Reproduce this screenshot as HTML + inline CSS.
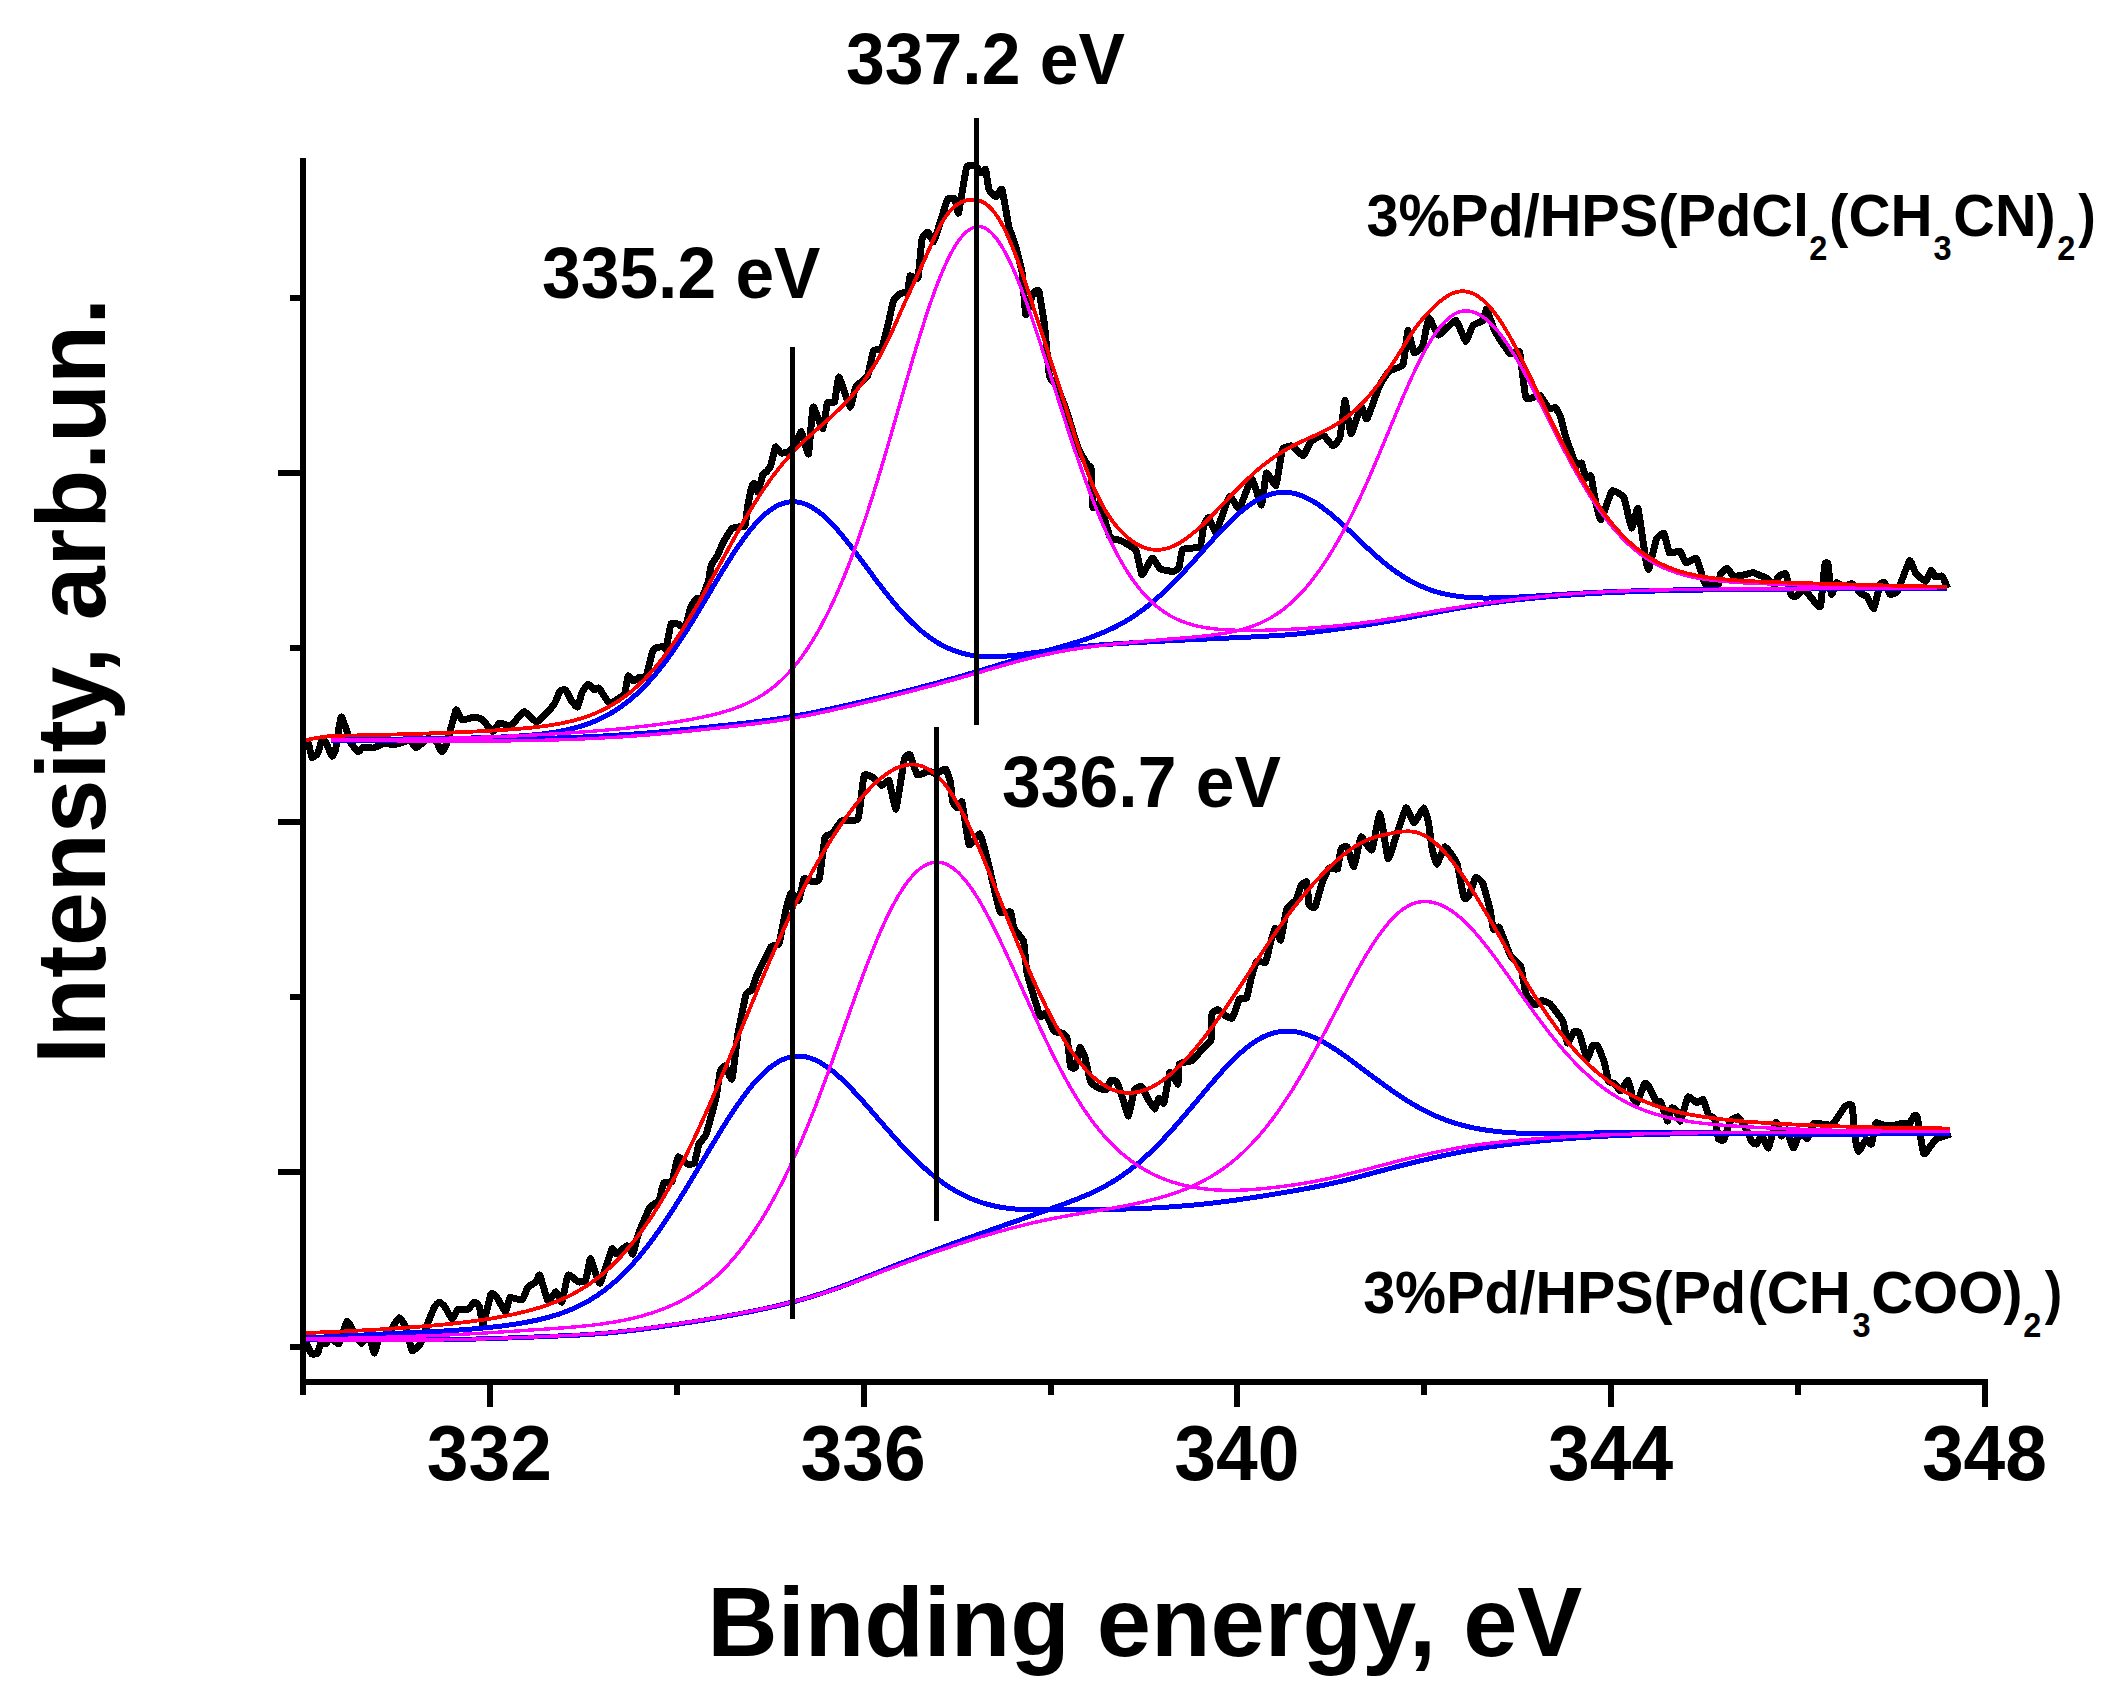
<!DOCTYPE html>
<html lang="en"><head><meta charset="utf-8"><title>XPS Pd 3d spectra</title>
<style>
html,body{margin:0;padding:0;background:#fff;}
body{width:2117px;height:1707px;overflow:hidden;}
svg{display:block;}
text{font-family:"Liberation Sans",sans-serif;font-weight:bold;fill:#000;}
.tl{font-size:78px;}
.at{font-size:99px;}
.pk{font-size:72px;}
.cl{font-size:60px;}
.sub{font-size:35px;}
path{fill:none;stroke-linejoin:round;stroke-linecap:butt;shape-rendering:crispEdges;}
rect{shape-rendering:crispEdges;}
.k{stroke:#000;stroke-width:7;}
.b{stroke:#0000ff;stroke-width:5;}
.m{stroke:#ff00ff;stroke-width:3.4;}
.r{stroke:#ff0000;stroke-width:3.8;}
.ax rect{fill:#000;}
</style></head><body>
<svg width="2117" height="1707" viewBox="0 0 2117 1707">
<rect width="2117" height="1707" fill="#fff"/>
<path d="M302.0,743.0C302.4,742.9 307.3,741.0 308.0,742.0C308.7,743.0 311.3,756.9 312.0,757.6C312.7,758.3 317.3,754.2 318.0,753.0C318.7,751.8 321.5,739.7 322.0,739.0C322.5,738.3 325.3,741.9 326.0,743.0C326.7,744.1 331.4,755.5 332.0,756.0C332.6,756.5 334.9,752.6 335.5,750.0C336.1,747.4 340.2,718.2 341.0,717.0C341.8,715.8 346.3,729.8 347.0,731.5C347.7,733.2 350.3,741.6 351.0,743.0C351.7,744.4 357.2,751.7 358.0,752.0C358.8,752.3 362.0,747.3 363.0,747.0C364.0,746.7 371.6,748.2 373.0,748.0C374.4,747.8 382.6,743.7 384.0,743.5C385.4,743.3 393.2,744.6 394.5,744.5C395.8,744.4 403.0,742.3 404.0,742.0C405.0,741.7 409.2,739.6 410.0,740.0C410.8,740.4 414.8,748.1 416.0,748.0C417.2,747.9 426.2,739.2 427.5,738.7C428.8,738.2 435.0,740.1 436.0,741.0C437.0,741.9 441.2,752.0 442.0,752.0C442.8,752.0 446.7,743.8 447.6,741.0C448.5,738.2 455.0,711.4 456.0,710.0C457.0,708.6 460.7,719.5 462.0,720.0C463.3,720.5 473.6,717.0 475.0,717.0C476.4,717.0 481.8,719.0 483.0,720.0C484.2,721.0 491.4,731.4 492.5,731.6C493.6,731.8 498.4,723.4 499.6,723.0C500.8,722.6 509.4,726.5 511.0,725.7C512.6,724.9 522.3,711.7 524.0,711.5C525.7,711.3 535.0,722.5 537.0,722.0C539.0,721.5 552.5,706.6 554.0,704.5C555.5,702.4 559.2,692.0 560.0,691.0C560.8,690.0 564.9,689.3 565.7,690.0C566.5,690.7 570.8,699.9 571.6,701.0C572.4,702.1 576.8,707.6 577.5,707.0C578.2,706.4 581.3,694.1 582.0,692.6C582.7,691.1 587.2,684.2 588.0,684.0C588.8,683.8 593.3,689.7 594.0,690.0C594.7,690.3 598.0,687.1 599.0,688.0C600.0,688.9 607.7,702.3 609.0,703.0C610.3,703.7 617.9,699.2 619.0,698.5C620.1,697.8 624.4,694.1 625.0,692.6C625.6,691.1 627.5,676.8 628.0,676.0C628.5,675.2 632.2,680.9 633.0,681.0C633.8,681.1 639.1,677.3 640.0,677.0C640.9,676.7 645.2,678.6 646.0,677.0C646.8,675.4 651.4,655.6 652.0,653.7C652.6,651.8 654.2,648.5 655.0,648.0C655.8,647.5 663.3,646.5 664.0,646.6C664.7,646.7 665.5,650.5 666.0,649.0C666.5,647.5 670.2,625.7 671.0,624.0C671.8,622.3 677.1,623.7 678.0,624.0C678.9,624.3 684.1,629.2 685.0,628.0C685.9,626.8 690.2,608.4 691.0,606.4C691.8,604.4 696.3,598.5 697.0,598.0C697.7,597.5 700.7,600.2 701.5,599.0C702.3,597.8 708.0,582.7 708.6,580.5C709.2,578.3 710.4,567.7 711.0,566.0C711.6,564.3 717.2,556.1 718.0,554.5C718.8,552.9 722.1,544.4 723.0,542.7C723.9,541.0 731.0,529.5 732.0,528.5C733.0,527.5 737.1,527.2 738.0,527.0C738.9,526.8 744.4,527.3 745.0,526.0C745.6,524.7 747.1,509.7 747.6,507.0C748.1,504.3 751.5,487.6 752.0,486.0C752.5,484.4 754.2,483.2 754.6,483.6C755.0,484.0 757.4,492.6 758.0,492.0C758.6,491.4 762.4,475.3 763.0,474.0C763.6,472.7 766.0,472.6 766.5,472.0C767.0,471.4 770.4,466.7 771.0,465.0C771.6,463.3 774.7,447.8 775.4,447.0C776.1,446.2 780.1,452.7 781.0,453.0C781.9,453.3 787.4,452.6 788.4,452.0C789.4,451.4 794.6,444.9 795.5,443.5C796.4,442.1 800.5,431.0 801.4,431.7C802.3,432.4 807.7,455.6 808.5,454.0C809.3,452.4 812.1,408.7 813.0,407.0C813.9,405.3 821.7,429.3 822.7,429.0C823.7,428.7 826.6,404.8 827.4,403.0C828.2,401.2 833.7,403.7 834.5,402.0C835.3,400.3 838.0,376.7 839.0,377.0C840.0,377.3 848.9,406.3 850.0,407.0C851.1,407.7 854.5,389.1 855.7,387.0C856.9,384.9 866.3,378.4 867.5,376.0C868.7,373.6 872.5,352.9 873.4,351.0C874.3,349.1 880.8,349.6 881.7,348.0C882.6,346.4 886.8,329.8 887.6,326.6C888.4,323.4 892.6,302.8 893.5,300.6C894.4,298.4 899.7,294.1 900.6,293.5C901.5,292.9 907.1,292.2 907.7,291.0C908.3,289.8 909.3,276.7 910.0,275.8C910.7,274.9 917.2,280.5 918.0,278.0C918.8,275.5 921.3,242.1 922.0,239.0C922.7,235.9 927.0,231.8 927.8,232.0C928.6,232.2 932.8,242.4 933.7,241.6C934.6,240.8 939.9,223.1 940.8,220.3C941.7,217.5 946.9,200.4 947.8,199.0C948.7,197.6 954.3,198.1 955.0,199.0C955.7,199.9 957.7,215.1 958.5,213.0C959.3,210.9 965.5,170.1 966.7,167.0C967.9,163.9 975.0,165.6 976.0,166.0C977.0,166.4 980.4,172.8 981.0,173.0C981.6,173.2 985.1,168.4 985.6,169.5C986.1,170.6 988.3,187.8 989.0,189.6C989.7,191.4 995.1,196.7 996.0,196.7C996.9,196.7 1001.1,187.6 1002.0,189.6C1002.9,191.6 1008.1,223.4 1009.0,227.0C1009.9,230.6 1014.1,241.0 1015.0,244.0C1015.9,247.0 1021.3,267.3 1022.0,272.0C1022.7,276.7 1025.1,313.4 1025.8,314.8C1026.5,316.2 1032.1,295.1 1033.0,293.5C1033.9,291.9 1038.0,288.8 1038.8,291.0C1039.6,293.2 1044.0,320.9 1044.7,326.6C1045.4,332.3 1048.6,372.1 1049.4,376.0C1050.2,379.9 1055.4,383.4 1056.5,385.6C1057.6,387.8 1064.6,404.9 1066.0,409.0C1067.4,413.1 1076.2,443.1 1077.7,447.0C1079.2,450.9 1088.1,465.5 1089.0,466.9C1089.9,468.3 1090.7,465.3 1091.0,468.0C1091.3,470.7 1092.4,505.1 1093.0,507.5C1093.6,509.9 1098.9,501.7 1100.0,503.7C1101.1,505.7 1108.6,534.5 1110.0,537.0C1111.4,539.5 1119.3,539.8 1121.0,540.7C1122.7,541.6 1134.6,548.2 1136.0,550.5C1137.4,552.8 1140.9,574.5 1142.0,575.0C1143.1,575.5 1150.8,558.4 1152.0,558.0C1153.2,557.6 1159.2,568.1 1160.6,569.0C1162.0,569.9 1171.8,571.5 1173.0,571.4C1174.2,571.3 1178.4,569.2 1179.0,567.7C1179.6,566.2 1181.3,550.7 1182.7,549.3C1184.1,547.9 1198.6,548.4 1200.0,546.8C1201.4,545.2 1203.0,528.0 1203.6,526.0C1204.2,524.0 1207.8,516.9 1208.6,517.3C1209.4,517.7 1214.6,533.4 1216.0,532.0C1217.4,530.6 1227.9,498.0 1229.5,496.4C1231.1,494.8 1237.8,509.9 1239.3,508.7C1240.8,507.5 1250.1,479.2 1251.6,479.0C1253.1,478.8 1260.5,505.4 1261.5,505.0C1262.5,504.6 1265.4,474.3 1266.4,473.0C1267.4,471.7 1274.9,486.9 1276.0,485.3C1277.1,483.7 1281.3,452.2 1282.4,449.6C1283.5,447.0 1290.6,445.6 1292.0,446.0C1293.4,446.4 1302.1,456.1 1303.3,455.8C1304.5,455.5 1309.4,443.4 1310.7,442.0C1312.0,440.6 1321.5,434.6 1323.0,434.9C1324.5,435.2 1331.7,445.8 1332.8,446.0C1333.9,446.2 1339.2,440.3 1340.0,437.3C1340.8,434.3 1344.3,400.6 1345.0,400.4C1345.7,400.2 1349.9,433.2 1351.0,433.6C1352.1,434.0 1359.9,407.6 1361.0,406.6C1362.1,405.6 1365.8,420.3 1367.0,418.9C1368.2,417.5 1378.1,388.8 1379.6,385.6C1381.1,382.4 1387.8,372.3 1389.4,370.9C1391.0,369.5 1401.8,367.4 1403.0,364.7C1404.2,362.0 1407.2,331.1 1407.9,330.3C1408.6,329.5 1413.0,351.3 1414.0,352.4C1415.0,353.5 1421.6,348.6 1422.6,346.3C1423.6,344.0 1427.7,318.7 1428.8,318.0C1429.9,317.3 1436.8,335.0 1438.6,335.2C1440.4,335.4 1454.0,320.0 1455.8,320.4C1457.6,320.8 1464.6,341.1 1465.7,341.4C1466.8,341.7 1471.8,326.8 1473.0,325.4C1474.2,324.0 1482.1,321.5 1483.0,320.4C1483.9,319.3 1485.8,308.7 1486.6,309.4C1487.4,310.1 1493.4,328.5 1495.0,331.5C1496.6,334.5 1508.4,352.3 1510.0,353.7C1511.6,355.1 1518.5,349.1 1519.6,352.0C1520.7,354.9 1524.6,394.9 1526.0,397.8C1527.4,400.7 1538.5,394.9 1540.0,395.6C1541.5,396.3 1547.9,407.9 1548.9,408.7C1549.9,409.5 1554.6,407.0 1555.4,407.6C1556.2,408.2 1560.2,415.5 1560.8,417.3C1561.4,419.1 1564.0,431.5 1565.0,434.7C1566.0,437.9 1574.9,463.1 1576.0,465.0C1577.1,466.9 1580.8,462.1 1581.5,463.0C1582.2,463.9 1585.2,477.1 1585.8,478.0C1586.4,478.9 1590.3,474.4 1591.0,476.0C1591.7,477.6 1594.9,499.1 1595.6,502.0C1596.3,504.9 1599.9,520.2 1601.0,519.5C1602.1,518.8 1610.5,492.5 1612.0,491.0C1613.5,489.5 1622.6,495.2 1623.9,497.7C1625.2,500.2 1630.6,527.3 1631.5,528.0C1632.4,528.7 1637.1,506.6 1638.0,508.6C1638.9,510.6 1644.9,554.5 1645.6,558.6C1646.3,562.7 1648.1,570.7 1648.8,569.4C1649.5,568.1 1655.5,541.4 1656.5,539.0C1657.5,536.6 1663.1,532.7 1664.0,533.6C1664.9,534.5 1668.4,551.8 1669.5,553.0C1670.6,554.2 1678.9,550.3 1680.0,551.0C1681.1,551.7 1684.7,562.5 1685.8,563.0C1686.9,563.5 1695.3,557.2 1696.6,558.6C1697.9,560.0 1703.5,581.9 1705.0,583.6C1706.5,585.3 1717.4,585.4 1718.4,584.7C1719.4,584.0 1719.9,574.9 1720.5,573.8C1721.1,572.7 1726.1,568.3 1727.0,568.4C1727.9,568.5 1732.4,575.6 1733.6,576.0C1734.8,576.4 1743.2,575.1 1744.5,574.9C1745.8,574.7 1751.6,572.5 1753.0,572.7C1754.4,572.9 1764.5,577.2 1766.0,578.0C1767.5,578.8 1774.1,584.8 1774.9,584.7C1775.7,584.6 1777.3,577.7 1778.0,577.0C1778.7,576.3 1784.8,572.6 1785.7,573.8C1786.6,575.0 1790.3,592.9 1791.0,594.4C1791.7,595.9 1794.6,597.0 1795.5,596.6C1796.4,596.2 1802.8,588.8 1804.0,589.0C1805.2,589.2 1811.9,598.7 1813.0,599.9C1814.1,601.1 1819.7,608.7 1820.5,606.4C1821.3,604.1 1824.3,567.8 1824.8,565.0C1825.3,562.2 1827.6,562.0 1828.0,564.0C1828.4,566.0 1830.8,593.2 1831.4,594.4C1832.0,595.6 1836.0,583.0 1836.8,582.5C1837.6,582.0 1842.0,586.7 1843.0,586.8C1844.0,586.9 1850.8,583.2 1852.0,583.6C1853.2,584.0 1859.7,592.5 1860.7,593.4C1861.7,594.3 1866.1,595.6 1867.0,596.6C1867.9,597.6 1872.9,609.4 1873.8,608.6C1874.7,607.8 1879.3,586.4 1880.0,584.7C1880.7,583.0 1883.9,581.9 1884.6,582.5C1885.3,583.1 1889.1,593.8 1890.0,594.4C1890.9,595.0 1896.3,593.2 1897.6,591.0C1898.9,588.8 1908.4,561.9 1909.6,560.8C1910.8,559.7 1914.9,572.4 1916.0,573.8C1917.1,575.2 1925.0,581.6 1926.0,581.4C1927.0,581.2 1930.4,570.8 1931.0,570.5C1931.6,570.2 1935.0,576.6 1935.7,577.0C1936.4,577.4 1941.2,575.3 1942.0,576.0C1942.8,576.7 1947.2,587.2 1947.6,588.0" class="k"/>
<path d="M303.0,1343.0C303.3,1343.1 306.4,1344.1 307.0,1344.8C307.6,1345.5 311.1,1353.5 311.8,1354.0C312.5,1354.5 317.1,1353.8 317.7,1353.0C318.3,1352.2 320.4,1343.1 321.0,1342.5C321.6,1341.9 325.4,1343.9 326.0,1343.6C326.6,1343.3 329.8,1337.7 330.7,1337.7C331.6,1337.7 337.9,1344.7 339.0,1343.6C340.1,1342.5 345.9,1321.5 347.0,1321.0C348.1,1320.5 354.5,1333.9 355.5,1335.4C356.5,1336.9 360.5,1343.6 361.4,1343.6C362.3,1343.6 367.6,1334.8 368.5,1335.4C369.4,1336.0 373.7,1352.8 374.4,1353.0C375.1,1353.2 378.0,1339.1 379.0,1337.7C380.0,1336.3 388.4,1333.1 389.7,1331.8C391.0,1330.5 397.9,1318.0 399.0,1317.7C400.1,1317.4 405.4,1325.8 406.3,1328.0C407.2,1330.2 411.1,1349.7 412.0,1350.7C412.9,1351.7 419.6,1344.9 420.5,1343.6C421.4,1342.3 424.1,1333.0 425.0,1330.6C425.9,1328.2 433.6,1308.9 434.6,1307.0C435.6,1305.1 438.6,1302.0 439.3,1302.0C440.0,1302.0 444.2,1305.9 445.0,1307.0C445.8,1308.1 451.1,1318.6 452.0,1318.8C452.9,1319.0 457.0,1310.0 458.0,1309.4C459.0,1308.8 466.6,1309.9 467.7,1309.4C468.8,1308.9 474.0,1302.2 474.8,1302.0C475.6,1301.8 479.0,1305.5 479.5,1307.0C480.0,1308.5 482.2,1325.6 483.0,1324.7C483.8,1323.8 490.1,1295.8 491.0,1294.0C491.9,1292.2 496.0,1296.4 497.0,1297.6C498.0,1298.8 504.6,1311.8 505.5,1311.8C506.4,1311.8 508.9,1298.4 510.0,1297.6C511.1,1296.8 520.8,1300.7 522.0,1300.0C523.2,1299.3 527.1,1288.2 528.0,1287.0C528.9,1285.8 535.2,1282.8 536.0,1282.0C536.8,1281.2 538.9,1273.7 539.7,1275.0C540.5,1276.3 546.9,1299.9 548.0,1301.0C549.1,1302.1 555.1,1291.6 556.0,1291.7C556.9,1291.8 561.2,1303.1 562.0,1302.0C562.8,1300.9 566.9,1276.3 568.0,1275.0C569.1,1273.7 577.5,1281.7 578.7,1282.0C579.9,1282.3 585.0,1281.5 585.8,1279.9C586.6,1278.3 589.6,1258.4 590.5,1258.6C591.4,1258.8 598.6,1284.0 600.0,1283.4C601.4,1282.8 610.7,1251.0 611.8,1249.0C612.9,1247.0 615.5,1254.2 616.5,1254.0C617.5,1253.8 625.9,1245.6 627.0,1245.6C628.1,1245.6 632.3,1254.6 633.0,1254.0C633.7,1253.4 636.6,1239.1 637.7,1236.0C638.8,1232.9 648.1,1210.2 649.5,1207.8C650.9,1205.4 658.1,1202.4 659.0,1200.7C659.9,1199.0 662.8,1184.3 663.7,1183.0C664.6,1181.7 671.0,1183.5 672.0,1181.8C673.0,1180.1 677.0,1158.2 678.0,1157.0C679.0,1155.8 686.2,1163.6 687.3,1164.0C688.4,1164.4 693.6,1164.3 694.4,1163.0C695.2,1161.7 698.2,1145.9 699.0,1144.0C699.8,1142.1 704.9,1137.6 706.0,1134.6C707.1,1131.6 714.7,1103.3 715.7,1099.0C716.7,1094.7 719.8,1073.0 720.4,1070.8C721.0,1068.6 724.2,1065.5 725.0,1066.0C725.8,1066.5 731.1,1081.1 732.0,1079.0C732.9,1076.9 736.9,1040.3 737.8,1034.7C738.7,1029.1 745.1,997.5 746.0,994.5C746.9,991.5 751.3,991.1 752.0,989.8C752.7,988.5 755.4,978.5 756.7,975.6C758.0,972.7 769.4,949.1 770.9,947.0C772.4,944.9 778.1,945.9 779.0,943.7C779.9,941.5 784.2,917.4 785.0,914.0C785.8,910.6 790.1,893.9 791.0,893.0C791.9,892.1 798.1,900.9 799.0,900.0C799.9,899.1 803.0,880.0 804.0,878.8C805.0,877.6 812.4,882.0 813.4,882.0C814.4,882.0 818.5,881.8 819.3,878.8C820.1,875.8 824.2,840.5 825.0,837.5C825.8,834.5 830.9,835.1 832.0,834.0C833.1,832.9 840.0,822.0 841.7,821.0C843.4,820.0 856.5,821.6 858.0,818.6C859.5,815.6 863.0,778.8 864.0,776.0C865.0,773.2 871.2,776.4 872.4,777.0C873.6,777.6 880.9,785.2 882.0,785.5C883.1,785.8 888.1,779.2 889.0,780.8C889.9,782.4 895.0,810.4 896.0,809.0C897.0,807.6 903.4,763.1 904.3,759.5C905.2,755.9 909.1,753.8 910.0,754.8C910.9,755.8 916.0,773.8 917.3,774.9C918.6,776.0 927.8,771.1 929.0,771.0C930.2,770.9 934.9,773.8 936.0,773.7C937.1,773.6 944.6,768.4 945.6,769.0C946.6,769.6 949.9,779.8 950.4,782.0C950.9,784.2 952.2,800.3 952.7,802.0C953.2,803.7 956.8,808.0 957.4,808.0C958.0,808.0 961.2,799.6 962.0,802.0C962.8,804.4 967.8,842.4 969.0,844.5C970.2,846.6 978.6,832.8 979.9,834.0C981.2,835.2 986.7,856.8 988.0,862.0C989.3,867.2 998.5,908.6 1000.0,911.9C1001.5,915.2 1009.7,910.8 1010.6,911.9C1011.5,913.0 1013.1,926.4 1014.0,928.4C1014.9,930.4 1022.7,938.4 1023.6,941.4C1024.5,944.4 1025.9,968.0 1027.0,973.0C1028.1,978.0 1038.7,1013.1 1040.0,1015.8C1041.3,1018.5 1045.1,1012.4 1046.0,1013.4C1046.9,1014.4 1052.9,1029.7 1054.0,1031.0C1055.1,1032.3 1061.1,1032.5 1062.0,1033.0C1062.9,1033.5 1066.4,1035.8 1067.0,1038.0C1067.6,1040.2 1070.0,1064.4 1070.6,1066.4C1071.2,1068.4 1074.8,1068.9 1075.4,1067.6C1076.0,1066.3 1079.4,1048.2 1080.0,1047.5C1080.6,1046.8 1084.1,1054.7 1084.8,1057.0C1085.5,1059.3 1089.8,1079.8 1090.7,1081.8C1091.6,1083.8 1096.8,1087.2 1097.8,1087.7C1098.8,1088.2 1105.1,1090.5 1106.0,1090.0C1106.9,1089.5 1110.1,1081.1 1110.8,1080.6C1111.5,1080.1 1115.9,1080.6 1116.7,1081.8C1117.5,1083.0 1121.8,1095.7 1122.6,1098.0C1123.4,1100.3 1127.7,1116.5 1128.5,1116.0C1129.3,1115.5 1133.5,1092.0 1134.4,1090.0C1135.3,1088.0 1140.6,1086.0 1141.5,1086.5C1142.4,1087.0 1146.5,1096.5 1147.4,1098.0C1148.3,1099.5 1153.7,1109.0 1154.5,1109.0C1155.3,1109.0 1158.4,1098.4 1159.0,1098.0C1159.6,1097.6 1163.3,1104.7 1164.0,1103.0C1164.7,1101.3 1168.9,1073.6 1169.8,1072.3C1170.7,1071.0 1177.4,1084.6 1178.0,1084.0C1178.6,1083.4 1178.4,1065.6 1179.3,1064.0C1180.2,1062.4 1190.5,1061.4 1192.0,1060.5C1193.5,1059.6 1200.4,1051.3 1201.7,1049.9C1203.0,1048.5 1210.3,1042.4 1211.0,1040.0C1211.7,1037.6 1211.5,1016.0 1212.0,1014.0C1212.5,1012.0 1217.1,1009.6 1218.0,1009.7C1218.9,1009.8 1224.3,1015.0 1225.3,1015.6C1226.3,1016.2 1231.5,1019.1 1232.4,1018.0C1233.3,1016.9 1238.6,1000.3 1239.5,999.0C1240.4,997.7 1245.8,999.4 1246.6,998.0C1247.4,996.6 1250.6,980.3 1251.3,977.8C1252.0,975.3 1256.1,962.0 1257.0,961.0C1257.9,960.0 1264.6,963.6 1265.5,962.5C1266.4,961.4 1269.4,947.1 1270.0,944.8C1270.6,942.5 1274.3,928.3 1275.0,928.0C1275.7,927.7 1280.0,941.3 1280.8,940.0C1281.6,938.7 1285.7,911.7 1286.7,909.0C1287.7,906.3 1295.1,901.5 1296.0,899.9C1296.9,898.3 1300.2,886.9 1300.9,885.7C1301.6,884.5 1306.3,880.7 1306.8,882.0C1307.3,883.3 1308.5,902.9 1309.0,904.6C1309.5,906.3 1314.1,908.4 1315.0,907.0C1315.9,905.6 1321.1,886.0 1322.0,883.4C1322.9,880.8 1328.0,869.0 1329.0,868.0C1330.0,867.0 1336.7,870.3 1337.5,869.0C1338.3,867.7 1340.4,850.5 1341.0,849.0C1341.6,847.5 1346.1,845.6 1347.0,846.8C1347.9,848.0 1353.1,867.5 1354.0,866.8C1354.9,866.1 1359.8,838.1 1361.0,837.0C1362.2,835.9 1370.5,851.6 1371.8,850.0C1373.1,848.4 1378.9,813.1 1380.0,813.7C1381.1,814.3 1387.0,856.9 1388.0,858.6C1389.0,860.3 1394.2,841.9 1395.4,838.5C1396.6,835.1 1404.8,808.8 1406.0,807.8C1407.2,806.8 1412.8,823.0 1414.0,823.0C1415.2,823.0 1422.7,807.9 1423.7,807.8C1424.7,807.7 1427.8,819.3 1428.4,822.0C1429.0,824.7 1431.4,845.2 1432.0,848.0C1432.6,850.8 1435.8,864.6 1436.7,864.5C1437.6,864.4 1443.7,846.9 1445.0,846.8C1446.3,846.7 1455.5,859.6 1456.8,863.0C1458.1,866.4 1463.1,895.3 1463.9,897.5C1464.7,899.7 1467.8,897.7 1468.6,896.4C1469.4,895.1 1474.8,878.4 1475.7,877.5C1476.6,876.6 1481.9,881.3 1482.8,883.4C1483.7,885.5 1489.2,905.9 1489.9,909.0C1490.6,912.1 1492.8,928.2 1493.4,929.4C1494.0,930.6 1498.1,925.9 1499.0,927.0C1499.9,928.1 1505.7,944.0 1506.5,946.0C1507.3,948.0 1510.1,955.3 1511.0,956.6C1511.9,957.9 1519.6,963.5 1520.6,966.0C1521.6,968.5 1525.1,991.4 1526.0,994.0C1526.9,996.6 1533.8,1004.6 1534.8,1005.0C1535.8,1005.4 1540.3,1000.7 1541.3,1000.6C1542.3,1000.5 1548.6,1002.5 1550.0,1003.9C1551.4,1005.3 1561.8,1018.7 1563.0,1021.3C1564.2,1023.9 1566.7,1042.3 1567.4,1043.0C1568.1,1043.7 1573.1,1032.7 1573.9,1032.0C1574.7,1031.3 1578.4,1031.2 1579.3,1033.0C1580.2,1034.8 1586.1,1058.1 1587.0,1059.0C1587.9,1059.9 1591.7,1046.9 1592.4,1046.0C1593.1,1045.1 1597.0,1044.9 1597.8,1046.0C1598.6,1047.1 1603.6,1060.2 1604.3,1062.5C1605.0,1064.8 1607.9,1079.6 1608.6,1081.0C1609.3,1082.4 1614.2,1083.3 1615.0,1084.0C1615.8,1084.7 1619.7,1091.1 1620.6,1090.8C1621.5,1090.5 1627.4,1079.6 1628.2,1080.0C1629.0,1080.4 1631.9,1095.5 1632.5,1097.0C1633.1,1098.5 1636.1,1103.6 1636.9,1102.7C1637.7,1101.8 1643.8,1085.2 1644.5,1084.0C1645.2,1082.8 1647.0,1083.8 1647.8,1085.0C1648.6,1086.2 1655.6,1100.6 1656.5,1101.7C1657.4,1102.8 1660.1,1100.4 1660.8,1101.7C1661.5,1103.0 1666.6,1120.6 1667.3,1121.0C1668.0,1121.4 1671.1,1108.7 1671.7,1108.0C1672.3,1107.3 1675.4,1109.1 1676.0,1110.0C1676.6,1110.9 1679.6,1121.9 1680.4,1121.0C1681.2,1120.1 1686.9,1098.2 1688.0,1097.0C1689.1,1095.8 1695.7,1102.5 1696.7,1102.7C1697.7,1102.9 1702.2,1098.7 1703.0,1099.5C1703.8,1100.3 1707.8,1113.4 1708.6,1114.7C1709.4,1116.0 1714.3,1117.4 1715.0,1119.0C1715.7,1120.6 1717.8,1137.2 1718.4,1138.6C1719.0,1140.0 1723.0,1140.9 1723.8,1139.7C1724.6,1138.5 1729.4,1122.5 1730.3,1121.0C1731.2,1119.5 1737.0,1116.5 1738.0,1116.9C1739.0,1117.3 1744.6,1126.0 1745.5,1127.7C1746.4,1129.4 1751.3,1140.8 1752.0,1141.9C1752.7,1143.0 1755.7,1144.4 1756.4,1144.0C1757.1,1143.6 1761.0,1135.7 1761.8,1136.0C1762.6,1136.3 1767.5,1148.9 1768.4,1148.0C1769.3,1147.1 1775.1,1123.1 1776.0,1122.3C1776.9,1121.5 1780.7,1135.5 1781.4,1136.0C1782.1,1136.5 1786.0,1129.2 1786.8,1130.0C1787.6,1130.8 1792.5,1147.8 1793.4,1148.0C1794.3,1148.2 1799.0,1133.6 1799.9,1133.0C1800.8,1132.4 1806.6,1139.3 1807.5,1138.6C1808.4,1137.9 1812.9,1123.9 1814.0,1123.0C1815.1,1122.1 1822.6,1124.4 1823.8,1124.5C1825.0,1124.6 1831.1,1125.7 1832.5,1124.5C1833.9,1123.3 1844.2,1107.2 1845.5,1106.0C1846.8,1104.8 1851.3,1103.8 1852.0,1106.0C1852.7,1108.2 1854.9,1135.6 1855.3,1138.6C1855.7,1141.6 1857.8,1151.5 1858.5,1151.6C1859.2,1151.7 1865.1,1140.2 1866.0,1139.7C1866.9,1139.2 1870.9,1145.1 1871.6,1144.0C1872.3,1142.9 1875.0,1124.2 1875.9,1123.0C1876.8,1121.8 1883.4,1125.4 1884.6,1125.6C1885.8,1125.8 1892.0,1125.8 1893.3,1125.6C1894.6,1125.4 1903.0,1123.0 1904.0,1123.0C1905.0,1123.0 1907.8,1126.1 1908.5,1125.6C1909.2,1125.1 1913.4,1116.4 1914.0,1115.8C1914.6,1115.2 1916.6,1114.4 1917.2,1116.9C1917.8,1119.4 1922.8,1151.9 1923.7,1153.8C1924.6,1155.7 1930.4,1146.0 1931.3,1145.0C1932.2,1144.0 1935.5,1139.3 1936.8,1138.6C1938.1,1137.9 1950.1,1134.3 1951.0,1134.0" class="k"/>
<path d="M331.0,739.6 L333.0,739.6 L335.0,739.6 L337.0,739.6 L339.0,739.5 L341.0,739.5 L343.0,739.5 L345.0,739.5 L347.0,739.5 L349.0,739.4 L351.0,739.4 L353.0,739.4 L355.0,739.4 L357.0,739.4 L359.0,739.3 L361.0,739.3 L363.0,739.3 L365.0,739.3 L367.0,739.3 L369.0,739.3 L371.0,739.2 L373.0,739.2 L375.0,739.2 L377.0,739.2 L379.0,739.2 L381.0,739.2 L383.0,739.1 L385.0,739.1 L387.0,739.1 L389.0,739.1 L391.0,739.1 L393.0,739.0 L395.0,739.0 L397.0,739.0 L399.0,739.0 L401.0,739.0 L403.0,739.0 L405.0,738.9 L407.0,738.9 L409.0,738.9 L411.0,738.9 L413.0,738.9 L415.0,738.8 L417.0,738.8 L419.0,738.8 L421.0,738.8 L423.0,738.8 L425.0,738.7 L427.0,738.7 L429.0,738.7 L431.0,738.7 L433.0,738.6 L435.0,738.6 L437.0,738.6 L439.0,738.5 L441.0,738.5 L443.0,738.5 L445.0,738.5 L447.0,738.4 L449.0,738.4 L451.0,738.4 L453.0,738.3 L455.0,738.3 L457.0,738.3 L459.0,738.2 L461.0,738.2 L463.0,738.1 L465.0,738.1 L467.0,738.1 L469.0,738.0 L471.0,738.0 L473.0,737.9 L475.0,737.9 L477.0,737.8 L479.0,737.8 L481.0,737.7 L483.0,737.6 L485.0,737.6 L487.0,737.5 L489.0,737.4 L491.0,737.4 L493.0,737.3 L495.0,737.2 L497.0,737.2 L499.0,737.1 L501.0,737.0 L503.0,736.9 L505.0,736.8 L507.0,736.7 L509.0,736.6 L511.0,736.5 L513.0,736.4 L515.0,736.3 L517.0,736.2 L519.0,736.0 L521.0,735.9 L523.0,735.7 L525.0,735.6 L527.0,735.4 L529.0,735.3 L531.0,735.1 L533.0,734.9 L535.0,734.7 L537.0,734.5 L539.0,734.3 L541.0,734.1 L543.0,733.9 L545.0,733.6 L547.0,733.3 L549.0,733.1 L551.0,732.8 L553.0,732.5 L555.0,732.2 L557.0,731.8 L559.0,731.5 L561.0,731.1 L563.0,730.7 L565.0,730.3 L567.0,729.8 L569.0,729.4 L571.0,728.9 L573.0,728.4 L575.0,727.9 L577.0,727.3 L579.0,726.8 L581.0,726.2 L583.0,725.5 L585.0,724.9 L587.0,724.2 L589.0,723.5 L591.0,722.7 L593.0,721.9 L595.0,721.1 L597.0,720.2 L599.0,719.3 L601.0,718.4 L603.0,717.4 L605.0,716.4 L607.0,715.3 L609.0,714.2 L611.0,713.1 L613.0,711.9 L615.0,710.7 L617.0,709.4 L619.0,708.0 L621.0,706.6 L623.0,705.2 L625.0,703.7 L627.0,702.2 L629.0,700.6 L631.0,698.9 L633.0,697.2 L635.0,695.5 L637.0,693.6 L639.0,691.8 L641.0,689.8 L643.0,687.8 L645.0,685.8 L647.0,683.7 L649.0,681.5 L651.0,679.3 L653.0,677.0 L655.0,674.7 L657.0,672.3 L659.0,669.8 L661.0,667.3 L663.0,664.7 L665.0,662.1 L667.0,659.4 L669.0,656.7 L671.0,653.9 L673.0,651.0 L675.0,648.1 L677.0,645.2 L679.0,642.2 L681.0,639.2 L683.0,636.1 L685.0,633.0 L687.0,629.9 L689.0,626.7 L691.0,623.5 L693.0,620.2 L695.0,616.9 L697.0,613.6 L699.0,610.3 L701.0,607.0 L703.0,603.6 L705.0,600.3 L707.0,596.9 L709.0,593.5 L711.0,590.2 L713.0,586.8 L715.0,583.4 L717.0,580.1 L719.0,576.8 L721.0,573.4 L723.0,570.2 L725.0,566.9 L727.0,563.7 L729.0,560.5 L731.0,557.3 L733.0,554.2 L735.0,551.2 L737.0,548.2 L739.0,545.2 L741.0,542.4 L743.0,539.6 L745.0,536.8 L747.0,534.2 L749.0,531.6 L751.0,529.1 L753.0,526.7 L755.0,524.4 L757.0,522.1 L759.0,520.0 L761.0,518.0 L763.0,516.1 L765.0,514.3 L767.0,512.6 L769.0,511.0 L771.0,509.6 L773.0,508.2 L775.0,507.0 L777.0,505.9 L779.0,505.0 L781.0,504.1 L783.0,503.4 L785.0,502.8 L787.0,502.4 L789.0,502.0 L791.0,501.8 L793.0,501.8 L795.0,501.8 L797.0,502.0 L799.0,502.3 L801.0,502.8 L803.0,503.3 L805.0,504.0 L807.0,504.8 L809.0,505.7 L811.0,506.8 L813.0,507.9 L815.0,509.2 L817.0,510.6 L819.0,512.0 L821.0,513.6 L823.0,515.3 L825.0,517.1 L827.0,518.9 L829.0,520.8 L831.0,522.9 L833.0,525.0 L835.0,527.1 L837.0,529.3 L839.0,531.6 L841.0,534.0 L843.0,536.4 L845.0,538.9 L847.0,541.4 L849.0,543.9 L851.0,546.5 L853.0,549.1 L855.0,551.7 L857.0,554.4 L859.0,557.1 L861.0,559.8 L863.0,562.5 L865.0,565.2 L867.0,567.9 L869.0,570.6 L871.0,573.3 L873.0,576.0 L875.0,578.7 L877.0,581.4 L879.0,584.0 L881.0,586.6 L883.0,589.2 L885.0,591.8 L887.0,594.3 L889.0,596.8 L891.0,599.3 L893.0,601.7 L895.0,604.1 L897.0,606.5 L899.0,608.8 L901.0,611.0 L903.0,613.2 L905.0,615.4 L907.0,617.5 L909.0,619.5 L911.0,621.5 L913.0,623.5 L915.0,625.4 L917.0,627.2 L919.0,629.0 L921.0,630.7 L923.0,632.3 L925.0,633.9 L927.0,635.5 L929.0,636.9 L931.0,638.4 L933.0,639.7 L935.0,641.0 L937.0,642.3 L939.0,643.5 L941.0,644.6 L943.0,645.7 L945.0,646.7 L947.0,647.6 L949.0,648.5 L951.0,649.4 L953.0,650.2 L955.0,650.9 L957.0,651.6 L959.0,652.3 L961.0,652.9 L963.0,653.4 L965.0,653.9 L967.0,654.4 L969.0,654.8 L971.0,655.2 L973.0,655.5 L975.0,655.8 L977.0,656.0 L979.0,656.2 L981.0,656.4 L983.0,656.6 L985.0,656.7 L987.0,656.7 L989.0,656.8 L991.0,656.8 L993.0,656.8 L995.0,656.7 L997.0,656.7 L999.0,656.6 L1001.0,656.5 L1003.0,656.3 L1005.0,656.2 L1007.0,656.0 L1009.0,655.8 L1011.0,655.6 L1013.0,655.4 L1015.0,655.2 L1017.0,655.0 L1019.0,654.7 L1021.0,654.5 L1023.0,654.2 L1025.0,653.9 L1027.0,653.7 L1029.0,653.4 L1031.0,653.1 L1033.0,652.8 L1035.0,652.5 L1037.0,652.2 L1039.0,652.0 L1041.0,651.7 L1043.0,651.4 L1045.0,651.1 L1047.0,650.8 L1049.0,650.5 L1051.0,650.3 L1053.0,650.0 L1055.0,649.7 L1057.0,649.5 L1059.0,649.2 L1061.0,648.9 L1063.0,648.7 L1065.0,648.4 L1067.0,648.2 L1069.0,648.0 L1071.0,647.7 L1073.0,647.5 L1075.0,647.3 L1077.0,647.1 L1079.0,646.8 L1081.0,646.6 L1083.0,646.4 L1085.0,646.3 L1087.0,646.1 L1089.0,645.9 L1091.0,645.7 L1093.0,645.5 L1095.0,645.4 L1097.0,645.2 L1099.0,645.0 L1101.0,644.9 L1103.0,644.7 L1105.0,644.6 L1107.0,644.4 L1109.0,644.3 L1111.0,644.1 L1113.0,644.0 L1115.0,643.9 L1117.0,643.7 L1119.0,643.6 L1121.0,643.5 L1123.0,643.4 L1125.0,643.2 L1127.0,643.1 L1129.0,643.0 L1131.0,642.9 L1133.0,642.8 L1135.0,642.6 L1137.0,642.5 L1139.0,642.4 L1141.0,642.3 L1143.0,642.2 L1145.0,642.1 L1147.0,642.0 L1149.0,641.9 L1151.0,641.8 L1153.0,641.6 L1155.0,641.5 L1157.0,641.4 L1159.0,641.3 L1161.0,641.2 L1163.0,641.1 L1165.0,641.0 L1167.0,640.9 L1169.0,640.8 L1171.0,640.7 L1173.0,640.6 L1175.0,640.5 L1177.0,640.4 L1179.0,640.3 L1181.0,640.2 L1183.0,640.1 L1185.0,640.0 L1187.0,639.9 L1189.0,639.8 L1191.0,639.7 L1193.0,639.7 L1195.0,639.6 L1197.0,639.5 L1199.0,639.4 L1201.0,639.3 L1203.0,639.2 L1205.0,639.1 L1207.0,639.0 L1209.0,638.9 L1211.0,638.8 L1213.0,638.7 L1215.0,638.6 L1217.0,638.5 L1219.0,638.4 L1221.0,638.4 L1223.0,638.3 L1225.0,638.2 L1227.0,638.1 L1229.0,638.0 L1231.0,637.9 L1233.0,637.8 L1235.0,637.7 L1237.0,637.6 L1239.0,637.5 L1241.0,637.4 L1243.0,637.4 L1245.0,637.3 L1247.0,637.2 L1249.0,637.1 L1251.0,637.0 L1253.0,636.9 L1255.0,636.8 L1257.0,636.7 L1259.0,636.6 L1261.0,636.5 L1263.0,636.4 L1265.0,636.3 L1267.0,636.2 L1269.0,636.0 L1271.0,635.9 L1273.0,635.8 L1275.0,635.7 L1277.0,635.5 L1279.0,635.4 L1281.0,635.3 L1283.0,635.1 L1285.0,635.0 L1287.0,634.8 L1289.0,634.7 L1291.0,634.5 L1293.0,634.3 L1295.0,634.1 L1297.0,634.0 L1299.0,633.8 L1301.0,633.6 L1303.0,633.4 L1305.0,633.2 L1307.0,632.9 L1309.0,632.7 L1311.0,632.5 L1313.0,632.3 L1315.0,632.0 L1317.0,631.8 L1319.0,631.5 L1321.0,631.3 L1323.0,631.0 L1325.0,630.8 L1327.0,630.5 L1329.0,630.2 L1331.0,630.0 L1333.0,629.7 L1335.0,629.4 L1337.0,629.1 L1339.0,628.9 L1341.0,628.6 L1343.0,628.3 L1345.0,628.0 L1347.0,627.7 L1349.0,627.5 L1351.0,627.2 L1353.0,626.9 L1355.0,626.6 L1357.0,626.3 L1359.0,626.0 L1361.0,625.7 L1363.0,625.4 L1365.0,625.1 L1367.0,624.8 L1369.0,624.5 L1371.0,624.2 L1373.0,623.8 L1375.0,623.5 L1377.0,623.2 L1379.0,622.9 L1381.0,622.5 L1383.0,622.2 L1385.0,621.9 L1387.0,621.5 L1389.0,621.2 L1391.0,620.8 L1393.0,620.5 L1395.0,620.1 L1397.0,619.7 L1399.0,619.4 L1401.0,619.0 L1403.0,618.6 L1405.0,618.3 L1407.0,617.9 L1409.0,617.5 L1411.0,617.1 L1413.0,616.7 L1415.0,616.3 L1417.0,616.0 L1419.0,615.6 L1421.0,615.2 L1423.0,614.8 L1425.0,614.4 L1427.0,614.0 L1429.0,613.7 L1431.0,613.3 L1433.0,612.9 L1435.0,612.5 L1437.0,612.1 L1439.0,611.8 L1441.0,611.4 L1443.0,611.0 L1445.0,610.6 L1447.0,610.3 L1449.0,609.9 L1451.0,609.6 L1453.0,609.2 L1455.0,608.8 L1457.0,608.5 L1459.0,608.1 L1461.0,607.8 L1463.0,607.4 L1465.0,607.1 L1467.0,606.8 L1469.0,606.4 L1471.0,606.1 L1473.0,605.8 L1475.0,605.5 L1477.0,605.1 L1479.0,604.8 L1481.0,604.5 L1483.0,604.2 L1485.0,603.9 L1487.0,603.6 L1489.0,603.3 L1491.0,603.0 L1493.0,602.8 L1495.0,602.5 L1497.0,602.2 L1499.0,602.0 L1501.0,601.7 L1503.0,601.4 L1505.0,601.2 L1507.0,600.9 L1509.0,600.7 L1511.0,600.5 L1513.0,600.2 L1515.0,600.0 L1517.0,599.8 L1519.0,599.6 L1521.0,599.4 L1523.0,599.2 L1525.0,599.0 L1527.0,598.8 L1529.0,598.6 L1531.0,598.4 L1533.0,598.2 L1535.0,598.0 L1537.0,597.8 L1539.0,597.6 L1541.0,597.4 L1543.0,597.3 L1545.0,597.1 L1547.0,596.9 L1549.0,596.7 L1551.0,596.6 L1553.0,596.4 L1555.0,596.2 L1557.0,596.1 L1559.0,595.9 L1561.0,595.7 L1563.0,595.6 L1565.0,595.4 L1567.0,595.3 L1569.0,595.1 L1571.0,595.0 L1573.0,594.8 L1575.0,594.7 L1577.0,594.5 L1579.0,594.4 L1581.0,594.3 L1583.0,594.1 L1585.0,594.0 L1587.0,593.9 L1589.0,593.7 L1591.0,593.6 L1593.0,593.5 L1595.0,593.4 L1597.0,593.3 L1599.0,593.2 L1601.0,593.1 L1603.0,592.9 L1605.0,592.8 L1607.0,592.7 L1609.0,592.7 L1611.0,592.6 L1613.0,592.5 L1615.0,592.4 L1617.0,592.3 L1619.0,592.2 L1621.0,592.1 L1623.0,592.0 L1625.0,592.0 L1627.0,591.9 L1629.0,591.8 L1631.0,591.7 L1633.0,591.7 L1635.0,591.6 L1637.0,591.5 L1639.0,591.5 L1641.0,591.4 L1643.0,591.3 L1645.0,591.3 L1647.0,591.2 L1649.0,591.2 L1651.0,591.1 L1653.0,591.0 L1655.0,591.0 L1657.0,590.9 L1659.0,590.9 L1661.0,590.8 L1663.0,590.8 L1665.0,590.7 L1667.0,590.7 L1669.0,590.6 L1671.0,590.6 L1673.0,590.5 L1675.0,590.5 L1677.0,590.5 L1679.0,590.4 L1681.0,590.4 L1683.0,590.3 L1685.0,590.3 L1687.0,590.3 L1689.0,590.2 L1691.0,590.2 L1693.0,590.1 L1695.0,590.1 L1697.0,590.1 L1699.0,590.0 L1701.0,590.0 L1703.0,590.0 L1705.0,589.9 L1707.0,589.9 L1709.0,589.9 L1711.0,589.8 L1713.0,589.8 L1715.0,589.8 L1717.0,589.8 L1719.0,589.7 L1721.0,589.7 L1723.0,589.7 L1725.0,589.7 L1727.0,589.6 L1729.0,589.6 L1731.0,589.6 L1733.0,589.5 L1735.0,589.5 L1737.0,589.5 L1739.0,589.5 L1741.0,589.5 L1743.0,589.4 L1745.0,589.4 L1747.0,589.4 L1749.0,589.4 L1751.0,589.3 L1753.0,589.3 L1755.0,589.3 L1757.0,589.3 L1759.0,589.3 L1761.0,589.2 L1763.0,589.2 L1765.0,589.2 L1767.0,589.2 L1769.0,589.2 L1771.0,589.1 L1773.0,589.1 L1775.0,589.1 L1777.0,589.1 L1779.0,589.1 L1781.0,589.1 L1783.0,589.0 L1785.0,589.0 L1787.0,589.0 L1789.0,589.0 L1791.0,589.0 L1793.0,588.9 L1795.0,588.9 L1797.0,588.9 L1799.0,588.9 L1801.0,588.9 L1803.0,588.9 L1805.0,588.8 L1807.0,588.8 L1809.0,588.8 L1811.0,588.8 L1813.0,588.8 L1815.0,588.8 L1817.0,588.7 L1819.0,588.7 L1821.0,588.7 L1823.0,588.7 L1825.0,588.7 L1827.0,588.7 L1829.0,588.6 L1831.0,588.6 L1833.0,588.6 L1835.0,588.6 L1837.0,588.6 L1839.0,588.6 L1841.0,588.5 L1843.0,588.5 L1845.0,588.5 L1847.0,588.5 L1849.0,588.5 L1851.0,588.5 L1853.0,588.4 L1855.0,588.4 L1857.0,588.4 L1859.0,588.4 L1861.0,588.4 L1863.0,588.4 L1865.0,588.3 L1867.0,588.3 L1869.0,588.3 L1871.0,588.3 L1873.0,588.3 L1875.0,588.3 L1877.0,588.2 L1879.0,588.2 L1881.0,588.2 L1883.0,588.2 L1885.0,588.2 L1887.0,588.2 L1889.0,588.2 L1891.0,588.1 L1893.0,588.1 L1895.0,588.1 L1897.0,588.1 L1899.0,588.1 L1901.0,588.1 L1903.0,588.0 L1905.0,588.0 L1907.0,588.0 L1909.0,588.0 L1911.0,588.0 L1913.0,588.0 L1915.0,588.0 L1917.0,587.9 L1919.0,587.9 L1921.0,587.9 L1923.0,587.9 L1925.0,587.9 L1927.0,587.9 L1929.0,587.9 L1931.0,587.8 L1933.0,587.8 L1935.0,587.8 L1937.0,587.8 L1939.0,587.8 L1941.0,587.8 L1943.0,587.8 L1945.0,587.7 L1947.0,587.7" class="b"/>
<path d="M331.0,740.3 L333.0,740.3 L335.0,740.3 L337.0,740.3 L339.0,740.3 L341.0,740.3 L343.0,740.3 L345.0,740.2 L347.0,740.2 L349.0,740.2 L351.0,740.2 L353.0,740.2 L355.0,740.2 L357.0,740.2 L359.0,740.2 L361.0,740.2 L363.0,740.2 L365.0,740.2 L367.0,740.2 L369.0,740.1 L371.0,740.1 L373.0,740.1 L375.0,740.1 L377.0,740.1 L379.0,740.1 L381.0,740.1 L383.0,740.1 L385.0,740.1 L387.0,740.1 L389.0,740.1 L391.0,740.1 L393.0,740.1 L395.0,740.1 L397.0,740.1 L399.0,740.0 L401.0,740.0 L403.0,740.0 L405.0,740.0 L407.0,740.0 L409.0,740.0 L411.0,740.0 L413.0,740.0 L415.0,740.0 L417.0,740.0 L419.0,740.0 L421.0,740.0 L423.0,740.0 L425.0,740.0 L427.0,739.9 L429.0,739.9 L431.0,739.9 L433.0,739.9 L435.0,739.9 L437.0,739.9 L439.0,739.9 L441.0,739.9 L443.0,739.9 L445.0,739.8 L447.0,739.8 L449.0,739.8 L451.0,739.8 L453.0,739.8 L455.0,739.8 L457.0,739.8 L459.0,739.7 L461.0,739.7 L463.0,739.7 L465.0,739.7 L467.0,739.7 L469.0,739.6 L471.0,739.6 L473.0,739.6 L475.0,739.6 L477.0,739.6 L479.0,739.5 L481.0,739.5 L483.0,739.5 L485.0,739.5 L487.0,739.4 L489.0,739.4 L491.0,739.4 L493.0,739.4 L495.0,739.3 L497.0,739.3 L499.0,739.3 L501.0,739.2 L503.0,739.2 L505.0,739.2 L507.0,739.1 L509.0,739.1 L511.0,739.1 L513.0,739.0 L515.0,739.0 L517.0,739.0 L519.0,738.9 L521.0,738.9 L523.0,738.9 L525.0,738.8 L527.0,738.8 L529.0,738.7 L531.0,738.7 L533.0,738.6 L535.0,738.6 L537.0,738.5 L539.0,738.5 L541.0,738.4 L543.0,738.4 L545.0,738.3 L547.0,738.3 L549.0,738.2 L551.0,738.2 L553.0,738.1 L555.0,738.0 L557.0,738.0 L559.0,737.9 L561.0,737.8 L563.0,737.8 L565.0,737.7 L567.0,737.6 L569.0,737.5 L571.0,737.5 L573.0,737.4 L575.0,737.3 L577.0,737.2 L579.0,737.1 L581.0,737.0 L583.0,737.0 L585.0,736.9 L587.0,736.8 L589.0,736.7 L591.0,736.6 L593.0,736.5 L595.0,736.4 L597.0,736.3 L599.0,736.2 L601.0,736.1 L603.0,736.0 L605.0,735.9 L607.0,735.7 L609.0,735.6 L611.0,735.5 L613.0,735.4 L615.0,735.3 L617.0,735.2 L619.0,735.0 L621.0,734.9 L623.0,734.8 L625.0,734.6 L627.0,734.5 L629.0,734.4 L631.0,734.2 L633.0,734.1 L635.0,733.9 L637.0,733.8 L639.0,733.6 L641.0,733.5 L643.0,733.3 L645.0,733.2 L647.0,733.0 L649.0,732.8 L651.0,732.7 L653.0,732.5 L655.0,732.3 L657.0,732.2 L659.0,732.0 L661.0,731.8 L663.0,731.6 L665.0,731.4 L667.0,731.3 L669.0,731.1 L671.0,730.9 L673.0,730.7 L675.0,730.5 L677.0,730.3 L679.0,730.1 L681.0,729.9 L683.0,729.7 L685.0,729.5 L687.0,729.3 L689.0,729.1 L691.0,728.9 L693.0,728.7 L695.0,728.5 L697.0,728.3 L699.0,728.0 L701.0,727.8 L703.0,727.6 L705.0,727.4 L707.0,727.2 L709.0,727.0 L711.0,726.8 L713.0,726.6 L715.0,726.4 L717.0,726.2 L719.0,725.9 L721.0,725.7 L723.0,725.5 L725.0,725.3 L727.0,725.1 L729.0,724.9 L731.0,724.6 L733.0,724.4 L735.0,724.2 L737.0,724.0 L739.0,723.8 L741.0,723.5 L743.0,723.3 L745.0,723.1 L747.0,722.9 L749.0,722.6 L751.0,722.4 L753.0,722.2 L755.0,721.9 L757.0,721.7 L759.0,721.4 L761.0,721.2 L763.0,720.9 L765.0,720.7 L767.0,720.4 L769.0,720.1 L771.0,719.9 L773.0,719.6 L775.0,719.3 L777.0,719.0 L779.0,718.7 L781.0,718.4 L783.0,718.1 L785.0,717.7 L787.0,717.4 L789.0,717.1 L791.0,716.7 L793.0,716.4 L795.0,716.0 L797.0,715.7 L799.0,715.3 L801.0,714.9 L803.0,714.6 L805.0,714.2 L807.0,713.8 L809.0,713.4 L811.0,713.0 L813.0,712.6 L815.0,712.2 L817.0,711.8 L819.0,711.4 L821.0,710.9 L823.0,710.5 L825.0,710.1 L827.0,709.7 L829.0,709.2 L831.0,708.8 L833.0,708.4 L835.0,707.9 L837.0,707.5 L839.0,707.0 L841.0,706.6 L843.0,706.1 L845.0,705.7 L847.0,705.2 L849.0,704.8 L851.0,704.3 L853.0,703.9 L855.0,703.4 L857.0,702.9 L859.0,702.5 L861.0,702.0 L863.0,701.6 L865.0,701.1 L867.0,700.6 L869.0,700.1 L871.0,699.7 L873.0,699.2 L875.0,698.7 L877.0,698.2 L879.0,697.8 L881.0,697.3 L883.0,696.8 L885.0,696.3 L887.0,695.8 L889.0,695.3 L891.0,694.8 L893.0,694.4 L895.0,693.9 L897.0,693.4 L899.0,692.9 L901.0,692.4 L903.0,691.9 L905.0,691.4 L907.0,690.8 L909.0,690.3 L911.0,689.8 L913.0,689.3 L915.0,688.8 L917.0,688.3 L919.0,687.8 L921.0,687.2 L923.0,686.7 L925.0,686.2 L927.0,685.7 L929.0,685.1 L931.0,684.6 L933.0,684.1 L935.0,683.5 L937.0,683.0 L939.0,682.4 L941.0,681.9 L943.0,681.3 L945.0,680.8 L947.0,680.2 L949.0,679.7 L951.0,679.1 L953.0,678.5 L955.0,678.0 L957.0,677.4 L959.0,676.8 L961.0,676.3 L963.0,675.7 L965.0,675.1 L967.0,674.5 L969.0,673.9 L971.0,673.3 L973.0,672.7 L975.0,672.1 L977.0,671.5 L979.0,670.9 L981.0,670.3 L983.0,669.7 L985.0,669.1 L987.0,668.5 L989.0,667.9 L991.0,667.3 L993.0,666.7 L995.0,666.0 L997.0,665.4 L999.0,664.8 L1001.0,664.2 L1003.0,663.6 L1005.0,663.0 L1007.0,662.4 L1009.0,661.8 L1011.0,661.2 L1013.0,660.6 L1015.0,660.0 L1017.0,659.4 L1019.0,658.8 L1021.0,658.2 L1023.0,657.6 L1025.0,657.0 L1027.0,656.4 L1029.0,655.8 L1031.0,655.3 L1033.0,654.7 L1035.0,654.1 L1037.0,653.5 L1039.0,653.0 L1041.0,652.4 L1043.0,651.8 L1045.0,651.3 L1047.0,650.7 L1049.0,650.1 L1051.0,649.6 L1053.0,649.0 L1055.0,648.4 L1057.0,647.9 L1059.0,647.3 L1061.0,646.7 L1063.0,646.2 L1065.0,645.6 L1067.0,645.0 L1069.0,644.4 L1071.0,643.8 L1073.0,643.2 L1075.0,642.6 L1077.0,642.0 L1079.0,641.3 L1081.0,640.7 L1083.0,640.0 L1085.0,639.4 L1087.0,638.7 L1089.0,638.0 L1091.0,637.3 L1093.0,636.6 L1095.0,635.8 L1097.0,635.0 L1099.0,634.2 L1101.0,633.4 L1103.0,632.6 L1105.0,631.7 L1107.0,630.8 L1109.0,629.9 L1111.0,629.0 L1113.0,628.0 L1115.0,627.0 L1117.0,626.0 L1119.0,624.9 L1121.0,623.9 L1123.0,622.7 L1125.0,621.6 L1127.0,620.4 L1129.0,619.2 L1131.0,617.9 L1133.0,616.6 L1135.0,615.3 L1137.0,613.9 L1139.0,612.5 L1141.0,611.1 L1143.0,609.6 L1145.0,608.1 L1147.0,606.5 L1149.0,605.0 L1151.0,603.3 L1153.0,601.7 L1155.0,600.0 L1157.0,598.2 L1159.0,596.5 L1161.0,594.7 L1163.0,592.8 L1165.0,590.9 L1167.0,589.0 L1169.0,587.1 L1171.0,585.1 L1173.0,583.1 L1175.0,581.1 L1177.0,579.0 L1179.0,577.0 L1181.0,574.8 L1183.0,572.7 L1185.0,570.6 L1187.0,568.4 L1189.0,566.2 L1191.0,564.0 L1193.0,561.8 L1195.0,559.6 L1197.0,557.3 L1199.0,555.1 L1201.0,552.9 L1203.0,550.6 L1205.0,548.4 L1207.0,546.1 L1209.0,543.9 L1211.0,541.7 L1213.0,539.5 L1215.0,537.3 L1217.0,535.1 L1219.0,533.0 L1221.0,530.9 L1223.0,528.8 L1225.0,526.7 L1227.0,524.7 L1229.0,522.7 L1231.0,520.7 L1233.0,518.8 L1235.0,516.9 L1237.0,515.1 L1239.0,513.3 L1241.0,511.6 L1243.0,510.0 L1245.0,508.4 L1247.0,506.9 L1249.0,505.4 L1251.0,504.0 L1253.0,502.7 L1255.0,501.4 L1257.0,500.2 L1259.0,499.1 L1261.0,498.1 L1263.0,497.2 L1265.0,496.3 L1267.0,495.5 L1269.0,494.8 L1271.0,494.2 L1273.0,493.7 L1275.0,493.2 L1277.0,492.9 L1279.0,492.6 L1281.0,492.4 L1283.0,492.3 L1285.0,492.3 L1287.0,492.4 L1289.0,492.6 L1291.0,492.9 L1293.0,493.2 L1295.0,493.7 L1297.0,494.2 L1299.0,494.8 L1301.0,495.5 L1303.0,496.3 L1305.0,497.1 L1307.0,498.1 L1309.0,499.1 L1311.0,500.2 L1313.0,501.3 L1315.0,502.5 L1317.0,503.8 L1319.0,505.1 L1321.0,506.5 L1323.0,508.0 L1325.0,509.5 L1327.0,511.0 L1329.0,512.6 L1331.0,514.3 L1333.0,516.0 L1335.0,517.7 L1337.0,519.4 L1339.0,521.2 L1341.0,523.0 L1343.0,524.9 L1345.0,526.7 L1347.0,528.6 L1349.0,530.5 L1351.0,532.4 L1353.0,534.3 L1355.0,536.2 L1357.0,538.1 L1359.0,540.0 L1361.0,541.9 L1363.0,543.8 L1365.0,545.7 L1367.0,547.6 L1369.0,549.4 L1371.0,551.3 L1373.0,553.1 L1375.0,554.9 L1377.0,556.6 L1379.0,558.4 L1381.0,560.1 L1383.0,561.8 L1385.0,563.4 L1387.0,565.0 L1389.0,566.6 L1391.0,568.1 L1393.0,569.6 L1395.0,571.1 L1397.0,572.5 L1399.0,573.8 L1401.0,575.2 L1403.0,576.5 L1405.0,577.7 L1407.0,578.9 L1409.0,580.1 L1411.0,581.2 L1413.0,582.3 L1415.0,583.3 L1417.0,584.3 L1419.0,585.2 L1421.0,586.1 L1423.0,587.0 L1425.0,587.8 L1427.0,588.6 L1429.0,589.4 L1431.0,590.1 L1433.0,590.7 L1435.0,591.4 L1437.0,592.0 L1439.0,592.5 L1441.0,593.1 L1443.0,593.6 L1445.0,594.0 L1447.0,594.5 L1449.0,594.9 L1451.0,595.2 L1453.0,595.6 L1455.0,595.9 L1457.0,596.2 L1459.0,596.5 L1461.0,596.7 L1463.0,596.9 L1465.0,597.1 L1467.0,597.3 L1469.0,597.4 L1471.0,597.5 L1473.0,597.7 L1475.0,597.7 L1477.0,597.8 L1479.0,597.9 L1481.0,597.9 L1483.0,598.0 L1485.0,598.0 L1487.0,598.0 L1489.0,598.0 L1491.0,597.9 L1493.0,597.9 L1495.0,597.9 L1497.0,597.8 L1499.0,597.8 L1501.0,597.7 L1503.0,597.7 L1505.0,597.6 L1507.0,597.5 L1509.0,597.4 L1511.0,597.3 L1513.0,597.2 L1515.0,597.2 L1517.0,597.1 L1519.0,597.0 L1521.0,596.9 L1523.0,596.7 L1525.0,596.6 L1527.0,596.5 L1529.0,596.4 L1531.0,596.3 L1533.0,596.2 L1535.0,596.1 L1537.0,595.9 L1539.0,595.8 L1541.0,595.7 L1543.0,595.6 L1545.0,595.5 L1547.0,595.3 L1549.0,595.2 L1551.0,595.1 L1553.0,594.9 L1555.0,594.8 L1557.0,594.7 L1559.0,594.5 L1561.0,594.4 L1563.0,594.3 L1565.0,594.2 L1567.0,594.0 L1569.0,593.9 L1571.0,593.8 L1573.0,593.6 L1575.0,593.5 L1577.0,593.4 L1579.0,593.3 L1581.0,593.2 L1583.0,593.0 L1585.0,592.9 L1587.0,592.8 L1589.0,592.7 L1591.0,592.6 L1593.0,592.5 L1595.0,592.4 L1597.0,592.3 L1599.0,592.2 L1601.0,592.1 L1603.0,592.0 L1605.0,591.9 L1607.0,591.8 L1609.0,591.8 L1611.0,591.7 L1613.0,591.6 L1615.0,591.5 L1617.0,591.4 L1619.0,591.4 L1621.0,591.3 L1623.0,591.2 L1625.0,591.2 L1627.0,591.1 L1629.0,591.0 L1631.0,591.0 L1633.0,590.9 L1635.0,590.8 L1637.0,590.8 L1639.0,590.7 L1641.0,590.7 L1643.0,590.6 L1645.0,590.6 L1647.0,590.5 L1649.0,590.5 L1651.0,590.4 L1653.0,590.4 L1655.0,590.3 L1657.0,590.3 L1659.0,590.2 L1661.0,590.2 L1663.0,590.1 L1665.0,590.1 L1667.0,590.1 L1669.0,590.0 L1671.0,590.0 L1673.0,590.0 L1675.0,589.9 L1677.0,589.9 L1679.0,589.9 L1681.0,589.8 L1683.0,589.8 L1685.0,589.8 L1687.0,589.7 L1689.0,589.7 L1691.0,589.7 L1693.0,589.6 L1695.0,589.6 L1697.0,589.6 L1699.0,589.6 L1701.0,589.5 L1703.0,589.5 L1705.0,589.5 L1707.0,589.5 L1709.0,589.5 L1711.0,589.4 L1713.0,589.4 L1715.0,589.4 L1717.0,589.4 L1719.0,589.4 L1721.0,589.3 L1723.0,589.3 L1725.0,589.3 L1727.0,589.3 L1729.0,589.3 L1731.0,589.3 L1733.0,589.2 L1735.0,589.2 L1737.0,589.2 L1739.0,589.2 L1741.0,589.2 L1743.0,589.2 L1745.0,589.2 L1747.0,589.1 L1749.0,589.1 L1751.0,589.1 L1753.0,589.1 L1755.0,589.1 L1757.0,589.1 L1759.0,589.1 L1761.0,589.1 L1763.0,589.1 L1765.0,589.0 L1767.0,589.0 L1769.0,589.0 L1771.0,589.0 L1773.0,589.0 L1775.0,589.0 L1777.0,589.0 L1779.0,589.0 L1781.0,589.0 L1783.0,589.0 L1785.0,589.0 L1787.0,588.9 L1789.0,588.9 L1791.0,588.9 L1793.0,588.9 L1795.0,588.9 L1797.0,588.9 L1799.0,588.9 L1801.0,588.9 L1803.0,588.9 L1805.0,588.9 L1807.0,588.9 L1809.0,588.9 L1811.0,588.9 L1813.0,588.9 L1815.0,588.9 L1817.0,588.8 L1819.0,588.8 L1821.0,588.8 L1823.0,588.8 L1825.0,588.8 L1827.0,588.8 L1829.0,588.8 L1831.0,588.8 L1833.0,588.8 L1835.0,588.8 L1837.0,588.8 L1839.0,588.8 L1841.0,588.8 L1843.0,588.8 L1845.0,588.8 L1847.0,588.8 L1849.0,588.8 L1851.0,588.7 L1853.0,588.7 L1855.0,588.7 L1857.0,588.7 L1859.0,588.7 L1861.0,588.7 L1863.0,588.7 L1865.0,588.7 L1867.0,588.7 L1869.0,588.7 L1871.0,588.7 L1873.0,588.7 L1875.0,588.7 L1877.0,588.7 L1879.0,588.7 L1881.0,588.7 L1883.0,588.7 L1885.0,588.7 L1887.0,588.7 L1889.0,588.7 L1891.0,588.7 L1893.0,588.7 L1895.0,588.7 L1897.0,588.7 L1899.0,588.7 L1901.0,588.7 L1903.0,588.7 L1905.0,588.7 L1907.0,588.6 L1909.0,588.6 L1911.0,588.6 L1913.0,588.6 L1915.0,588.6 L1917.0,588.6 L1919.0,588.6 L1921.0,588.6 L1923.0,588.6 L1925.0,588.6 L1927.0,588.6 L1929.0,588.6 L1931.0,588.6 L1933.0,588.6 L1935.0,588.6 L1937.0,588.6 L1939.0,588.6 L1941.0,588.6 L1943.0,588.6 L1945.0,588.6 L1947.0,588.6" class="b"/>
<path d="M331.0,739.9 L333.0,739.9 L335.0,739.9 L337.0,739.9 L339.0,739.8 L341.0,739.8 L343.0,739.8 L345.0,739.8 L347.0,739.8 L349.0,739.8 L351.0,739.8 L353.0,739.8 L355.0,739.7 L357.0,739.7 L359.0,739.7 L361.0,739.7 L363.0,739.7 L365.0,739.6 L367.0,739.6 L369.0,739.6 L371.0,739.6 L373.0,739.6 L375.0,739.5 L377.0,739.5 L379.0,739.5 L381.0,739.5 L383.0,739.5 L385.0,739.4 L387.0,739.4 L389.0,739.4 L391.0,739.3 L393.0,739.3 L395.0,739.3 L397.0,739.3 L399.0,739.2 L401.0,739.2 L403.0,739.2 L405.0,739.1 L407.0,739.1 L409.0,739.1 L411.0,739.0 L413.0,739.0 L415.0,739.0 L417.0,738.9 L419.0,738.9 L421.0,738.8 L423.0,738.8 L425.0,738.8 L427.0,738.7 L429.0,738.7 L431.0,738.6 L433.0,738.6 L435.0,738.5 L437.0,738.5 L439.0,738.5 L441.0,738.4 L443.0,738.4 L445.0,738.3 L447.0,738.3 L449.0,738.2 L451.0,738.1 L453.0,738.1 L455.0,738.0 L457.0,738.0 L459.0,737.9 L461.0,737.9 L463.0,737.8 L465.0,737.7 L467.0,737.7 L469.0,737.6 L471.0,737.6 L473.0,737.5 L475.0,737.4 L477.0,737.4 L479.0,737.3 L481.0,737.2 L483.0,737.1 L485.0,737.1 L487.0,737.0 L489.0,736.9 L491.0,736.9 L493.0,736.8 L495.0,736.7 L497.0,736.6 L499.0,736.6 L501.0,736.5 L503.0,736.4 L505.0,736.3 L507.0,736.2 L509.0,736.1 L511.0,736.1 L513.0,736.0 L515.0,735.9 L517.0,735.8 L519.0,735.7 L521.0,735.6 L523.0,735.5 L525.0,735.4 L527.0,735.3 L529.0,735.2 L531.0,735.1 L533.0,735.0 L535.0,734.9 L537.0,734.8 L539.0,734.7 L541.0,734.6 L543.0,734.5 L545.0,734.4 L547.0,734.3 L549.0,734.2 L551.0,734.1 L553.0,733.9 L555.0,733.8 L557.0,733.7 L559.0,733.6 L561.0,733.4 L563.0,733.3 L565.0,733.2 L567.0,733.1 L569.0,732.9 L571.0,732.8 L573.0,732.6 L575.0,732.5 L577.0,732.4 L579.0,732.2 L581.0,732.1 L583.0,731.9 L585.0,731.8 L587.0,731.6 L589.0,731.5 L591.0,731.3 L593.0,731.2 L595.0,731.0 L597.0,730.8 L599.0,730.7 L601.0,730.5 L603.0,730.3 L605.0,730.2 L607.0,730.0 L609.0,729.8 L611.0,729.6 L613.0,729.5 L615.0,729.3 L617.0,729.1 L619.0,728.9 L621.0,728.7 L623.0,728.5 L625.0,728.3 L627.0,728.1 L629.0,727.9 L631.0,727.7 L633.0,727.5 L635.0,727.3 L637.0,727.0 L639.0,726.8 L641.0,726.6 L643.0,726.4 L645.0,726.1 L647.0,725.9 L649.0,725.6 L651.0,725.4 L653.0,725.1 L655.0,724.9 L657.0,724.6 L659.0,724.4 L661.0,724.1 L663.0,723.8 L665.0,723.5 L667.0,723.3 L669.0,723.0 L671.0,722.7 L673.0,722.4 L675.0,722.1 L677.0,721.7 L679.0,721.4 L681.0,721.1 L683.0,720.8 L685.0,720.4 L687.0,720.1 L689.0,719.7 L691.0,719.4 L693.0,719.0 L695.0,718.6 L697.0,718.2 L699.0,717.8 L701.0,717.4 L703.0,717.0 L705.0,716.6 L707.0,716.1 L709.0,715.7 L711.0,715.2 L713.0,714.7 L715.0,714.2 L717.0,713.7 L719.0,713.2 L721.0,712.6 L723.0,712.0 L725.0,711.5 L727.0,710.8 L729.0,710.2 L731.0,709.6 L733.0,708.9 L735.0,708.2 L737.0,707.4 L739.0,706.7 L741.0,705.9 L743.0,705.0 L745.0,704.2 L747.0,703.3 L749.0,702.3 L751.0,701.4 L753.0,700.3 L755.0,699.3 L757.0,698.2 L759.0,697.0 L761.0,695.8 L763.0,694.6 L765.0,693.2 L767.0,691.9 L769.0,690.4 L771.0,688.9 L773.0,687.4 L775.0,685.8 L777.0,684.1 L779.0,682.3 L781.0,680.5 L783.0,678.6 L785.0,676.6 L787.0,674.6 L789.0,672.4 L791.0,670.2 L793.0,667.9 L795.0,665.5 L797.0,663.0 L799.0,660.5 L801.0,657.8 L803.0,655.0 L805.0,652.2 L807.0,649.3 L809.0,646.2 L811.0,643.1 L813.0,639.9 L815.0,636.5 L817.0,633.1 L819.0,629.6 L821.0,625.9 L823.0,622.2 L825.0,618.4 L827.0,614.4 L829.0,610.4 L831.0,606.3 L833.0,602.0 L835.0,597.7 L837.0,593.2 L839.0,588.7 L841.0,584.0 L843.0,579.2 L845.0,574.3 L847.0,569.3 L849.0,564.2 L851.0,559.0 L853.0,553.7 L855.0,548.2 L857.0,542.7 L859.0,537.1 L861.0,531.3 L863.0,525.5 L865.0,519.5 L867.0,513.5 L869.0,507.4 L871.0,501.1 L873.0,494.8 L875.0,488.4 L877.0,482.0 L879.0,475.4 L881.0,468.8 L883.0,462.1 L885.0,455.3 L887.0,448.5 L889.0,441.6 L891.0,434.7 L893.0,427.7 L895.0,420.8 L897.0,413.8 L899.0,406.8 L901.0,399.8 L903.0,392.8 L905.0,385.9 L907.0,379.0 L909.0,372.1 L911.0,365.2 L913.0,358.4 L915.0,351.7 L917.0,345.1 L919.0,338.5 L921.0,332.0 L923.0,325.7 L925.0,319.4 L927.0,313.3 L929.0,307.3 L931.0,301.5 L933.0,295.8 L935.0,290.3 L937.0,284.9 L939.0,279.8 L941.0,274.8 L943.0,270.1 L945.0,265.5 L947.0,261.2 L949.0,257.1 L951.0,253.2 L953.0,249.6 L955.0,246.2 L957.0,243.1 L959.0,240.2 L961.0,237.6 L963.0,235.3 L965.0,233.2 L967.0,231.4 L969.0,229.9 L971.0,228.7 L973.0,227.7 L975.0,227.0 L977.0,226.6 L979.0,226.5 L981.0,226.8 L983.0,227.3 L985.0,228.1 L987.0,229.3 L989.0,230.7 L991.0,232.4 L993.0,234.5 L995.0,236.8 L997.0,239.3 L999.0,242.2 L1001.0,245.3 L1003.0,248.6 L1005.0,252.2 L1007.0,256.0 L1009.0,260.0 L1011.0,264.2 L1013.0,268.6 L1015.0,273.2 L1017.0,278.0 L1019.0,283.0 L1021.0,288.1 L1023.0,293.3 L1025.0,298.7 L1027.0,304.2 L1029.0,309.9 L1031.0,315.6 L1033.0,321.5 L1035.0,327.4 L1037.0,333.4 L1039.0,339.4 L1041.0,345.6 L1043.0,351.7 L1045.0,357.9 L1047.0,364.2 L1049.0,370.4 L1051.0,376.7 L1053.0,383.0 L1055.0,389.3 L1057.0,395.6 L1059.0,401.8 L1061.0,408.1 L1063.0,414.3 L1065.0,420.5 L1067.0,426.6 L1069.0,432.7 L1071.0,438.7 L1073.0,444.7 L1075.0,450.6 L1077.0,456.5 L1079.0,462.3 L1081.0,468.0 L1083.0,473.6 L1085.0,479.2 L1087.0,484.6 L1089.0,490.0 L1091.0,495.3 L1093.0,500.4 L1095.0,505.5 L1097.0,510.5 L1099.0,515.3 L1101.0,520.1 L1103.0,524.7 L1105.0,529.2 L1107.0,533.6 L1109.0,537.9 L1111.0,542.1 L1113.0,546.2 L1115.0,550.1 L1117.0,553.9 L1119.0,557.6 L1121.0,561.2 L1123.0,564.6 L1125.0,568.0 L1127.0,571.2 L1129.0,574.3 L1131.0,577.3 L1133.0,580.2 L1135.0,583.0 L1137.0,585.6 L1139.0,588.2 L1141.0,590.6 L1143.0,592.9 L1145.0,595.2 L1147.0,597.3 L1149.0,599.4 L1151.0,601.3 L1153.0,603.2 L1155.0,604.9 L1157.0,606.6 L1159.0,608.2 L1161.0,609.7 L1163.0,611.2 L1165.0,612.5 L1167.0,613.8 L1169.0,615.0 L1171.0,616.2 L1173.0,617.2 L1175.0,618.3 L1177.0,619.2 L1179.0,620.1 L1181.0,621.0 L1183.0,621.7 L1185.0,622.5 L1187.0,623.2 L1189.0,623.8 L1191.0,624.4 L1193.0,625.0 L1195.0,625.5 L1197.0,626.0 L1199.0,626.4 L1201.0,626.8 L1203.0,627.2 L1205.0,627.5 L1207.0,627.9 L1209.0,628.1 L1211.0,628.4 L1213.0,628.7 L1215.0,628.9 L1217.0,629.1 L1219.0,629.3 L1221.0,629.4 L1223.0,629.6 L1225.0,629.7 L1227.0,629.8 L1229.0,629.9 L1231.0,630.0 L1233.0,630.1 L1235.0,630.2 L1237.0,630.2 L1239.0,630.3 L1241.0,630.3 L1243.0,630.3 L1245.0,630.3 L1247.0,630.4 L1249.0,630.4 L1251.0,630.4 L1253.0,630.3 L1255.0,630.3 L1257.0,630.3 L1259.0,630.3 L1261.0,630.2 L1263.0,630.2 L1265.0,630.2 L1267.0,630.1 L1269.0,630.1 L1271.0,630.0 L1273.0,629.9 L1275.0,629.9 L1277.0,629.8 L1279.0,629.7 L1281.0,629.7 L1283.0,629.6 L1285.0,629.5 L1287.0,629.4 L1289.0,629.3 L1291.0,629.2 L1293.0,629.1 L1295.0,629.0 L1297.0,628.9 L1299.0,628.8 L1301.0,628.6 L1303.0,628.5 L1305.0,628.4 L1307.0,628.3 L1309.0,628.1 L1311.0,628.0 L1313.0,627.8 L1315.0,627.7 L1317.0,627.5 L1319.0,627.4 L1321.0,627.2 L1323.0,627.1 L1325.0,626.9 L1327.0,626.7 L1329.0,626.5 L1331.0,626.4 L1333.0,626.2 L1335.0,626.0 L1337.0,625.8 L1339.0,625.6 L1341.0,625.4 L1343.0,625.2 L1345.0,624.9 L1347.0,624.7 L1349.0,624.5 L1351.0,624.3 L1353.0,624.0 L1355.0,623.8 L1357.0,623.6 L1359.0,623.3 L1361.0,623.1 L1363.0,622.8 L1365.0,622.5 L1367.0,622.3 L1369.0,622.0 L1371.0,621.7 L1373.0,621.4 L1375.0,621.2 L1377.0,620.9 L1379.0,620.6 L1381.0,620.3 L1383.0,620.0 L1385.0,619.7 L1387.0,619.3 L1389.0,619.0 L1391.0,618.7 L1393.0,618.4 L1395.0,618.0 L1397.0,617.7 L1399.0,617.4 L1401.0,617.0 L1403.0,616.7 L1405.0,616.4 L1407.0,616.0 L1409.0,615.7 L1411.0,615.3 L1413.0,615.0 L1415.0,614.6 L1417.0,614.3 L1419.0,613.9 L1421.0,613.6 L1423.0,613.2 L1425.0,612.9 L1427.0,612.5 L1429.0,612.2 L1431.0,611.8 L1433.0,611.5 L1435.0,611.1 L1437.0,610.8 L1439.0,610.4 L1441.0,610.1 L1443.0,609.8 L1445.0,609.4 L1447.0,609.1 L1449.0,608.8 L1451.0,608.4 L1453.0,608.1 L1455.0,607.8 L1457.0,607.5 L1459.0,607.2 L1461.0,606.8 L1463.0,606.5 L1465.0,606.2 L1467.0,605.9 L1469.0,605.6 L1471.0,605.3 L1473.0,605.0 L1475.0,604.7 L1477.0,604.4 L1479.0,604.1 L1481.0,603.8 L1483.0,603.6 L1485.0,603.3 L1487.0,603.0 L1489.0,602.7 L1491.0,602.5 L1493.0,602.2 L1495.0,601.9 L1497.0,601.7 L1499.0,601.4 L1501.0,601.2 L1503.0,600.9 L1505.0,600.6 L1507.0,600.4 L1509.0,600.2 L1511.0,599.9 L1513.0,599.7 L1515.0,599.4 L1517.0,599.2 L1519.0,599.0 L1521.0,598.7 L1523.0,598.5 L1525.0,598.3 L1527.0,598.1 L1529.0,597.8 L1531.0,597.6 L1533.0,597.4 L1535.0,597.2 L1537.0,597.0 L1539.0,596.8 L1541.0,596.6 L1543.0,596.4 L1545.0,596.2 L1547.0,596.0 L1549.0,595.8 L1551.0,595.6 L1553.0,595.4 L1555.0,595.2 L1557.0,595.0 L1559.0,594.9 L1561.0,594.7 L1563.0,594.5 L1565.0,594.3 L1567.0,594.2 L1569.0,594.0 L1571.0,593.9 L1573.0,593.7 L1575.0,593.6 L1577.0,593.4 L1579.0,593.3 L1581.0,593.1 L1583.0,593.0 L1585.0,592.9 L1587.0,592.7 L1589.0,592.6 L1591.0,592.5 L1593.0,592.4 L1595.0,592.3 L1597.0,592.2 L1599.0,592.1 L1601.0,591.9 L1603.0,591.8 L1605.0,591.8 L1607.0,591.7 L1609.0,591.6 L1611.0,591.5 L1613.0,591.4 L1615.0,591.3 L1617.0,591.2 L1619.0,591.1 L1621.0,591.1 L1623.0,591.0 L1625.0,590.9 L1627.0,590.8 L1629.0,590.8 L1631.0,590.7 L1633.0,590.6 L1635.0,590.6 L1637.0,590.5 L1639.0,590.5 L1641.0,590.4 L1643.0,590.4 L1645.0,590.3 L1647.0,590.2 L1649.0,590.2 L1651.0,590.1 L1653.0,590.1 L1655.0,590.1 L1657.0,590.0 L1659.0,590.0 L1661.0,589.9 L1663.0,589.9 L1665.0,589.8 L1667.0,589.8 L1669.0,589.8 L1671.0,589.7 L1673.0,589.7 L1675.0,589.7 L1677.0,589.6 L1679.0,589.6 L1681.0,589.6 L1683.0,589.5 L1685.0,589.5 L1687.0,589.5 L1689.0,589.5 L1691.0,589.4 L1693.0,589.4 L1695.0,589.4 L1697.0,589.4 L1699.0,589.3 L1701.0,589.3 L1703.0,589.3 L1705.0,589.3 L1707.0,589.3 L1709.0,589.2 L1711.0,589.2 L1713.0,589.2 L1715.0,589.2 L1717.0,589.2 L1719.0,589.2 L1721.0,589.1 L1723.0,589.1 L1725.0,589.1 L1727.0,589.1 L1729.0,589.1 L1731.0,589.1 L1733.0,589.1 L1735.0,589.1 L1737.0,589.0 L1739.0,589.0 L1741.0,589.0 L1743.0,589.0 L1745.0,589.0 L1747.0,589.0 L1749.0,589.0 L1751.0,589.0 L1753.0,589.0 L1755.0,589.0 L1757.0,589.0 L1759.0,588.9 L1761.0,588.9 L1763.0,588.9 L1765.0,588.9 L1767.0,588.9 L1769.0,588.9 L1771.0,588.9 L1773.0,588.9 L1775.0,588.9 L1777.0,588.9 L1779.0,588.9 L1781.0,588.9 L1783.0,588.9 L1785.0,588.9 L1787.0,588.8 L1789.0,588.8 L1791.0,588.8 L1793.0,588.8 L1795.0,588.8 L1797.0,588.8 L1799.0,588.8 L1801.0,588.8 L1803.0,588.8 L1805.0,588.8 L1807.0,588.8 L1809.0,588.8 L1811.0,588.8 L1813.0,588.7 L1815.0,588.7 L1817.0,588.7 L1819.0,588.7 L1821.0,588.7 L1823.0,588.7 L1825.0,588.7 L1827.0,588.7 L1829.0,588.7 L1831.0,588.7 L1833.0,588.7 L1835.0,588.6 L1837.0,588.6 L1839.0,588.6 L1841.0,588.6 L1843.0,588.6 L1845.0,588.6 L1847.0,588.6 L1849.0,588.6 L1851.0,588.6 L1853.0,588.5 L1855.0,588.5 L1857.0,588.5 L1859.0,588.5 L1861.0,588.5 L1863.0,588.5 L1865.0,588.5 L1867.0,588.5 L1869.0,588.4 L1871.0,588.4 L1873.0,588.4 L1875.0,588.4 L1877.0,588.4 L1879.0,588.4 L1881.0,588.3 L1883.0,588.3 L1885.0,588.3 L1887.0,588.3 L1889.0,588.3 L1891.0,588.3 L1893.0,588.2 L1895.0,588.2 L1897.0,588.2 L1899.0,588.2 L1901.0,588.2 L1903.0,588.2 L1905.0,588.1 L1907.0,588.1 L1909.0,588.1 L1911.0,588.1 L1913.0,588.1 L1915.0,588.0 L1917.0,588.0 L1919.0,588.0 L1921.0,588.0 L1923.0,587.9 L1925.0,587.9 L1927.0,587.9 L1929.0,587.9 L1931.0,587.8 L1933.0,587.8 L1935.0,587.8 L1937.0,587.8 L1939.0,587.7 L1941.0,587.7 L1943.0,587.7 L1945.0,587.7 L1947.0,587.6" class="m"/>
<path d="M331.0,740.0 L333.0,740.1 L335.0,740.1 L337.0,740.1 L339.0,740.1 L341.0,740.2 L343.0,740.2 L345.0,740.2 L347.0,740.2 L349.0,740.2 L351.0,740.3 L353.0,740.3 L355.0,740.3 L357.0,740.3 L359.0,740.4 L361.0,740.4 L363.0,740.4 L365.0,740.4 L367.0,740.4 L369.0,740.5 L371.0,740.5 L373.0,740.5 L375.0,740.5 L377.0,740.6 L379.0,740.6 L381.0,740.6 L383.0,740.6 L385.0,740.6 L387.0,740.7 L389.0,740.7 L391.0,740.7 L393.0,740.7 L395.0,740.7 L397.0,740.8 L399.0,740.8 L401.0,740.8 L403.0,740.8 L405.0,740.8 L407.0,740.8 L409.0,740.9 L411.0,740.9 L413.0,740.9 L415.0,740.9 L417.0,740.9 L419.0,740.9 L421.0,740.9 L423.0,741.0 L425.0,741.0 L427.0,741.0 L429.0,741.0 L431.0,741.0 L433.0,741.0 L435.0,741.0 L437.0,741.0 L439.0,741.0 L441.0,741.0 L443.0,741.0 L445.0,741.1 L447.0,741.1 L449.0,741.1 L451.0,741.1 L453.0,741.1 L455.0,741.1 L457.0,741.1 L459.0,741.1 L461.0,741.1 L463.0,741.1 L465.0,741.1 L467.0,741.1 L469.0,741.1 L471.0,741.1 L473.0,741.0 L475.0,741.0 L477.0,741.0 L479.0,741.0 L481.0,741.0 L483.0,741.0 L485.0,741.0 L487.0,741.0 L489.0,741.0 L491.0,741.0 L493.0,740.9 L495.0,740.9 L497.0,740.9 L499.0,740.9 L501.0,740.9 L503.0,740.9 L505.0,740.8 L507.0,740.8 L509.0,740.8 L511.0,740.8 L513.0,740.7 L515.0,740.7 L517.0,740.7 L519.0,740.7 L521.0,740.6 L523.0,740.6 L525.0,740.6 L527.0,740.5 L529.0,740.5 L531.0,740.5 L533.0,740.4 L535.0,740.4 L537.0,740.4 L539.0,740.3 L541.0,740.3 L543.0,740.2 L545.0,740.2 L547.0,740.1 L549.0,740.1 L551.0,740.0 L553.0,740.0 L555.0,739.9 L557.0,739.8 L559.0,739.8 L561.0,739.7 L563.0,739.7 L565.0,739.6 L567.0,739.5 L569.0,739.5 L571.0,739.4 L573.0,739.3 L575.0,739.2 L577.0,739.2 L579.0,739.1 L581.0,739.0 L583.0,738.9 L585.0,738.8 L587.0,738.7 L589.0,738.6 L591.0,738.5 L593.0,738.5 L595.0,738.4 L597.0,738.3 L599.0,738.2 L601.0,738.1 L603.0,738.0 L605.0,737.8 L607.0,737.7 L609.0,737.6 L611.0,737.5 L613.0,737.4 L615.0,737.3 L617.0,737.2 L619.0,737.0 L621.0,736.9 L623.0,736.8 L625.0,736.6 L627.0,736.5 L629.0,736.4 L631.0,736.2 L633.0,736.1 L635.0,735.9 L637.0,735.8 L639.0,735.6 L641.0,735.5 L643.0,735.3 L645.0,735.2 L647.0,735.0 L649.0,734.9 L651.0,734.7 L653.0,734.5 L655.0,734.3 L657.0,734.2 L659.0,734.0 L661.0,733.8 L663.0,733.6 L665.0,733.4 L667.0,733.3 L669.0,733.1 L671.0,732.9 L673.0,732.7 L675.0,732.5 L677.0,732.3 L679.0,732.1 L681.0,731.9 L683.0,731.7 L685.0,731.5 L687.0,731.3 L689.0,731.1 L691.0,730.9 L693.0,730.6 L695.0,730.4 L697.0,730.2 L699.0,730.0 L701.0,729.8 L703.0,729.6 L705.0,729.4 L707.0,729.2 L709.0,728.9 L711.0,728.7 L713.0,728.5 L715.0,728.3 L717.0,728.1 L719.0,727.9 L721.0,727.6 L723.0,727.4 L725.0,727.2 L727.0,727.0 L729.0,726.8 L731.0,726.5 L733.0,726.3 L735.0,726.1 L737.0,725.9 L739.0,725.7 L741.0,725.4 L743.0,725.2 L745.0,725.0 L747.0,724.7 L749.0,724.5 L751.0,724.3 L753.0,724.0 L755.0,723.8 L757.0,723.5 L759.0,723.3 L761.0,723.0 L763.0,722.7 L765.0,722.5 L767.0,722.2 L769.0,721.9 L771.0,721.6 L773.0,721.4 L775.0,721.1 L777.0,720.8 L779.0,720.5 L781.0,720.1 L783.0,719.8 L785.0,719.5 L787.0,719.2 L789.0,718.8 L791.0,718.5 L793.0,718.1 L795.0,717.8 L797.0,717.4 L799.0,717.0 L801.0,716.7 L803.0,716.3 L805.0,715.9 L807.0,715.5 L809.0,715.1 L811.0,714.7 L813.0,714.3 L815.0,713.9 L817.0,713.4 L819.0,713.0 L821.0,712.6 L823.0,712.2 L825.0,711.7 L827.0,711.3 L829.0,710.9 L831.0,710.4 L833.0,710.0 L835.0,709.5 L837.0,709.1 L839.0,708.6 L841.0,708.2 L843.0,707.7 L845.0,707.3 L847.0,706.8 L849.0,706.3 L851.0,705.9 L853.0,705.4 L855.0,705.0 L857.0,704.5 L859.0,704.0 L861.0,703.5 L863.0,703.1 L865.0,702.6 L867.0,702.1 L869.0,701.6 L871.0,701.2 L873.0,700.7 L875.0,700.2 L877.0,699.7 L879.0,699.2 L881.0,698.8 L883.0,698.3 L885.0,697.8 L887.0,697.3 L889.0,696.8 L891.0,696.3 L893.0,695.8 L895.0,695.3 L897.0,694.8 L899.0,694.3 L901.0,693.8 L903.0,693.3 L905.0,692.8 L907.0,692.2 L909.0,691.7 L911.0,691.2 L913.0,690.7 L915.0,690.2 L917.0,689.7 L919.0,689.1 L921.0,688.6 L923.0,688.1 L925.0,687.5 L927.0,687.0 L929.0,686.5 L931.0,685.9 L933.0,685.4 L935.0,684.9 L937.0,684.3 L939.0,683.8 L941.0,683.2 L943.0,682.7 L945.0,682.1 L947.0,681.6 L949.0,681.0 L951.0,680.4 L953.0,679.9 L955.0,679.3 L957.0,678.8 L959.0,678.2 L961.0,677.6 L963.0,677.1 L965.0,676.5 L967.0,675.9 L969.0,675.3 L971.0,674.8 L973.0,674.2 L975.0,673.6 L977.0,673.0 L979.0,672.4 L981.0,671.9 L983.0,671.3 L985.0,670.7 L987.0,670.1 L989.0,669.5 L991.0,668.9 L993.0,668.4 L995.0,667.8 L997.0,667.2 L999.0,666.6 L1001.0,666.1 L1003.0,665.5 L1005.0,664.9 L1007.0,664.4 L1009.0,663.8 L1011.0,663.2 L1013.0,662.7 L1015.0,662.1 L1017.0,661.6 L1019.0,661.1 L1021.0,660.5 L1023.0,660.0 L1025.0,659.5 L1027.0,659.0 L1029.0,658.5 L1031.0,658.0 L1033.0,657.5 L1035.0,657.0 L1037.0,656.5 L1039.0,656.1 L1041.0,655.6 L1043.0,655.2 L1045.0,654.7 L1047.0,654.3 L1049.0,653.9 L1051.0,653.4 L1053.0,653.0 L1055.0,652.6 L1057.0,652.2 L1059.0,651.8 L1061.0,651.5 L1063.0,651.1 L1065.0,650.7 L1067.0,650.4 L1069.0,650.0 L1071.0,649.7 L1073.0,649.4 L1075.0,649.1 L1077.0,648.7 L1079.0,648.4 L1081.0,648.1 L1083.0,647.8 L1085.0,647.6 L1087.0,647.3 L1089.0,647.0 L1091.0,646.8 L1093.0,646.5 L1095.0,646.2 L1097.0,646.0 L1099.0,645.8 L1101.0,645.5 L1103.0,645.3 L1105.0,645.1 L1107.0,644.8 L1109.0,644.6 L1111.0,644.4 L1113.0,644.2 L1115.0,644.0 L1117.0,643.8 L1119.0,643.6 L1121.0,643.4 L1123.0,643.2 L1125.0,643.0 L1127.0,642.8 L1129.0,642.6 L1131.0,642.4 L1133.0,642.2 L1135.0,642.0 L1137.0,641.9 L1139.0,641.7 L1141.0,641.5 L1143.0,641.3 L1145.0,641.1 L1147.0,641.0 L1149.0,640.8 L1151.0,640.6 L1153.0,640.4 L1155.0,640.3 L1157.0,640.1 L1159.0,639.9 L1161.0,639.7 L1163.0,639.6 L1165.0,639.4 L1167.0,639.2 L1169.0,639.1 L1171.0,638.9 L1173.0,638.8 L1175.0,638.6 L1177.0,638.4 L1179.0,638.3 L1181.0,638.1 L1183.0,637.9 L1185.0,637.8 L1187.0,637.6 L1189.0,637.4 L1191.0,637.3 L1193.0,637.1 L1195.0,636.9 L1197.0,636.7 L1199.0,636.5 L1201.0,636.3 L1203.0,636.1 L1205.0,635.9 L1207.0,635.7 L1209.0,635.5 L1211.0,635.2 L1213.0,635.0 L1215.0,634.7 L1217.0,634.4 L1219.0,634.1 L1221.0,633.8 L1223.0,633.5 L1225.0,633.2 L1227.0,632.8 L1229.0,632.4 L1231.0,632.1 L1233.0,631.6 L1235.0,631.2 L1237.0,630.7 L1239.0,630.2 L1241.0,629.7 L1243.0,629.2 L1245.0,628.6 L1247.0,628.0 L1249.0,627.4 L1251.0,626.7 L1253.0,626.0 L1255.0,625.2 L1257.0,624.4 L1259.0,623.6 L1261.0,622.7 L1263.0,621.8 L1265.0,620.8 L1267.0,619.8 L1269.0,618.8 L1271.0,617.6 L1273.0,616.4 L1275.0,615.2 L1277.0,613.9 L1279.0,612.5 L1281.0,611.1 L1283.0,609.6 L1285.0,608.1 L1287.0,606.4 L1289.0,604.7 L1291.0,603.0 L1293.0,601.1 L1295.0,599.2 L1297.0,597.3 L1299.0,595.2 L1301.0,593.1 L1303.0,590.9 L1305.0,588.7 L1307.0,586.4 L1309.0,584.0 L1311.0,581.5 L1313.0,578.9 L1315.0,576.3 L1317.0,573.6 L1319.0,570.8 L1321.0,568.0 L1323.0,565.1 L1325.0,562.1 L1327.0,559.0 L1329.0,555.9 L1331.0,552.7 L1333.0,549.4 L1335.0,546.0 L1337.0,542.6 L1339.0,539.1 L1341.0,535.5 L1343.0,531.8 L1345.0,528.1 L1347.0,524.3 L1349.0,520.4 L1351.0,516.4 L1353.0,512.4 L1355.0,508.3 L1357.0,504.2 L1359.0,499.9 L1361.0,495.6 L1363.0,491.3 L1365.0,486.8 L1367.0,482.4 L1369.0,477.8 L1371.0,473.3 L1373.0,468.6 L1375.0,463.9 L1377.0,459.2 L1379.0,454.5 L1381.0,449.7 L1383.0,444.9 L1385.0,440.1 L1387.0,435.3 L1389.0,430.4 L1391.0,425.6 L1393.0,420.8 L1395.0,416.0 L1397.0,411.2 L1399.0,406.4 L1401.0,401.7 L1403.0,397.0 L1405.0,392.4 L1407.0,387.8 L1409.0,383.3 L1411.0,378.9 L1413.0,374.5 L1415.0,370.2 L1417.0,366.1 L1419.0,362.0 L1421.0,358.1 L1423.0,354.2 L1425.0,350.5 L1427.0,346.9 L1429.0,343.5 L1431.0,340.2 L1433.0,337.0 L1435.0,334.1 L1437.0,331.2 L1439.0,328.6 L1441.0,326.1 L1443.0,323.8 L1445.0,321.6 L1447.0,319.7 L1449.0,317.9 L1451.0,316.4 L1453.0,315.0 L1455.0,313.8 L1457.0,312.8 L1459.0,312.1 L1461.0,311.5 L1463.0,311.1 L1465.0,310.9 L1467.0,310.9 L1469.0,311.1 L1471.0,311.4 L1473.0,311.9 L1475.0,312.6 L1477.0,313.4 L1479.0,314.4 L1481.0,315.6 L1483.0,316.9 L1485.0,318.3 L1487.0,319.9 L1489.0,321.7 L1491.0,323.6 L1493.0,325.7 L1495.0,327.9 L1497.0,330.2 L1499.0,332.6 L1501.0,335.2 L1503.0,337.9 L1505.0,340.7 L1507.0,343.6 L1509.0,346.6 L1511.0,349.8 L1513.0,353.0 L1515.0,356.3 L1517.0,359.6 L1519.0,363.1 L1521.0,366.6 L1523.0,370.2 L1525.0,373.9 L1527.0,377.6 L1529.0,381.3 L1531.0,385.1 L1533.0,389.0 L1535.0,392.8 L1537.0,396.7 L1539.0,400.7 L1541.0,404.6 L1543.0,408.6 L1545.0,412.5 L1547.0,416.5 L1549.0,420.5 L1551.0,424.5 L1553.0,428.4 L1555.0,432.4 L1557.0,436.3 L1559.0,440.2 L1561.0,444.1 L1563.0,447.9 L1565.0,451.7 L1567.0,455.5 L1569.0,459.3 L1571.0,463.0 L1573.0,466.7 L1575.0,470.3 L1577.0,473.8 L1579.0,477.4 L1581.0,480.8 L1583.0,484.2 L1585.0,487.6 L1587.0,490.9 L1589.0,494.1 L1591.0,497.3 L1593.0,500.4 L1595.0,503.4 L1597.0,506.4 L1599.0,509.3 L1601.0,512.1 L1603.0,514.9 L1605.0,517.6 L1607.0,520.2 L1609.0,522.8 L1611.0,525.3 L1613.0,527.7 L1615.0,530.0 L1617.0,532.3 L1619.0,534.5 L1621.0,536.7 L1623.0,538.7 L1625.0,540.7 L1627.0,542.7 L1629.0,544.6 L1631.0,546.4 L1633.0,548.1 L1635.0,549.8 L1637.0,551.4 L1639.0,553.0 L1641.0,554.5 L1643.0,555.9 L1645.0,557.3 L1647.0,558.7 L1649.0,559.9 L1651.0,561.2 L1653.0,562.3 L1655.0,563.4 L1657.0,564.5 L1659.0,565.5 L1661.0,566.5 L1663.0,567.5 L1665.0,568.4 L1667.0,569.2 L1669.0,570.0 L1671.0,570.8 L1673.0,571.5 L1675.0,572.2 L1677.0,572.9 L1679.0,573.5 L1681.0,574.1 L1683.0,574.7 L1685.0,575.2 L1687.0,575.7 L1689.0,576.2 L1691.0,576.7 L1693.0,577.1 L1695.0,577.5 L1697.0,577.9 L1699.0,578.2 L1701.0,578.6 L1703.0,578.9 L1705.0,579.2 L1707.0,579.5 L1709.0,579.8 L1711.0,580.0 L1713.0,580.3 L1715.0,580.5 L1717.0,580.7 L1719.0,581.0 L1721.0,581.1 L1723.0,581.3 L1725.0,581.5 L1727.0,581.7 L1729.0,581.8 L1731.0,582.0 L1733.0,582.1 L1735.0,582.3 L1737.0,582.4 L1739.0,582.5 L1741.0,582.6 L1743.0,582.8 L1745.0,582.9 L1747.0,583.0 L1749.0,583.1 L1751.0,583.2 L1753.0,583.2 L1755.0,583.3 L1757.0,583.4 L1759.0,583.5 L1761.0,583.6 L1763.0,583.7 L1765.0,583.7 L1767.0,583.8 L1769.0,583.9 L1771.0,584.0 L1773.0,584.0 L1775.0,584.1 L1777.0,584.2 L1779.0,584.2 L1781.0,584.3 L1783.0,584.3 L1785.0,584.4 L1787.0,584.5 L1789.0,584.5 L1791.0,584.6 L1793.0,584.7 L1795.0,584.7 L1797.0,584.8 L1799.0,584.8 L1801.0,584.9 L1803.0,584.9 L1805.0,585.0 L1807.0,585.1 L1809.0,585.1 L1811.0,585.2 L1813.0,585.2 L1815.0,585.3 L1817.0,585.3 L1819.0,585.4 L1821.0,585.4 L1823.0,585.5 L1825.0,585.5 L1827.0,585.6 L1829.0,585.6 L1831.0,585.7 L1833.0,585.7 L1835.0,585.8 L1837.0,585.8 L1839.0,585.9 L1841.0,585.9 L1843.0,586.0 L1845.0,586.0 L1847.0,586.1 L1849.0,586.1 L1851.0,586.2 L1853.0,586.2 L1855.0,586.3 L1857.0,586.3 L1859.0,586.3 L1861.0,586.4 L1863.0,586.4 L1865.0,586.5 L1867.0,586.5 L1869.0,586.5 L1871.0,586.6 L1873.0,586.6 L1875.0,586.6 L1877.0,586.7 L1879.0,586.7 L1881.0,586.7 L1883.0,586.8 L1885.0,586.8 L1887.0,586.8 L1889.0,586.8 L1891.0,586.9 L1893.0,586.9 L1895.0,586.9 L1897.0,586.9 L1899.0,586.9 L1901.0,587.0 L1903.0,587.0 L1905.0,587.0 L1907.0,587.0 L1909.0,587.0 L1911.0,587.0 L1913.0,587.0 L1915.0,587.0 L1917.0,587.0 L1919.0,587.0 L1921.0,587.0 L1923.0,587.0 L1925.0,587.0 L1927.0,587.0 L1929.0,587.0 L1931.0,587.0 L1933.0,587.0 L1935.0,586.9 L1937.0,586.9 L1939.0,586.9 L1941.0,586.9 L1943.0,586.8 L1945.0,586.8 L1947.0,586.8" class="m"/>
<path d="M302.0,1338.1 L304.0,1338.0 L306.0,1337.9 L308.0,1337.8 L310.0,1337.7 L312.0,1337.6 L314.0,1337.5 L316.0,1337.4 L318.0,1337.3 L320.0,1337.2 L322.0,1337.1 L324.0,1337.0 L326.0,1336.9 L328.0,1336.8 L330.0,1336.7 L332.0,1336.6 L334.0,1336.5 L336.0,1336.4 L338.0,1336.3 L340.0,1336.2 L342.0,1336.1 L344.0,1336.0 L346.0,1335.9 L348.0,1335.8 L350.0,1335.7 L352.0,1335.6 L354.0,1335.5 L356.0,1335.4 L358.0,1335.3 L360.0,1335.2 L362.0,1335.1 L364.0,1335.0 L366.0,1334.9 L368.0,1334.8 L370.0,1334.7 L372.0,1334.6 L374.0,1334.5 L376.0,1334.4 L378.0,1334.3 L380.0,1334.2 L382.0,1334.1 L384.0,1334.0 L386.0,1333.9 L388.0,1333.8 L390.0,1333.7 L392.0,1333.6 L394.0,1333.5 L396.0,1333.4 L398.0,1333.3 L400.0,1333.2 L402.0,1333.1 L404.0,1333.0 L406.0,1332.9 L408.0,1332.8 L410.0,1332.7 L412.0,1332.6 L414.0,1332.5 L416.0,1332.4 L418.0,1332.3 L420.0,1332.2 L422.0,1332.1 L424.0,1332.0 L426.0,1331.9 L428.0,1331.8 L430.0,1331.7 L432.0,1331.6 L434.0,1331.5 L436.0,1331.4 L438.0,1331.3 L440.0,1331.2 L442.0,1331.1 L444.0,1331.0 L446.0,1330.8 L448.0,1330.7 L450.0,1330.6 L452.0,1330.5 L454.0,1330.3 L456.0,1330.2 L458.0,1330.1 L460.0,1329.9 L462.0,1329.8 L464.0,1329.6 L466.0,1329.5 L468.0,1329.3 L470.0,1329.2 L472.0,1329.0 L474.0,1328.8 L476.0,1328.7 L478.0,1328.5 L480.0,1328.3 L482.0,1328.1 L484.0,1327.9 L486.0,1327.7 L488.0,1327.5 L490.0,1327.3 L492.0,1327.1 L494.0,1326.9 L496.0,1326.7 L498.0,1326.4 L500.0,1326.2 L502.0,1326.0 L504.0,1325.7 L506.0,1325.4 L508.0,1325.2 L510.0,1324.9 L512.0,1324.6 L514.0,1324.3 L516.0,1324.0 L518.0,1323.7 L520.0,1323.4 L522.0,1323.0 L524.0,1322.7 L526.0,1322.3 L528.0,1321.9 L530.0,1321.5 L532.0,1321.1 L534.0,1320.7 L536.0,1320.3 L538.0,1319.9 L540.0,1319.4 L542.0,1318.9 L544.0,1318.4 L546.0,1317.9 L548.0,1317.4 L550.0,1316.8 L552.0,1316.2 L554.0,1315.6 L556.0,1315.0 L558.0,1314.4 L560.0,1313.7 L562.0,1313.0 L564.0,1312.3 L566.0,1311.5 L568.0,1310.8 L570.0,1310.0 L572.0,1309.1 L574.0,1308.3 L576.0,1307.3 L578.0,1306.4 L580.0,1305.4 L582.0,1304.4 L584.0,1303.4 L586.0,1302.3 L588.0,1301.2 L590.0,1300.0 L592.0,1298.8 L594.0,1297.5 L596.0,1296.2 L598.0,1294.9 L600.0,1293.5 L602.0,1292.1 L604.0,1290.6 L606.0,1289.1 L608.0,1287.5 L610.0,1285.9 L612.0,1284.2 L614.0,1282.5 L616.0,1280.8 L618.0,1278.9 L620.0,1277.1 L622.0,1275.1 L624.0,1273.2 L626.0,1271.1 L628.0,1269.1 L630.0,1266.9 L632.0,1264.7 L634.0,1262.5 L636.0,1260.2 L638.0,1257.9 L640.0,1255.5 L642.0,1253.1 L644.0,1250.6 L646.0,1248.0 L648.0,1245.5 L650.0,1242.8 L652.0,1240.1 L654.0,1237.4 L656.0,1234.7 L658.0,1231.9 L660.0,1229.0 L662.0,1226.1 L664.0,1223.2 L666.0,1220.2 L668.0,1217.2 L670.0,1214.2 L672.0,1211.1 L674.0,1208.0 L676.0,1204.8 L678.0,1201.6 L680.0,1198.4 L682.0,1195.2 L684.0,1192.0 L686.0,1188.7 L688.0,1185.4 L690.0,1182.1 L692.0,1178.8 L694.0,1175.4 L696.0,1172.1 L698.0,1168.7 L700.0,1165.4 L702.0,1162.0 L704.0,1158.6 L706.0,1155.3 L708.0,1151.9 L710.0,1148.5 L712.0,1145.2 L714.0,1141.9 L716.0,1138.6 L718.0,1135.3 L720.0,1132.0 L722.0,1128.7 L724.0,1125.5 L726.0,1122.4 L728.0,1119.2 L730.0,1116.1 L732.0,1113.1 L734.0,1110.0 L736.0,1107.1 L738.0,1104.2 L740.0,1101.3 L742.0,1098.5 L744.0,1095.8 L746.0,1093.1 L748.0,1090.5 L750.0,1088.0 L752.0,1085.6 L754.0,1083.2 L756.0,1080.9 L758.0,1078.7 L760.0,1076.6 L762.0,1074.6 L764.0,1072.7 L766.0,1070.9 L768.0,1069.1 L770.0,1067.5 L772.0,1066.0 L774.0,1064.6 L776.0,1063.3 L778.0,1062.0 L780.0,1060.9 L782.0,1060.0 L784.0,1059.1 L786.0,1058.3 L788.0,1057.7 L790.0,1057.1 L792.0,1056.7 L794.0,1056.4 L796.0,1056.2 L798.0,1056.1 L800.0,1056.1 L802.0,1056.3 L804.0,1056.6 L806.0,1056.9 L808.0,1057.4 L810.0,1058.0 L812.0,1058.7 L814.0,1059.5 L816.0,1060.4 L818.0,1061.4 L820.0,1062.4 L822.0,1063.6 L824.0,1064.9 L826.0,1066.2 L828.0,1067.6 L830.0,1069.1 L832.0,1070.6 L834.0,1072.3 L836.0,1073.9 L838.0,1075.7 L840.0,1077.5 L842.0,1079.4 L844.0,1081.3 L846.0,1083.2 L848.0,1085.2 L850.0,1087.3 L852.0,1089.4 L854.0,1091.5 L856.0,1093.6 L858.0,1095.8 L860.0,1098.0 L862.0,1100.2 L864.0,1102.5 L866.0,1104.8 L868.0,1107.0 L870.0,1109.3 L872.0,1111.6 L874.0,1114.0 L876.0,1116.3 L878.0,1118.6 L880.0,1120.9 L882.0,1123.2 L884.0,1125.5 L886.0,1127.9 L888.0,1130.1 L890.0,1132.4 L892.0,1134.7 L894.0,1136.9 L896.0,1139.2 L898.0,1141.4 L900.0,1143.6 L902.0,1145.8 L904.0,1147.9 L906.0,1150.0 L908.0,1152.1 L910.0,1154.2 L912.0,1156.2 L914.0,1158.2 L916.0,1160.1 L918.0,1162.1 L920.0,1164.0 L922.0,1165.8 L924.0,1167.6 L926.0,1169.4 L928.0,1171.2 L930.0,1172.9 L932.0,1174.5 L934.0,1176.1 L936.0,1177.7 L938.0,1179.2 L940.0,1180.7 L942.0,1182.2 L944.0,1183.6 L946.0,1185.0 L948.0,1186.3 L950.0,1187.6 L952.0,1188.8 L954.0,1190.0 L956.0,1191.2 L958.0,1192.3 L960.0,1193.4 L962.0,1194.4 L964.0,1195.4 L966.0,1196.4 L968.0,1197.3 L970.0,1198.2 L972.0,1199.0 L974.0,1199.8 L976.0,1200.6 L978.0,1201.3 L980.0,1202.0 L982.0,1202.7 L984.0,1203.3 L986.0,1203.9 L988.0,1204.4 L990.0,1204.9 L992.0,1205.4 L994.0,1205.9 L996.0,1206.3 L998.0,1206.7 L1000.0,1207.1 L1002.0,1207.4 L1004.0,1207.7 L1006.0,1208.0 L1008.0,1208.3 L1010.0,1208.5 L1012.0,1208.7 L1014.0,1208.9 L1016.0,1209.1 L1018.0,1209.2 L1020.0,1209.4 L1022.0,1209.5 L1024.0,1209.6 L1026.0,1209.6 L1028.0,1209.7 L1030.0,1209.7 L1032.0,1209.8 L1034.0,1209.8 L1036.0,1209.8 L1038.0,1209.8 L1040.0,1209.8 L1042.0,1209.8 L1044.0,1209.8 L1046.0,1209.7 L1048.0,1209.7 L1050.0,1209.7 L1052.0,1209.7 L1054.0,1209.6 L1056.0,1209.6 L1058.0,1209.6 L1060.0,1209.5 L1062.0,1209.5 L1064.0,1209.5 L1066.0,1209.4 L1068.0,1209.4 L1070.0,1209.4 L1072.0,1209.4 L1074.0,1209.4 L1076.0,1209.3 L1078.0,1209.3 L1080.0,1209.3 L1082.0,1209.3 L1084.0,1209.3 L1086.0,1209.3 L1088.0,1209.3 L1090.0,1209.3 L1092.0,1209.3 L1094.0,1209.3 L1096.0,1209.3 L1098.0,1209.3 L1100.0,1209.3 L1102.0,1209.3 L1104.0,1209.2 L1106.0,1209.2 L1108.0,1209.2 L1110.0,1209.2 L1112.0,1209.2 L1114.0,1209.2 L1116.0,1209.1 L1118.0,1209.1 L1120.0,1209.1 L1122.0,1209.0 L1124.0,1209.0 L1126.0,1209.0 L1128.0,1208.9 L1130.0,1208.9 L1132.0,1208.8 L1134.0,1208.7 L1136.0,1208.7 L1138.0,1208.6 L1140.0,1208.5 L1142.0,1208.5 L1144.0,1208.4 L1146.0,1208.3 L1148.0,1208.2 L1150.0,1208.1 L1152.0,1208.0 L1154.0,1207.9 L1156.0,1207.8 L1158.0,1207.7 L1160.0,1207.6 L1162.0,1207.5 L1164.0,1207.3 L1166.0,1207.2 L1168.0,1207.1 L1170.0,1206.9 L1172.0,1206.8 L1174.0,1206.7 L1176.0,1206.5 L1178.0,1206.4 L1180.0,1206.2 L1182.0,1206.0 L1184.0,1205.9 L1186.0,1205.7 L1188.0,1205.5 L1190.0,1205.4 L1192.0,1205.2 L1194.0,1205.0 L1196.0,1204.8 L1198.0,1204.6 L1200.0,1204.4 L1202.0,1204.2 L1204.0,1204.0 L1206.0,1203.8 L1208.0,1203.6 L1210.0,1203.3 L1212.0,1203.1 L1214.0,1202.9 L1216.0,1202.7 L1218.0,1202.4 L1220.0,1202.2 L1222.0,1201.9 L1224.0,1201.7 L1226.0,1201.4 L1228.0,1201.2 L1230.0,1200.9 L1232.0,1200.6 L1234.0,1200.4 L1236.0,1200.1 L1238.0,1199.8 L1240.0,1199.5 L1242.0,1199.2 L1244.0,1198.9 L1246.0,1198.6 L1248.0,1198.3 L1250.0,1198.0 L1252.0,1197.7 L1254.0,1197.4 L1256.0,1197.1 L1258.0,1196.8 L1260.0,1196.5 L1262.0,1196.2 L1264.0,1195.9 L1266.0,1195.5 L1268.0,1195.2 L1270.0,1194.9 L1272.0,1194.6 L1274.0,1194.2 L1276.0,1193.9 L1278.0,1193.6 L1280.0,1193.2 L1282.0,1192.9 L1284.0,1192.6 L1286.0,1192.2 L1288.0,1191.9 L1290.0,1191.5 L1292.0,1191.2 L1294.0,1190.8 L1296.0,1190.5 L1298.0,1190.1 L1300.0,1189.8 L1302.0,1189.4 L1304.0,1189.0 L1306.0,1188.7 L1308.0,1188.3 L1310.0,1187.9 L1312.0,1187.5 L1314.0,1187.1 L1316.0,1186.7 L1318.0,1186.3 L1320.0,1185.9 L1322.0,1185.5 L1324.0,1185.1 L1326.0,1184.7 L1328.0,1184.3 L1330.0,1183.8 L1332.0,1183.4 L1334.0,1182.9 L1336.0,1182.5 L1338.0,1182.0 L1340.0,1181.5 L1342.0,1181.1 L1344.0,1180.6 L1346.0,1180.1 L1348.0,1179.6 L1350.0,1179.1 L1352.0,1178.6 L1354.0,1178.1 L1356.0,1177.6 L1358.0,1177.0 L1360.0,1176.5 L1362.0,1176.0 L1364.0,1175.4 L1366.0,1174.9 L1368.0,1174.4 L1370.0,1173.8 L1372.0,1173.3 L1374.0,1172.8 L1376.0,1172.2 L1378.0,1171.7 L1380.0,1171.2 L1382.0,1170.6 L1384.0,1170.1 L1386.0,1169.6 L1388.0,1169.0 L1390.0,1168.5 L1392.0,1168.0 L1394.0,1167.4 L1396.0,1166.9 L1398.0,1166.4 L1400.0,1165.9 L1402.0,1165.4 L1404.0,1164.9 L1406.0,1164.4 L1408.0,1163.9 L1410.0,1163.4 L1412.0,1162.9 L1414.0,1162.4 L1416.0,1161.9 L1418.0,1161.4 L1420.0,1160.9 L1422.0,1160.5 L1424.0,1160.0 L1426.0,1159.5 L1428.0,1159.1 L1430.0,1158.6 L1432.0,1158.1 L1434.0,1157.7 L1436.0,1157.2 L1438.0,1156.8 L1440.0,1156.3 L1442.0,1155.9 L1444.0,1155.5 L1446.0,1155.0 L1448.0,1154.6 L1450.0,1154.2 L1452.0,1153.8 L1454.0,1153.4 L1456.0,1153.0 L1458.0,1152.6 L1460.0,1152.2 L1462.0,1151.8 L1464.0,1151.4 L1466.0,1151.0 L1468.0,1150.6 L1470.0,1150.3 L1472.0,1149.9 L1474.0,1149.6 L1476.0,1149.2 L1478.0,1148.9 L1480.0,1148.5 L1482.0,1148.2 L1484.0,1147.9 L1486.0,1147.6 L1488.0,1147.2 L1490.0,1146.9 L1492.0,1146.6 L1494.0,1146.3 L1496.0,1146.1 L1498.0,1145.8 L1500.0,1145.5 L1502.0,1145.2 L1504.0,1145.0 L1506.0,1144.7 L1508.0,1144.5 L1510.0,1144.2 L1512.0,1144.0 L1514.0,1143.7 L1516.0,1143.5 L1518.0,1143.3 L1520.0,1143.0 L1522.0,1142.8 L1524.0,1142.6 L1526.0,1142.4 L1528.0,1142.2 L1530.0,1142.0 L1532.0,1141.7 L1534.0,1141.5 L1536.0,1141.4 L1538.0,1141.2 L1540.0,1141.0 L1542.0,1140.8 L1544.0,1140.6 L1546.0,1140.4 L1548.0,1140.2 L1550.0,1140.1 L1552.0,1139.9 L1554.0,1139.7 L1556.0,1139.5 L1558.0,1139.4 L1560.0,1139.2 L1562.0,1139.1 L1564.0,1138.9 L1566.0,1138.7 L1568.0,1138.6 L1570.0,1138.4 L1572.0,1138.3 L1574.0,1138.1 L1576.0,1138.0 L1578.0,1137.9 L1580.0,1137.7 L1582.0,1137.6 L1584.0,1137.4 L1586.0,1137.3 L1588.0,1137.2 L1590.0,1137.1 L1592.0,1136.9 L1594.0,1136.8 L1596.0,1136.7 L1598.0,1136.6 L1600.0,1136.5 L1602.0,1136.3 L1604.0,1136.2 L1606.0,1136.1 L1608.0,1136.0 L1610.0,1135.9 L1612.0,1135.8 L1614.0,1135.7 L1616.0,1135.6 L1618.0,1135.5 L1620.0,1135.5 L1622.0,1135.4 L1624.0,1135.3 L1626.0,1135.2 L1628.0,1135.1 L1630.0,1135.0 L1632.0,1135.0 L1634.0,1134.9 L1636.0,1134.8 L1638.0,1134.8 L1640.0,1134.7 L1642.0,1134.6 L1644.0,1134.6 L1646.0,1134.5 L1648.0,1134.5 L1650.0,1134.4 L1652.0,1134.4 L1654.0,1134.3 L1656.0,1134.3 L1658.0,1134.2 L1660.0,1134.2 L1662.0,1134.1 L1664.0,1134.1 L1666.0,1134.0 L1668.0,1134.0 L1670.0,1134.0 L1672.0,1133.9 L1674.0,1133.9 L1676.0,1133.9 L1678.0,1133.8 L1680.0,1133.8 L1682.0,1133.8 L1684.0,1133.8 L1686.0,1133.7 L1688.0,1133.7 L1690.0,1133.7 L1692.0,1133.7 L1694.0,1133.7 L1696.0,1133.7 L1698.0,1133.6 L1700.0,1133.6 L1702.0,1133.6 L1704.0,1133.6 L1706.0,1133.6 L1708.0,1133.6 L1710.0,1133.6 L1712.0,1133.6 L1714.0,1133.6 L1716.0,1133.6 L1718.0,1133.6 L1720.0,1133.6 L1722.0,1133.5 L1724.0,1133.5 L1726.0,1133.5 L1728.0,1133.5 L1730.0,1133.5 L1732.0,1133.5 L1734.0,1133.5 L1736.0,1133.5 L1738.0,1133.5 L1740.0,1133.5 L1742.0,1133.5 L1744.0,1133.5 L1746.0,1133.5 L1748.0,1133.5 L1750.0,1133.5 L1752.0,1133.5 L1754.0,1133.5 L1756.0,1133.5 L1758.0,1133.5 L1760.0,1133.5 L1762.0,1133.5 L1764.0,1133.5 L1766.0,1133.5 L1768.0,1133.5 L1770.0,1133.5 L1772.0,1133.5 L1774.0,1133.5 L1776.0,1133.5 L1778.0,1133.5 L1780.0,1133.5 L1782.0,1133.5 L1784.0,1133.5 L1786.0,1133.5 L1788.0,1133.5 L1790.0,1133.5 L1792.0,1133.5 L1794.0,1133.5 L1796.0,1133.5 L1798.0,1133.5 L1800.0,1133.5 L1802.0,1133.5 L1804.0,1133.5 L1806.0,1133.5 L1808.0,1133.5 L1810.0,1133.5 L1812.0,1133.5 L1814.0,1133.5 L1816.0,1133.5 L1818.0,1133.5 L1820.0,1133.5 L1822.0,1133.5 L1824.0,1133.5 L1826.0,1133.5 L1828.0,1133.5 L1830.0,1133.5 L1832.0,1133.5 L1834.0,1133.6 L1836.0,1133.6 L1838.0,1133.6 L1840.0,1133.6 L1842.0,1133.6 L1844.0,1133.6 L1846.0,1133.6 L1848.0,1133.6 L1850.0,1133.6 L1852.0,1133.6 L1854.0,1133.6 L1856.0,1133.6 L1858.0,1133.6 L1860.0,1133.6 L1862.0,1133.6 L1864.0,1133.6 L1866.0,1133.6 L1868.0,1133.6 L1870.0,1133.6 L1872.0,1133.6 L1874.0,1133.6 L1876.0,1133.6 L1878.0,1133.6 L1880.0,1133.6 L1882.0,1133.6 L1884.0,1133.6 L1886.0,1133.6 L1888.0,1133.6 L1890.0,1133.6 L1892.0,1133.6 L1894.0,1133.6 L1896.0,1133.6 L1898.0,1133.6 L1900.0,1133.7 L1902.0,1133.7 L1904.0,1133.7 L1906.0,1133.7 L1908.0,1133.7 L1910.0,1133.7 L1912.0,1133.7 L1914.0,1133.7 L1916.0,1133.7 L1918.0,1133.7 L1920.0,1133.7 L1922.0,1133.7 L1924.0,1133.7 L1926.0,1133.7 L1928.0,1133.7 L1930.0,1133.7 L1932.0,1133.7 L1934.0,1133.7 L1936.0,1133.7 L1938.0,1133.7 L1940.0,1133.7 L1942.0,1133.7 L1944.0,1133.8 L1946.0,1133.8 L1948.0,1133.8 L1950.0,1133.8" class="b"/>
<path d="M302.0,1339.8 L304.0,1339.8 L306.0,1339.8 L308.0,1339.8 L310.0,1339.8 L312.0,1339.8 L314.0,1339.8 L316.0,1339.8 L318.0,1339.8 L320.0,1339.8 L322.0,1339.9 L324.0,1339.9 L326.0,1339.9 L328.0,1339.9 L330.0,1339.9 L332.0,1339.9 L334.0,1339.9 L336.0,1339.9 L338.0,1339.9 L340.0,1339.9 L342.0,1339.9 L344.0,1339.9 L346.0,1339.9 L348.0,1339.9 L350.0,1339.9 L352.0,1339.9 L354.0,1339.9 L356.0,1339.9 L358.0,1339.9 L360.0,1339.9 L362.0,1339.9 L364.0,1339.9 L366.0,1339.9 L368.0,1339.9 L370.0,1339.9 L372.0,1339.9 L374.0,1339.9 L376.0,1339.8 L378.0,1339.8 L380.0,1339.8 L382.0,1339.8 L384.0,1339.8 L386.0,1339.8 L388.0,1339.8 L390.0,1339.8 L392.0,1339.8 L394.0,1339.8 L396.0,1339.8 L398.0,1339.8 L400.0,1339.8 L402.0,1339.8 L404.0,1339.8 L406.0,1339.8 L408.0,1339.8 L410.0,1339.8 L412.0,1339.8 L414.0,1339.8 L416.0,1339.8 L418.0,1339.7 L420.0,1339.7 L422.0,1339.7 L424.0,1339.7 L426.0,1339.7 L428.0,1339.7 L430.0,1339.7 L432.0,1339.7 L434.0,1339.6 L436.0,1339.6 L438.0,1339.6 L440.0,1339.6 L442.0,1339.6 L444.0,1339.5 L446.0,1339.5 L448.0,1339.5 L450.0,1339.5 L452.0,1339.4 L454.0,1339.4 L456.0,1339.4 L458.0,1339.3 L460.0,1339.3 L462.0,1339.3 L464.0,1339.2 L466.0,1339.2 L468.0,1339.1 L470.0,1339.1 L472.0,1339.1 L474.0,1339.0 L476.0,1339.0 L478.0,1338.9 L480.0,1338.8 L482.0,1338.8 L484.0,1338.7 L486.0,1338.7 L488.0,1338.6 L490.0,1338.6 L492.0,1338.5 L494.0,1338.4 L496.0,1338.4 L498.0,1338.3 L500.0,1338.2 L502.0,1338.2 L504.0,1338.1 L506.0,1338.0 L508.0,1338.0 L510.0,1337.9 L512.0,1337.8 L514.0,1337.7 L516.0,1337.7 L518.0,1337.6 L520.0,1337.5 L522.0,1337.5 L524.0,1337.4 L526.0,1337.3 L528.0,1337.2 L530.0,1337.2 L532.0,1337.1 L534.0,1337.0 L536.0,1336.9 L538.0,1336.8 L540.0,1336.8 L542.0,1336.7 L544.0,1336.6 L546.0,1336.5 L548.0,1336.5 L550.0,1336.4 L552.0,1336.3 L554.0,1336.2 L556.0,1336.1 L558.0,1336.0 L560.0,1335.9 L562.0,1335.9 L564.0,1335.8 L566.0,1335.7 L568.0,1335.6 L570.0,1335.5 L572.0,1335.4 L574.0,1335.3 L576.0,1335.2 L578.0,1335.1 L580.0,1335.0 L582.0,1334.8 L584.0,1334.7 L586.0,1334.6 L588.0,1334.5 L590.0,1334.4 L592.0,1334.2 L594.0,1334.1 L596.0,1333.9 L598.0,1333.8 L600.0,1333.6 L602.0,1333.5 L604.0,1333.3 L606.0,1333.2 L608.0,1333.0 L610.0,1332.8 L612.0,1332.6 L614.0,1332.4 L616.0,1332.2 L618.0,1332.0 L620.0,1331.8 L622.0,1331.6 L624.0,1331.4 L626.0,1331.2 L628.0,1330.9 L630.0,1330.7 L632.0,1330.5 L634.0,1330.2 L636.0,1330.0 L638.0,1329.7 L640.0,1329.5 L642.0,1329.2 L644.0,1329.0 L646.0,1328.7 L648.0,1328.4 L650.0,1328.2 L652.0,1327.9 L654.0,1327.6 L656.0,1327.3 L658.0,1327.1 L660.0,1326.8 L662.0,1326.5 L664.0,1326.2 L666.0,1325.9 L668.0,1325.6 L670.0,1325.3 L672.0,1325.0 L674.0,1324.8 L676.0,1324.5 L678.0,1324.2 L680.0,1323.9 L682.0,1323.5 L684.0,1323.2 L686.0,1322.9 L688.0,1322.6 L690.0,1322.3 L692.0,1322.0 L694.0,1321.7 L696.0,1321.4 L698.0,1321.0 L700.0,1320.7 L702.0,1320.4 L704.0,1320.1 L706.0,1319.7 L708.0,1319.4 L710.0,1319.0 L712.0,1318.7 L714.0,1318.4 L716.0,1318.0 L718.0,1317.7 L720.0,1317.3 L722.0,1317.0 L724.0,1316.6 L726.0,1316.2 L728.0,1315.9 L730.0,1315.5 L732.0,1315.1 L734.0,1314.8 L736.0,1314.4 L738.0,1314.0 L740.0,1313.6 L742.0,1313.2 L744.0,1312.9 L746.0,1312.5 L748.0,1312.1 L750.0,1311.7 L752.0,1311.3 L754.0,1310.9 L756.0,1310.4 L758.0,1310.0 L760.0,1309.6 L762.0,1309.2 L764.0,1308.8 L766.0,1308.3 L768.0,1307.9 L770.0,1307.4 L772.0,1307.0 L774.0,1306.5 L776.0,1306.1 L778.0,1305.6 L780.0,1305.1 L782.0,1304.6 L784.0,1304.1 L786.0,1303.6 L788.0,1303.1 L790.0,1302.6 L792.0,1302.1 L794.0,1301.6 L796.0,1301.1 L798.0,1300.5 L800.0,1300.0 L802.0,1299.4 L804.0,1298.8 L806.0,1298.3 L808.0,1297.7 L810.0,1297.1 L812.0,1296.5 L814.0,1295.9 L816.0,1295.3 L818.0,1294.6 L820.0,1294.0 L822.0,1293.3 L824.0,1292.7 L826.0,1292.0 L828.0,1291.3 L830.0,1290.6 L832.0,1289.9 L834.0,1289.2 L836.0,1288.5 L838.0,1287.8 L840.0,1287.1 L842.0,1286.3 L844.0,1285.6 L846.0,1284.8 L848.0,1284.1 L850.0,1283.3 L852.0,1282.5 L854.0,1281.8 L856.0,1281.0 L858.0,1280.2 L860.0,1279.4 L862.0,1278.6 L864.0,1277.8 L866.0,1277.0 L868.0,1276.2 L870.0,1275.5 L872.0,1274.7 L874.0,1273.9 L876.0,1273.1 L878.0,1272.3 L880.0,1271.5 L882.0,1270.7 L884.0,1269.9 L886.0,1269.1 L888.0,1268.3 L890.0,1267.5 L892.0,1266.7 L894.0,1266.0 L896.0,1265.2 L898.0,1264.4 L900.0,1263.6 L902.0,1262.9 L904.0,1262.1 L906.0,1261.3 L908.0,1260.5 L910.0,1259.8 L912.0,1259.0 L914.0,1258.3 L916.0,1257.5 L918.0,1256.7 L920.0,1256.0 L922.0,1255.2 L924.0,1254.5 L926.0,1253.7 L928.0,1252.9 L930.0,1252.2 L932.0,1251.4 L934.0,1250.7 L936.0,1249.9 L938.0,1249.2 L940.0,1248.4 L942.0,1247.7 L944.0,1246.9 L946.0,1246.2 L948.0,1245.5 L950.0,1244.7 L952.0,1244.0 L954.0,1243.2 L956.0,1242.5 L958.0,1241.8 L960.0,1241.0 L962.0,1240.3 L964.0,1239.6 L966.0,1238.9 L968.0,1238.1 L970.0,1237.4 L972.0,1236.7 L974.0,1236.0 L976.0,1235.3 L978.0,1234.6 L980.0,1233.8 L982.0,1233.1 L984.0,1232.4 L986.0,1231.7 L988.0,1231.0 L990.0,1230.3 L992.0,1229.6 L994.0,1228.9 L996.0,1228.2 L998.0,1227.5 L1000.0,1226.8 L1002.0,1226.0 L1004.0,1225.3 L1006.0,1224.6 L1008.0,1223.9 L1010.0,1223.2 L1012.0,1222.5 L1014.0,1221.8 L1016.0,1221.1 L1018.0,1220.4 L1020.0,1219.7 L1022.0,1219.0 L1024.0,1218.3 L1026.0,1217.5 L1028.0,1216.8 L1030.0,1216.1 L1032.0,1215.4 L1034.0,1214.7 L1036.0,1214.0 L1038.0,1213.3 L1040.0,1212.6 L1042.0,1211.9 L1044.0,1211.2 L1046.0,1210.4 L1048.0,1209.7 L1050.0,1209.0 L1052.0,1208.3 L1054.0,1207.6 L1056.0,1206.9 L1058.0,1206.2 L1060.0,1205.4 L1062.0,1204.7 L1064.0,1204.0 L1066.0,1203.3 L1068.0,1202.5 L1070.0,1201.8 L1072.0,1201.0 L1074.0,1200.2 L1076.0,1199.5 L1078.0,1198.7 L1080.0,1197.9 L1082.0,1197.0 L1084.0,1196.2 L1086.0,1195.3 L1088.0,1194.5 L1090.0,1193.6 L1092.0,1192.7 L1094.0,1191.7 L1096.0,1190.8 L1098.0,1189.8 L1100.0,1188.8 L1102.0,1187.7 L1104.0,1186.7 L1106.0,1185.6 L1108.0,1184.4 L1110.0,1183.3 L1112.0,1182.1 L1114.0,1180.9 L1116.0,1179.6 L1118.0,1178.3 L1120.0,1177.0 L1122.0,1175.6 L1124.0,1174.2 L1126.0,1172.8 L1128.0,1171.3 L1130.0,1169.8 L1132.0,1168.3 L1134.0,1166.7 L1136.0,1165.1 L1138.0,1163.4 L1140.0,1161.7 L1142.0,1160.0 L1144.0,1158.2 L1146.0,1156.4 L1148.0,1154.5 L1150.0,1152.7 L1152.0,1150.7 L1154.0,1148.8 L1156.0,1146.8 L1158.0,1144.8 L1160.0,1142.7 L1162.0,1140.7 L1164.0,1138.6 L1166.0,1136.4 L1168.0,1134.3 L1170.0,1132.1 L1172.0,1129.9 L1174.0,1127.6 L1176.0,1125.3 L1178.0,1123.1 L1180.0,1120.8 L1182.0,1118.4 L1184.0,1116.1 L1186.0,1113.8 L1188.0,1111.4 L1190.0,1109.0 L1192.0,1106.6 L1194.0,1104.3 L1196.0,1101.9 L1198.0,1099.5 L1200.0,1097.1 L1202.0,1094.7 L1204.0,1092.3 L1206.0,1089.9 L1208.0,1087.6 L1210.0,1085.2 L1212.0,1082.9 L1214.0,1080.6 L1216.0,1078.3 L1218.0,1076.0 L1220.0,1073.8 L1222.0,1071.5 L1224.0,1069.4 L1226.0,1067.2 L1228.0,1065.1 L1230.0,1063.0 L1232.0,1061.0 L1234.0,1059.0 L1236.0,1057.1 L1238.0,1055.2 L1240.0,1053.4 L1242.0,1051.6 L1244.0,1049.9 L1246.0,1048.2 L1248.0,1046.6 L1250.0,1045.1 L1252.0,1043.7 L1254.0,1042.3 L1256.0,1041.0 L1258.0,1039.8 L1260.0,1038.6 L1262.0,1037.5 L1264.0,1036.5 L1266.0,1035.6 L1268.0,1034.8 L1270.0,1034.1 L1272.0,1033.4 L1274.0,1032.8 L1276.0,1032.4 L1278.0,1032.0 L1280.0,1031.7 L1282.0,1031.4 L1284.0,1031.3 L1286.0,1031.2 L1288.0,1031.2 L1290.0,1031.3 L1292.0,1031.4 L1294.0,1031.6 L1296.0,1031.9 L1298.0,1032.2 L1300.0,1032.7 L1302.0,1033.2 L1304.0,1033.7 L1306.0,1034.3 L1308.0,1035.0 L1310.0,1035.8 L1312.0,1036.6 L1314.0,1037.4 L1316.0,1038.3 L1318.0,1039.3 L1320.0,1040.3 L1322.0,1041.3 L1324.0,1042.4 L1326.0,1043.6 L1328.0,1044.8 L1330.0,1046.0 L1332.0,1047.2 L1334.0,1048.5 L1336.0,1049.8 L1338.0,1051.1 L1340.0,1052.5 L1342.0,1053.9 L1344.0,1055.3 L1346.0,1056.7 L1348.0,1058.1 L1350.0,1059.6 L1352.0,1061.0 L1354.0,1062.5 L1356.0,1064.0 L1358.0,1065.5 L1360.0,1067.0 L1362.0,1068.5 L1364.0,1070.0 L1366.0,1071.5 L1368.0,1073.0 L1370.0,1074.5 L1372.0,1076.0 L1374.0,1077.5 L1376.0,1079.0 L1378.0,1080.5 L1380.0,1081.9 L1382.0,1083.4 L1384.0,1084.9 L1386.0,1086.3 L1388.0,1087.7 L1390.0,1089.2 L1392.0,1090.6 L1394.0,1092.0 L1396.0,1093.3 L1398.0,1094.7 L1400.0,1096.0 L1402.0,1097.3 L1404.0,1098.6 L1406.0,1099.9 L1408.0,1101.2 L1410.0,1102.4 L1412.0,1103.6 L1414.0,1104.8 L1416.0,1105.9 L1418.0,1107.1 L1420.0,1108.2 L1422.0,1109.3 L1424.0,1110.3 L1426.0,1111.3 L1428.0,1112.3 L1430.0,1113.3 L1432.0,1114.2 L1434.0,1115.2 L1436.0,1116.0 L1438.0,1116.9 L1440.0,1117.7 L1442.0,1118.5 L1444.0,1119.3 L1446.0,1120.1 L1448.0,1120.8 L1450.0,1121.5 L1452.0,1122.2 L1454.0,1122.8 L1456.0,1123.4 L1458.0,1124.0 L1460.0,1124.6 L1462.0,1125.1 L1464.0,1125.7 L1466.0,1126.2 L1468.0,1126.6 L1470.0,1127.1 L1472.0,1127.5 L1474.0,1128.0 L1476.0,1128.4 L1478.0,1128.7 L1480.0,1129.1 L1482.0,1129.4 L1484.0,1129.8 L1486.0,1130.1 L1488.0,1130.4 L1490.0,1130.6 L1492.0,1130.9 L1494.0,1131.1 L1496.0,1131.4 L1498.0,1131.6 L1500.0,1131.8 L1502.0,1132.0 L1504.0,1132.2 L1506.0,1132.3 L1508.0,1132.5 L1510.0,1132.6 L1512.0,1132.8 L1514.0,1132.9 L1516.0,1133.0 L1518.0,1133.1 L1520.0,1133.2 L1522.0,1133.3 L1524.0,1133.3 L1526.0,1133.4 L1528.0,1133.5 L1530.0,1133.5 L1532.0,1133.6 L1534.0,1133.6 L1536.0,1133.6 L1538.0,1133.7 L1540.0,1133.7 L1542.0,1133.7 L1544.0,1133.7 L1546.0,1133.7 L1548.0,1133.7 L1550.0,1133.7 L1552.0,1133.7 L1554.0,1133.7 L1556.0,1133.7 L1558.0,1133.6 L1560.0,1133.6 L1562.0,1133.6 L1564.0,1133.6 L1566.0,1133.5 L1568.0,1133.5 L1570.0,1133.5 L1572.0,1133.4 L1574.0,1133.4 L1576.0,1133.3 L1578.0,1133.3 L1580.0,1133.3 L1582.0,1133.2 L1584.0,1133.2 L1586.0,1133.1 L1588.0,1133.1 L1590.0,1133.1 L1592.0,1133.0 L1594.0,1133.0 L1596.0,1132.9 L1598.0,1132.9 L1600.0,1132.8 L1602.0,1132.8 L1604.0,1132.8 L1606.0,1132.7 L1608.0,1132.7 L1610.0,1132.7 L1612.0,1132.6 L1614.0,1132.6 L1616.0,1132.6 L1618.0,1132.5 L1620.0,1132.5 L1622.0,1132.5 L1624.0,1132.4 L1626.0,1132.4 L1628.0,1132.4 L1630.0,1132.4 L1632.0,1132.4 L1634.0,1132.3 L1636.0,1132.3 L1638.0,1132.3 L1640.0,1132.3 L1642.0,1132.3 L1644.0,1132.3 L1646.0,1132.3 L1648.0,1132.3 L1650.0,1132.3 L1652.0,1132.3 L1654.0,1132.3 L1656.0,1132.3 L1658.0,1132.3 L1660.0,1132.3 L1662.0,1132.3 L1664.0,1132.3 L1666.0,1132.3 L1668.0,1132.3 L1670.0,1132.3 L1672.0,1132.3 L1674.0,1132.4 L1676.0,1132.4 L1678.0,1132.4 L1680.0,1132.4 L1682.0,1132.4 L1684.0,1132.5 L1686.0,1132.5 L1688.0,1132.5 L1690.0,1132.5 L1692.0,1132.6 L1694.0,1132.6 L1696.0,1132.6 L1698.0,1132.6 L1700.0,1132.7 L1702.0,1132.7 L1704.0,1132.7 L1706.0,1132.8 L1708.0,1132.8 L1710.0,1132.8 L1712.0,1132.9 L1714.0,1132.9 L1716.0,1132.9 L1718.0,1133.0 L1720.0,1133.0 L1722.0,1133.0 L1724.0,1133.1 L1726.0,1133.1 L1728.0,1133.1 L1730.0,1133.2 L1732.0,1133.2 L1734.0,1133.2 L1736.0,1133.3 L1738.0,1133.3 L1740.0,1133.3 L1742.0,1133.4 L1744.0,1133.4 L1746.0,1133.4 L1748.0,1133.5 L1750.0,1133.5 L1752.0,1133.5 L1754.0,1133.6 L1756.0,1133.6 L1758.0,1133.6 L1760.0,1133.7 L1762.0,1133.7 L1764.0,1133.7 L1766.0,1133.7 L1768.0,1133.8 L1770.0,1133.8 L1772.0,1133.8 L1774.0,1133.8 L1776.0,1133.9 L1778.0,1133.9 L1780.0,1133.9 L1782.0,1133.9 L1784.0,1133.9 L1786.0,1134.0 L1788.0,1134.0 L1790.0,1134.0 L1792.0,1134.0 L1794.0,1134.0 L1796.0,1134.0 L1798.0,1134.1 L1800.0,1134.1 L1802.0,1134.1 L1804.0,1134.1 L1806.0,1134.1 L1808.0,1134.1 L1810.0,1134.1 L1812.0,1134.1 L1814.0,1134.2 L1816.0,1134.2 L1818.0,1134.2 L1820.0,1134.2 L1822.0,1134.2 L1824.0,1134.2 L1826.0,1134.2 L1828.0,1134.2 L1830.0,1134.2 L1832.0,1134.2 L1834.0,1134.2 L1836.0,1134.2 L1838.0,1134.2 L1840.0,1134.2 L1842.0,1134.2 L1844.0,1134.2 L1846.0,1134.1 L1848.0,1134.1 L1850.0,1134.1 L1852.0,1134.1 L1854.0,1134.1 L1856.0,1134.1 L1858.0,1134.1 L1860.0,1134.1 L1862.0,1134.0 L1864.0,1134.0 L1866.0,1134.0 L1868.0,1134.0 L1870.0,1133.9 L1872.0,1133.9 L1874.0,1133.9 L1876.0,1133.9 L1878.0,1133.8 L1880.0,1133.8 L1882.0,1133.8 L1884.0,1133.7 L1886.0,1133.7 L1888.0,1133.7 L1890.0,1133.6 L1892.0,1133.6 L1894.0,1133.6 L1896.0,1133.5 L1898.0,1133.5 L1900.0,1133.4 L1902.0,1133.4 L1904.0,1133.3 L1906.0,1133.3 L1908.0,1133.2 L1910.0,1133.2 L1912.0,1133.1 L1914.0,1133.1 L1916.0,1133.0 L1918.0,1133.0 L1920.0,1132.9 L1922.0,1132.9 L1924.0,1132.8 L1926.0,1132.7 L1928.0,1132.7 L1930.0,1132.6 L1932.0,1132.5 L1934.0,1132.4 L1936.0,1132.4 L1938.0,1132.3 L1940.0,1132.2 L1942.0,1132.1 L1944.0,1132.1 L1946.0,1132.0 L1948.0,1131.9 L1950.0,1131.8" class="b"/>
<path d="M302.0,1338.9 L304.0,1338.9 L306.0,1338.8 L308.0,1338.8 L310.0,1338.8 L312.0,1338.8 L314.0,1338.7 L316.0,1338.7 L318.0,1338.7 L320.0,1338.7 L322.0,1338.6 L324.0,1338.6 L326.0,1338.6 L328.0,1338.5 L330.0,1338.5 L332.0,1338.5 L334.0,1338.4 L336.0,1338.4 L338.0,1338.4 L340.0,1338.3 L342.0,1338.3 L344.0,1338.2 L346.0,1338.2 L348.0,1338.2 L350.0,1338.1 L352.0,1338.1 L354.0,1338.0 L356.0,1338.0 L358.0,1337.9 L360.0,1337.9 L362.0,1337.8 L364.0,1337.8 L366.0,1337.7 L368.0,1337.7 L370.0,1337.6 L372.0,1337.6 L374.0,1337.5 L376.0,1337.4 L378.0,1337.4 L380.0,1337.3 L382.0,1337.3 L384.0,1337.2 L386.0,1337.2 L388.0,1337.1 L390.0,1337.0 L392.0,1337.0 L394.0,1336.9 L396.0,1336.8 L398.0,1336.8 L400.0,1336.7 L402.0,1336.7 L404.0,1336.6 L406.0,1336.5 L408.0,1336.5 L410.0,1336.4 L412.0,1336.3 L414.0,1336.3 L416.0,1336.2 L418.0,1336.1 L420.0,1336.0 L422.0,1336.0 L424.0,1335.9 L426.0,1335.8 L428.0,1335.7 L430.0,1335.7 L432.0,1335.6 L434.0,1335.5 L436.0,1335.4 L438.0,1335.4 L440.0,1335.3 L442.0,1335.2 L444.0,1335.1 L446.0,1335.0 L448.0,1334.9 L450.0,1334.8 L452.0,1334.7 L454.0,1334.6 L456.0,1334.5 L458.0,1334.5 L460.0,1334.4 L462.0,1334.3 L464.0,1334.1 L466.0,1334.0 L468.0,1333.9 L470.0,1333.8 L472.0,1333.7 L474.0,1333.6 L476.0,1333.5 L478.0,1333.4 L480.0,1333.3 L482.0,1333.2 L484.0,1333.0 L486.0,1332.9 L488.0,1332.8 L490.0,1332.7 L492.0,1332.6 L494.0,1332.4 L496.0,1332.3 L498.0,1332.2 L500.0,1332.1 L502.0,1331.9 L504.0,1331.8 L506.0,1331.7 L508.0,1331.5 L510.0,1331.4 L512.0,1331.3 L514.0,1331.2 L516.0,1331.0 L518.0,1330.9 L520.0,1330.8 L522.0,1330.6 L524.0,1330.5 L526.0,1330.4 L528.0,1330.2 L530.0,1330.1 L532.0,1330.0 L534.0,1329.8 L536.0,1329.7 L538.0,1329.6 L540.0,1329.4 L542.0,1329.3 L544.0,1329.2 L546.0,1329.0 L548.0,1328.9 L550.0,1328.8 L552.0,1328.6 L554.0,1328.5 L556.0,1328.3 L558.0,1328.2 L560.0,1328.1 L562.0,1327.9 L564.0,1327.8 L566.0,1327.6 L568.0,1327.4 L570.0,1327.3 L572.0,1327.1 L574.0,1326.9 L576.0,1326.8 L578.0,1326.6 L580.0,1326.4 L582.0,1326.2 L584.0,1326.0 L586.0,1325.8 L588.0,1325.6 L590.0,1325.4 L592.0,1325.2 L594.0,1324.9 L596.0,1324.7 L598.0,1324.4 L600.0,1324.2 L602.0,1323.9 L604.0,1323.6 L606.0,1323.3 L608.0,1323.0 L610.0,1322.7 L612.0,1322.4 L614.0,1322.1 L616.0,1321.7 L618.0,1321.3 L620.0,1321.0 L622.0,1320.6 L624.0,1320.2 L626.0,1319.8 L628.0,1319.3 L630.0,1318.9 L632.0,1318.4 L634.0,1317.9 L636.0,1317.5 L638.0,1316.9 L640.0,1316.4 L642.0,1315.9 L644.0,1315.3 L646.0,1314.7 L648.0,1314.1 L650.0,1313.5 L652.0,1312.9 L654.0,1312.2 L656.0,1311.5 L658.0,1310.8 L660.0,1310.1 L662.0,1309.4 L664.0,1308.6 L666.0,1307.8 L668.0,1307.0 L670.0,1306.1 L672.0,1305.2 L674.0,1304.3 L676.0,1303.4 L678.0,1302.4 L680.0,1301.4 L682.0,1300.4 L684.0,1299.3 L686.0,1298.2 L688.0,1297.1 L690.0,1295.9 L692.0,1294.7 L694.0,1293.4 L696.0,1292.2 L698.0,1290.8 L700.0,1289.4 L702.0,1288.0 L704.0,1286.5 L706.0,1285.0 L708.0,1283.4 L710.0,1281.8 L712.0,1280.1 L714.0,1278.4 L716.0,1276.6 L718.0,1274.8 L720.0,1272.9 L722.0,1270.9 L724.0,1268.9 L726.0,1266.8 L728.0,1264.7 L730.0,1262.5 L732.0,1260.2 L734.0,1257.9 L736.0,1255.5 L738.0,1253.1 L740.0,1250.6 L742.0,1248.0 L744.0,1245.4 L746.0,1242.7 L748.0,1239.9 L750.0,1237.1 L752.0,1234.2 L754.0,1231.3 L756.0,1228.2 L758.0,1225.2 L760.0,1222.0 L762.0,1218.8 L764.0,1215.5 L766.0,1212.2 L768.0,1208.8 L770.0,1205.3 L772.0,1201.7 L774.0,1198.1 L776.0,1194.4 L778.0,1190.6 L780.0,1186.7 L782.0,1182.8 L784.0,1178.8 L786.0,1174.7 L788.0,1170.6 L790.0,1166.4 L792.0,1162.1 L794.0,1157.7 L796.0,1153.3 L798.0,1148.7 L800.0,1144.1 L802.0,1139.5 L804.0,1134.7 L806.0,1129.9 L808.0,1125.0 L810.0,1120.1 L812.0,1115.1 L814.0,1110.0 L816.0,1104.8 L818.0,1099.6 L820.0,1094.3 L822.0,1089.0 L824.0,1083.6 L826.0,1078.2 L828.0,1072.8 L830.0,1067.2 L832.0,1061.7 L834.0,1056.1 L836.0,1050.5 L838.0,1044.9 L840.0,1039.3 L842.0,1033.6 L844.0,1028.0 L846.0,1022.3 L848.0,1016.7 L850.0,1011.1 L852.0,1005.5 L854.0,999.9 L856.0,994.3 L858.0,988.8 L860.0,983.4 L862.0,978.0 L864.0,972.6 L866.0,967.3 L868.0,962.1 L870.0,957.0 L872.0,951.9 L874.0,946.9 L876.0,942.1 L878.0,937.3 L880.0,932.6 L882.0,928.1 L884.0,923.6 L886.0,919.3 L888.0,915.1 L890.0,911.1 L892.0,907.2 L894.0,903.4 L896.0,899.8 L898.0,896.3 L900.0,893.0 L902.0,889.8 L904.0,886.8 L906.0,883.9 L908.0,881.2 L910.0,878.7 L912.0,876.4 L914.0,874.2 L916.0,872.2 L918.0,870.4 L920.0,868.7 L922.0,867.3 L924.0,866.0 L926.0,864.9 L928.0,863.9 L930.0,863.2 L932.0,862.7 L934.0,862.3 L936.0,862.1 L938.0,862.1 L940.0,862.4 L942.0,862.8 L944.0,863.3 L946.0,864.1 L948.0,865.1 L950.0,866.2 L952.0,867.5 L954.0,869.0 L956.0,870.6 L958.0,872.4 L960.0,874.4 L962.0,876.5 L964.0,878.8 L966.0,881.2 L968.0,883.8 L970.0,886.5 L972.0,889.3 L974.0,892.3 L976.0,895.4 L978.0,898.6 L980.0,901.9 L982.0,905.4 L984.0,908.9 L986.0,912.5 L988.0,916.3 L990.0,920.1 L992.0,924.0 L994.0,927.9 L996.0,931.9 L998.0,936.0 L1000.0,940.2 L1002.0,944.4 L1004.0,948.6 L1006.0,952.9 L1008.0,957.3 L1010.0,961.6 L1012.0,966.0 L1014.0,970.4 L1016.0,974.9 L1018.0,979.3 L1020.0,983.8 L1022.0,988.2 L1024.0,992.7 L1026.0,997.1 L1028.0,1001.5 L1030.0,1006.0 L1032.0,1010.4 L1034.0,1014.7 L1036.0,1019.1 L1038.0,1023.4 L1040.0,1027.7 L1042.0,1032.0 L1044.0,1036.2 L1046.0,1040.4 L1048.0,1044.6 L1050.0,1048.7 L1052.0,1052.7 L1054.0,1056.7 L1056.0,1060.7 L1058.0,1064.6 L1060.0,1068.4 L1062.0,1072.2 L1064.0,1075.9 L1066.0,1079.6 L1068.0,1083.1 L1070.0,1086.7 L1072.0,1090.1 L1074.0,1093.5 L1076.0,1096.8 L1078.0,1100.1 L1080.0,1103.2 L1082.0,1106.4 L1084.0,1109.4 L1086.0,1112.3 L1088.0,1115.2 L1090.0,1118.0 L1092.0,1120.8 L1094.0,1123.4 L1096.0,1126.0 L1098.0,1128.6 L1100.0,1131.0 L1102.0,1133.4 L1104.0,1135.7 L1106.0,1138.0 L1108.0,1140.1 L1110.0,1142.2 L1112.0,1144.3 L1114.0,1146.3 L1116.0,1148.2 L1118.0,1150.1 L1120.0,1151.9 L1122.0,1153.6 L1124.0,1155.3 L1126.0,1156.9 L1128.0,1158.5 L1130.0,1160.0 L1132.0,1161.5 L1134.0,1162.9 L1136.0,1164.3 L1138.0,1165.6 L1140.0,1166.9 L1142.0,1168.1 L1144.0,1169.3 L1146.0,1170.5 L1148.0,1171.6 L1150.0,1172.7 L1152.0,1173.7 L1154.0,1174.7 L1156.0,1175.6 L1158.0,1176.5 L1160.0,1177.4 L1162.0,1178.2 L1164.0,1179.0 L1166.0,1179.8 L1168.0,1180.5 L1170.0,1181.2 L1172.0,1181.9 L1174.0,1182.5 L1176.0,1183.1 L1178.0,1183.7 L1180.0,1184.2 L1182.0,1184.7 L1184.0,1185.2 L1186.0,1185.7 L1188.0,1186.1 L1190.0,1186.6 L1192.0,1186.9 L1194.0,1187.3 L1196.0,1187.7 L1198.0,1188.0 L1200.0,1188.3 L1202.0,1188.5 L1204.0,1188.8 L1206.0,1189.0 L1208.0,1189.3 L1210.0,1189.4 L1212.0,1189.6 L1214.0,1189.8 L1216.0,1189.9 L1218.0,1190.0 L1220.0,1190.1 L1222.0,1190.2 L1224.0,1190.3 L1226.0,1190.3 L1228.0,1190.3 L1230.0,1190.4 L1232.0,1190.3 L1234.0,1190.3 L1236.0,1190.3 L1238.0,1190.2 L1240.0,1190.2 L1242.0,1190.1 L1244.0,1190.0 L1246.0,1189.9 L1248.0,1189.8 L1250.0,1189.7 L1252.0,1189.5 L1254.0,1189.4 L1256.0,1189.2 L1258.0,1189.1 L1260.0,1188.9 L1262.0,1188.7 L1264.0,1188.5 L1266.0,1188.3 L1268.0,1188.1 L1270.0,1187.9 L1272.0,1187.7 L1274.0,1187.5 L1276.0,1187.2 L1278.0,1187.0 L1280.0,1186.8 L1282.0,1186.5 L1284.0,1186.2 L1286.0,1186.0 L1288.0,1185.7 L1290.0,1185.4 L1292.0,1185.1 L1294.0,1184.9 L1296.0,1184.6 L1298.0,1184.2 L1300.0,1183.9 L1302.0,1183.6 L1304.0,1183.3 L1306.0,1182.9 L1308.0,1182.6 L1310.0,1182.2 L1312.0,1181.9 L1314.0,1181.5 L1316.0,1181.1 L1318.0,1180.7 L1320.0,1180.3 L1322.0,1179.9 L1324.0,1179.5 L1326.0,1179.1 L1328.0,1178.7 L1330.0,1178.2 L1332.0,1177.8 L1334.0,1177.3 L1336.0,1176.9 L1338.0,1176.4 L1340.0,1176.0 L1342.0,1175.5 L1344.0,1175.0 L1346.0,1174.5 L1348.0,1174.0 L1350.0,1173.5 L1352.0,1173.0 L1354.0,1172.5 L1356.0,1172.0 L1358.0,1171.5 L1360.0,1171.0 L1362.0,1170.5 L1364.0,1170.0 L1366.0,1169.4 L1368.0,1168.9 L1370.0,1168.4 L1372.0,1167.9 L1374.0,1167.3 L1376.0,1166.8 L1378.0,1166.3 L1380.0,1165.8 L1382.0,1165.2 L1384.0,1164.7 L1386.0,1164.2 L1388.0,1163.7 L1390.0,1163.2 L1392.0,1162.6 L1394.0,1162.1 L1396.0,1161.6 L1398.0,1161.1 L1400.0,1160.6 L1402.0,1160.1 L1404.0,1159.6 L1406.0,1159.1 L1408.0,1158.6 L1410.0,1158.1 L1412.0,1157.6 L1414.0,1157.2 L1416.0,1156.7 L1418.0,1156.2 L1420.0,1155.7 L1422.0,1155.3 L1424.0,1154.8 L1426.0,1154.4 L1428.0,1153.9 L1430.0,1153.5 L1432.0,1153.1 L1434.0,1152.6 L1436.0,1152.2 L1438.0,1151.8 L1440.0,1151.4 L1442.0,1151.0 L1444.0,1150.6 L1446.0,1150.2 L1448.0,1149.8 L1450.0,1149.4 L1452.0,1149.1 L1454.0,1148.7 L1456.0,1148.3 L1458.0,1148.0 L1460.0,1147.7 L1462.0,1147.3 L1464.0,1147.0 L1466.0,1146.7 L1468.0,1146.3 L1470.0,1146.0 L1472.0,1145.7 L1474.0,1145.4 L1476.0,1145.1 L1478.0,1144.8 L1480.0,1144.6 L1482.0,1144.3 L1484.0,1144.0 L1486.0,1143.8 L1488.0,1143.5 L1490.0,1143.3 L1492.0,1143.0 L1494.0,1142.8 L1496.0,1142.5 L1498.0,1142.3 L1500.0,1142.1 L1502.0,1141.9 L1504.0,1141.7 L1506.0,1141.4 L1508.0,1141.2 L1510.0,1141.0 L1512.0,1140.8 L1514.0,1140.7 L1516.0,1140.5 L1518.0,1140.3 L1520.0,1140.1 L1522.0,1139.9 L1524.0,1139.8 L1526.0,1139.6 L1528.0,1139.4 L1530.0,1139.3 L1532.0,1139.1 L1534.0,1138.9 L1536.0,1138.8 L1538.0,1138.6 L1540.0,1138.5 L1542.0,1138.4 L1544.0,1138.2 L1546.0,1138.1 L1548.0,1137.9 L1550.0,1137.8 L1552.0,1137.7 L1554.0,1137.5 L1556.0,1137.4 L1558.0,1137.3 L1560.0,1137.2 L1562.0,1137.0 L1564.0,1136.9 L1566.0,1136.8 L1568.0,1136.7 L1570.0,1136.6 L1572.0,1136.5 L1574.0,1136.4 L1576.0,1136.3 L1578.0,1136.2 L1580.0,1136.1 L1582.0,1136.0 L1584.0,1135.9 L1586.0,1135.8 L1588.0,1135.7 L1590.0,1135.6 L1592.0,1135.5 L1594.0,1135.4 L1596.0,1135.3 L1598.0,1135.3 L1600.0,1135.2 L1602.0,1135.1 L1604.0,1135.0 L1606.0,1134.9 L1608.0,1134.9 L1610.0,1134.8 L1612.0,1134.7 L1614.0,1134.7 L1616.0,1134.6 L1618.0,1134.5 L1620.0,1134.5 L1622.0,1134.4 L1624.0,1134.3 L1626.0,1134.3 L1628.0,1134.2 L1630.0,1134.2 L1632.0,1134.1 L1634.0,1134.0 L1636.0,1134.0 L1638.0,1133.9 L1640.0,1133.9 L1642.0,1133.8 L1644.0,1133.8 L1646.0,1133.7 L1648.0,1133.7 L1650.0,1133.6 L1652.0,1133.6 L1654.0,1133.5 L1656.0,1133.5 L1658.0,1133.4 L1660.0,1133.4 L1662.0,1133.4 L1664.0,1133.3 L1666.0,1133.3 L1668.0,1133.2 L1670.0,1133.2 L1672.0,1133.2 L1674.0,1133.1 L1676.0,1133.1 L1678.0,1133.0 L1680.0,1133.0 L1682.0,1133.0 L1684.0,1133.0 L1686.0,1132.9 L1688.0,1132.9 L1690.0,1132.9 L1692.0,1132.8 L1694.0,1132.8 L1696.0,1132.8 L1698.0,1132.8 L1700.0,1132.7 L1702.0,1132.7 L1704.0,1132.7 L1706.0,1132.7 L1708.0,1132.7 L1710.0,1132.6 L1712.0,1132.6 L1714.0,1132.6 L1716.0,1132.6 L1718.0,1132.6 L1720.0,1132.6 L1722.0,1132.5 L1724.0,1132.5 L1726.0,1132.5 L1728.0,1132.5 L1730.0,1132.5 L1732.0,1132.5 L1734.0,1132.5 L1736.0,1132.4 L1738.0,1132.4 L1740.0,1132.4 L1742.0,1132.4 L1744.0,1132.4 L1746.0,1132.4 L1748.0,1132.4 L1750.0,1132.4 L1752.0,1132.3 L1754.0,1132.3 L1756.0,1132.3 L1758.0,1132.3 L1760.0,1132.3 L1762.0,1132.3 L1764.0,1132.3 L1766.0,1132.3 L1768.0,1132.2 L1770.0,1132.2 L1772.0,1132.2 L1774.0,1132.2 L1776.0,1132.2 L1778.0,1132.2 L1780.0,1132.2 L1782.0,1132.2 L1784.0,1132.2 L1786.0,1132.2 L1788.0,1132.1 L1790.0,1132.1 L1792.0,1132.1 L1794.0,1132.1 L1796.0,1132.1 L1798.0,1132.1 L1800.0,1132.1 L1802.0,1132.1 L1804.0,1132.1 L1806.0,1132.1 L1808.0,1132.0 L1810.0,1132.0 L1812.0,1132.0 L1814.0,1132.0 L1816.0,1132.0 L1818.0,1132.0 L1820.0,1132.0 L1822.0,1132.0 L1824.0,1132.0 L1826.0,1132.0 L1828.0,1132.0 L1830.0,1131.9 L1832.0,1131.9 L1834.0,1131.9 L1836.0,1131.9 L1838.0,1131.9 L1840.0,1131.9 L1842.0,1131.9 L1844.0,1131.9 L1846.0,1131.9 L1848.0,1131.9 L1850.0,1131.9 L1852.0,1131.9 L1854.0,1131.8 L1856.0,1131.8 L1858.0,1131.8 L1860.0,1131.8 L1862.0,1131.8 L1864.0,1131.8 L1866.0,1131.8 L1868.0,1131.8 L1870.0,1131.8 L1872.0,1131.8 L1874.0,1131.8 L1876.0,1131.8 L1878.0,1131.8 L1880.0,1131.8 L1882.0,1131.7 L1884.0,1131.7 L1886.0,1131.7 L1888.0,1131.7 L1890.0,1131.7 L1892.0,1131.7 L1894.0,1131.7 L1896.0,1131.7 L1898.0,1131.7 L1900.0,1131.7 L1902.0,1131.7 L1904.0,1131.7 L1906.0,1131.7 L1908.0,1131.7 L1910.0,1131.7 L1912.0,1131.7 L1914.0,1131.7 L1916.0,1131.6 L1918.0,1131.6 L1920.0,1131.6 L1922.0,1131.6 L1924.0,1131.6 L1926.0,1131.6 L1928.0,1131.6 L1930.0,1131.6 L1932.0,1131.6 L1934.0,1131.6 L1936.0,1131.6 L1938.0,1131.6 L1940.0,1131.6 L1942.0,1131.6 L1944.0,1131.6 L1946.0,1131.6 L1948.0,1131.6 L1950.0,1131.6" class="m"/>
<path d="M302.0,1339.6 L304.0,1339.6 L306.0,1339.7 L308.0,1339.7 L310.0,1339.7 L312.0,1339.7 L314.0,1339.7 L316.0,1339.7 L318.0,1339.8 L320.0,1339.8 L322.0,1339.8 L324.0,1339.8 L326.0,1339.8 L328.0,1339.8 L330.0,1339.9 L332.0,1339.9 L334.0,1339.9 L336.0,1339.9 L338.0,1339.9 L340.0,1339.9 L342.0,1339.9 L344.0,1339.9 L346.0,1340.0 L348.0,1340.0 L350.0,1340.0 L352.0,1340.0 L354.0,1340.0 L356.0,1340.0 L358.0,1340.0 L360.0,1340.0 L362.0,1340.0 L364.0,1340.0 L366.0,1340.0 L368.0,1340.0 L370.0,1340.0 L372.0,1340.0 L374.0,1340.0 L376.0,1340.1 L378.0,1340.1 L380.0,1340.1 L382.0,1340.1 L384.0,1340.1 L386.0,1340.1 L388.0,1340.1 L390.0,1340.1 L392.0,1340.1 L394.0,1340.1 L396.0,1340.0 L398.0,1340.0 L400.0,1340.0 L402.0,1340.0 L404.0,1340.0 L406.0,1340.0 L408.0,1340.0 L410.0,1340.0 L412.0,1340.0 L414.0,1340.0 L416.0,1340.0 L418.0,1340.0 L420.0,1340.0 L422.0,1340.0 L424.0,1339.9 L426.0,1339.9 L428.0,1339.9 L430.0,1339.9 L432.0,1339.9 L434.0,1339.9 L436.0,1339.8 L438.0,1339.8 L440.0,1339.8 L442.0,1339.8 L444.0,1339.8 L446.0,1339.7 L448.0,1339.7 L450.0,1339.7 L452.0,1339.6 L454.0,1339.6 L456.0,1339.6 L458.0,1339.5 L460.0,1339.5 L462.0,1339.4 L464.0,1339.4 L466.0,1339.3 L468.0,1339.3 L470.0,1339.2 L472.0,1339.2 L474.0,1339.1 L476.0,1339.1 L478.0,1339.0 L480.0,1339.0 L482.0,1338.9 L484.0,1338.8 L486.0,1338.8 L488.0,1338.7 L490.0,1338.6 L492.0,1338.6 L494.0,1338.5 L496.0,1338.4 L498.0,1338.4 L500.0,1338.3 L502.0,1338.2 L504.0,1338.1 L506.0,1338.1 L508.0,1338.0 L510.0,1337.9 L512.0,1337.8 L514.0,1337.7 L516.0,1337.7 L518.0,1337.6 L520.0,1337.5 L522.0,1337.4 L524.0,1337.3 L526.0,1337.3 L528.0,1337.2 L530.0,1337.1 L532.0,1337.0 L534.0,1336.9 L536.0,1336.8 L538.0,1336.8 L540.0,1336.7 L542.0,1336.6 L544.0,1336.5 L546.0,1336.4 L548.0,1336.3 L550.0,1336.2 L552.0,1336.1 L554.0,1336.0 L556.0,1336.0 L558.0,1335.9 L560.0,1335.8 L562.0,1335.7 L564.0,1335.6 L566.0,1335.5 L568.0,1335.4 L570.0,1335.3 L572.0,1335.2 L574.0,1335.0 L576.0,1334.9 L578.0,1334.8 L580.0,1334.7 L582.0,1334.6 L584.0,1334.5 L586.0,1334.3 L588.0,1334.2 L590.0,1334.1 L592.0,1333.9 L594.0,1333.8 L596.0,1333.6 L598.0,1333.5 L600.0,1333.3 L602.0,1333.1 L604.0,1333.0 L606.0,1332.8 L608.0,1332.6 L610.0,1332.4 L612.0,1332.2 L614.0,1332.0 L616.0,1331.8 L618.0,1331.6 L620.0,1331.4 L622.0,1331.2 L624.0,1331.0 L626.0,1330.7 L628.0,1330.5 L630.0,1330.3 L632.0,1330.0 L634.0,1329.8 L636.0,1329.5 L638.0,1329.3 L640.0,1329.0 L642.0,1328.8 L644.0,1328.5 L646.0,1328.2 L648.0,1328.0 L650.0,1327.7 L652.0,1327.4 L654.0,1327.1 L656.0,1326.9 L658.0,1326.6 L660.0,1326.3 L662.0,1326.0 L664.0,1325.7 L666.0,1325.4 L668.0,1325.1 L670.0,1324.8 L672.0,1324.6 L674.0,1324.3 L676.0,1324.0 L678.0,1323.7 L680.0,1323.4 L682.0,1323.1 L684.0,1322.7 L686.0,1322.4 L688.0,1322.1 L690.0,1321.8 L692.0,1321.5 L694.0,1321.2 L696.0,1320.9 L698.0,1320.5 L700.0,1320.2 L702.0,1319.9 L704.0,1319.6 L706.0,1319.2 L708.0,1318.9 L710.0,1318.6 L712.0,1318.2 L714.0,1317.9 L716.0,1317.6 L718.0,1317.2 L720.0,1316.9 L722.0,1316.5 L724.0,1316.2 L726.0,1315.8 L728.0,1315.5 L730.0,1315.1 L732.0,1314.7 L734.0,1314.4 L736.0,1314.0 L738.0,1313.6 L740.0,1313.3 L742.0,1312.9 L744.0,1312.5 L746.0,1312.1 L748.0,1311.7 L750.0,1311.4 L752.0,1311.0 L754.0,1310.6 L756.0,1310.2 L758.0,1309.8 L760.0,1309.3 L762.0,1308.9 L764.0,1308.5 L766.0,1308.1 L768.0,1307.7 L770.0,1307.2 L772.0,1306.8 L774.0,1306.4 L776.0,1305.9 L778.0,1305.4 L780.0,1305.0 L782.0,1304.5 L784.0,1304.0 L786.0,1303.6 L788.0,1303.1 L790.0,1302.6 L792.0,1302.1 L794.0,1301.6 L796.0,1301.1 L798.0,1300.5 L800.0,1300.0 L802.0,1299.5 L804.0,1298.9 L806.0,1298.4 L808.0,1297.8 L810.0,1297.2 L812.0,1296.6 L814.0,1296.0 L816.0,1295.4 L818.0,1294.8 L820.0,1294.2 L822.0,1293.6 L824.0,1292.9 L826.0,1292.3 L828.0,1291.6 L830.0,1291.0 L832.0,1290.3 L834.0,1289.6 L836.0,1288.9 L838.0,1288.2 L840.0,1287.5 L842.0,1286.8 L844.0,1286.0 L846.0,1285.3 L848.0,1284.6 L850.0,1283.8 L852.0,1283.1 L854.0,1282.3 L856.0,1281.6 L858.0,1280.8 L860.0,1280.1 L862.0,1279.3 L864.0,1278.5 L866.0,1277.7 L868.0,1277.0 L870.0,1276.2 L872.0,1275.4 L874.0,1274.7 L876.0,1273.9 L878.0,1273.1 L880.0,1272.3 L882.0,1271.6 L884.0,1270.8 L886.0,1270.1 L888.0,1269.3 L890.0,1268.5 L892.0,1267.8 L894.0,1267.0 L896.0,1266.3 L898.0,1265.5 L900.0,1264.8 L902.0,1264.0 L904.0,1263.3 L906.0,1262.5 L908.0,1261.8 L910.0,1261.1 L912.0,1260.3 L914.0,1259.6 L916.0,1258.9 L918.0,1258.1 L920.0,1257.4 L922.0,1256.7 L924.0,1256.0 L926.0,1255.3 L928.0,1254.6 L930.0,1253.8 L932.0,1253.1 L934.0,1252.4 L936.0,1251.7 L938.0,1251.0 L940.0,1250.3 L942.0,1249.6 L944.0,1248.9 L946.0,1248.3 L948.0,1247.6 L950.0,1246.9 L952.0,1246.2 L954.0,1245.5 L956.0,1244.9 L958.0,1244.2 L960.0,1243.5 L962.0,1242.9 L964.0,1242.2 L966.0,1241.6 L968.0,1240.9 L970.0,1240.3 L972.0,1239.7 L974.0,1239.0 L976.0,1238.4 L978.0,1237.8 L980.0,1237.2 L982.0,1236.5 L984.0,1235.9 L986.0,1235.3 L988.0,1234.7 L990.0,1234.2 L992.0,1233.6 L994.0,1233.0 L996.0,1232.4 L998.0,1231.8 L1000.0,1231.3 L1002.0,1230.7 L1004.0,1230.2 L1006.0,1229.6 L1008.0,1229.1 L1010.0,1228.5 L1012.0,1228.0 L1014.0,1227.5 L1016.0,1227.0 L1018.0,1226.4 L1020.0,1225.9 L1022.0,1225.4 L1024.0,1224.9 L1026.0,1224.5 L1028.0,1224.0 L1030.0,1223.5 L1032.0,1223.0 L1034.0,1222.6 L1036.0,1222.1 L1038.0,1221.7 L1040.0,1221.2 L1042.0,1220.8 L1044.0,1220.3 L1046.0,1219.9 L1048.0,1219.5 L1050.0,1219.1 L1052.0,1218.7 L1054.0,1218.3 L1056.0,1217.9 L1058.0,1217.5 L1060.0,1217.2 L1062.0,1216.8 L1064.0,1216.4 L1066.0,1216.1 L1068.0,1215.7 L1070.0,1215.3 L1072.0,1215.0 L1074.0,1214.6 L1076.0,1214.3 L1078.0,1214.0 L1080.0,1213.6 L1082.0,1213.3 L1084.0,1213.0 L1086.0,1212.6 L1088.0,1212.3 L1090.0,1212.0 L1092.0,1211.6 L1094.0,1211.3 L1096.0,1211.0 L1098.0,1210.6 L1100.0,1210.3 L1102.0,1210.0 L1104.0,1209.6 L1106.0,1209.3 L1108.0,1208.9 L1110.0,1208.6 L1112.0,1208.2 L1114.0,1207.9 L1116.0,1207.5 L1118.0,1207.1 L1120.0,1206.8 L1122.0,1206.4 L1124.0,1206.0 L1126.0,1205.6 L1128.0,1205.2 L1130.0,1204.8 L1132.0,1204.4 L1134.0,1204.0 L1136.0,1203.6 L1138.0,1203.1 L1140.0,1202.7 L1142.0,1202.2 L1144.0,1201.8 L1146.0,1201.3 L1148.0,1200.8 L1150.0,1200.3 L1152.0,1199.8 L1154.0,1199.3 L1156.0,1198.8 L1158.0,1198.2 L1160.0,1197.7 L1162.0,1197.1 L1164.0,1196.5 L1166.0,1195.9 L1168.0,1195.3 L1170.0,1194.7 L1172.0,1194.0 L1174.0,1193.3 L1176.0,1192.7 L1178.0,1191.9 L1180.0,1191.2 L1182.0,1190.5 L1184.0,1189.7 L1186.0,1188.9 L1188.0,1188.1 L1190.0,1187.2 L1192.0,1186.3 L1194.0,1185.4 L1196.0,1184.5 L1198.0,1183.6 L1200.0,1182.6 L1202.0,1181.6 L1204.0,1180.5 L1206.0,1179.4 L1208.0,1178.3 L1210.0,1177.2 L1212.0,1176.0 L1214.0,1174.8 L1216.0,1173.5 L1218.0,1172.2 L1220.0,1170.9 L1222.0,1169.5 L1224.0,1168.1 L1226.0,1166.7 L1228.0,1165.2 L1230.0,1163.6 L1232.0,1162.0 L1234.0,1160.4 L1236.0,1158.7 L1238.0,1157.0 L1240.0,1155.2 L1242.0,1153.4 L1244.0,1151.5 L1246.0,1149.6 L1248.0,1147.6 L1250.0,1145.5 L1252.0,1143.5 L1254.0,1141.3 L1256.0,1139.1 L1258.0,1136.9 L1260.0,1134.6 L1262.0,1132.2 L1264.0,1129.8 L1266.0,1127.4 L1268.0,1124.9 L1270.0,1122.3 L1272.0,1119.7 L1274.0,1117.0 L1276.0,1114.2 L1278.0,1111.4 L1280.0,1108.6 L1282.0,1105.7 L1284.0,1102.7 L1286.0,1099.7 L1288.0,1096.7 L1290.0,1093.5 L1292.0,1090.4 L1294.0,1087.2 L1296.0,1083.9 L1298.0,1080.6 L1300.0,1077.2 L1302.0,1073.8 L1304.0,1070.3 L1306.0,1066.8 L1308.0,1063.3 L1310.0,1059.7 L1312.0,1056.1 L1314.0,1052.4 L1316.0,1048.7 L1318.0,1045.0 L1320.0,1041.3 L1322.0,1037.5 L1324.0,1033.7 L1326.0,1029.9 L1328.0,1026.1 L1330.0,1022.2 L1332.0,1018.4 L1334.0,1014.5 L1336.0,1010.7 L1338.0,1006.8 L1340.0,1002.9 L1342.0,999.1 L1344.0,995.3 L1346.0,991.5 L1348.0,987.7 L1350.0,983.9 L1352.0,980.2 L1354.0,976.5 L1356.0,972.8 L1358.0,969.2 L1360.0,965.7 L1362.0,962.2 L1364.0,958.7 L1366.0,955.3 L1368.0,952.0 L1370.0,948.8 L1372.0,945.6 L1374.0,942.5 L1376.0,939.5 L1378.0,936.6 L1380.0,933.8 L1382.0,931.0 L1384.0,928.4 L1386.0,925.9 L1388.0,923.5 L1390.0,921.2 L1392.0,919.0 L1394.0,916.9 L1396.0,915.0 L1398.0,913.2 L1400.0,911.5 L1402.0,909.9 L1404.0,908.5 L1406.0,907.2 L1408.0,906.0 L1410.0,905.0 L1412.0,904.1 L1414.0,903.4 L1416.0,902.8 L1418.0,902.3 L1420.0,902.0 L1422.0,901.7 L1424.0,901.6 L1426.0,901.6 L1428.0,901.7 L1430.0,901.9 L1432.0,902.2 L1434.0,902.6 L1436.0,903.2 L1438.0,903.8 L1440.0,904.6 L1442.0,905.4 L1444.0,906.4 L1446.0,907.4 L1448.0,908.6 L1450.0,909.8 L1452.0,911.2 L1454.0,912.6 L1456.0,914.1 L1458.0,915.7 L1460.0,917.4 L1462.0,919.2 L1464.0,921.0 L1466.0,922.9 L1468.0,924.9 L1470.0,927.0 L1472.0,929.1 L1474.0,931.3 L1476.0,933.6 L1478.0,935.9 L1480.0,938.3 L1482.0,940.7 L1484.0,943.2 L1486.0,945.7 L1488.0,948.3 L1490.0,950.9 L1492.0,953.5 L1494.0,956.2 L1496.0,958.9 L1498.0,961.6 L1500.0,964.4 L1502.0,967.2 L1504.0,970.0 L1506.0,972.8 L1508.0,975.6 L1510.0,978.4 L1512.0,981.3 L1514.0,984.1 L1516.0,987.0 L1518.0,989.8 L1520.0,992.7 L1522.0,995.5 L1524.0,998.4 L1526.0,1001.2 L1528.0,1004.0 L1530.0,1006.8 L1532.0,1009.6 L1534.0,1012.4 L1536.0,1015.1 L1538.0,1017.9 L1540.0,1020.6 L1542.0,1023.2 L1544.0,1025.9 L1546.0,1028.5 L1548.0,1031.1 L1550.0,1033.7 L1552.0,1036.2 L1554.0,1038.7 L1556.0,1041.2 L1558.0,1043.6 L1560.0,1046.0 L1562.0,1048.3 L1564.0,1050.7 L1566.0,1052.9 L1568.0,1055.2 L1570.0,1057.4 L1572.0,1059.5 L1574.0,1061.6 L1576.0,1063.7 L1578.0,1065.8 L1580.0,1067.8 L1582.0,1069.7 L1584.0,1071.6 L1586.0,1073.5 L1588.0,1075.3 L1590.0,1077.1 L1592.0,1078.8 L1594.0,1080.5 L1596.0,1082.2 L1598.0,1083.8 L1600.0,1085.3 L1602.0,1086.9 L1604.0,1088.4 L1606.0,1089.8 L1608.0,1091.2 L1610.0,1092.6 L1612.0,1093.9 L1614.0,1095.2 L1616.0,1096.4 L1618.0,1097.7 L1620.0,1098.8 L1622.0,1100.0 L1624.0,1101.1 L1626.0,1102.1 L1628.0,1103.2 L1630.0,1104.1 L1632.0,1105.1 L1634.0,1106.0 L1636.0,1106.9 L1638.0,1107.8 L1640.0,1108.6 L1642.0,1109.4 L1644.0,1110.2 L1646.0,1110.9 L1648.0,1111.7 L1650.0,1112.3 L1652.0,1113.0 L1654.0,1113.6 L1656.0,1114.3 L1658.0,1114.8 L1660.0,1115.4 L1662.0,1115.9 L1664.0,1116.5 L1666.0,1117.0 L1668.0,1117.4 L1670.0,1117.9 L1672.0,1118.3 L1674.0,1118.8 L1676.0,1119.2 L1678.0,1119.6 L1680.0,1119.9 L1682.0,1120.3 L1684.0,1120.6 L1686.0,1121.0 L1688.0,1121.3 L1690.0,1121.6 L1692.0,1121.9 L1694.0,1122.2 L1696.0,1122.4 L1698.0,1122.7 L1700.0,1122.9 L1702.0,1123.2 L1704.0,1123.4 L1706.0,1123.6 L1708.0,1123.8 L1710.0,1124.0 L1712.0,1124.2 L1714.0,1124.4 L1716.0,1124.6 L1718.0,1124.8 L1720.0,1124.9 L1722.0,1125.1 L1724.0,1125.3 L1726.0,1125.4 L1728.0,1125.6 L1730.0,1125.7 L1732.0,1125.9 L1734.0,1126.0 L1736.0,1126.1 L1738.0,1126.3 L1740.0,1126.4 L1742.0,1126.5 L1744.0,1126.6 L1746.0,1126.8 L1748.0,1126.9 L1750.0,1127.0 L1752.0,1127.1 L1754.0,1127.2 L1756.0,1127.3 L1758.0,1127.4 L1760.0,1127.5 L1762.0,1127.6 L1764.0,1127.7 L1766.0,1127.8 L1768.0,1127.9 L1770.0,1128.0 L1772.0,1128.1 L1774.0,1128.1 L1776.0,1128.2 L1778.0,1128.3 L1780.0,1128.4 L1782.0,1128.5 L1784.0,1128.6 L1786.0,1128.6 L1788.0,1128.7 L1790.0,1128.8 L1792.0,1128.9 L1794.0,1129.0 L1796.0,1129.0 L1798.0,1129.1 L1800.0,1129.2 L1802.0,1129.2 L1804.0,1129.3 L1806.0,1129.4 L1808.0,1129.4 L1810.0,1129.5 L1812.0,1129.6 L1814.0,1129.6 L1816.0,1129.7 L1818.0,1129.8 L1820.0,1129.8 L1822.0,1129.9 L1824.0,1129.9 L1826.0,1130.0 L1828.0,1130.1 L1830.0,1130.1 L1832.0,1130.2 L1834.0,1130.2 L1836.0,1130.3 L1838.0,1130.3 L1840.0,1130.4 L1842.0,1130.4 L1844.0,1130.5 L1846.0,1130.5 L1848.0,1130.5 L1850.0,1130.6 L1852.0,1130.6 L1854.0,1130.7 L1856.0,1130.7 L1858.0,1130.7 L1860.0,1130.8 L1862.0,1130.8 L1864.0,1130.8 L1866.0,1130.8 L1868.0,1130.9 L1870.0,1130.9 L1872.0,1130.9 L1874.0,1130.9 L1876.0,1130.9 L1878.0,1131.0 L1880.0,1131.0 L1882.0,1131.0 L1884.0,1131.0 L1886.0,1131.0 L1888.0,1131.0 L1890.0,1131.0 L1892.0,1131.0 L1894.0,1131.0 L1896.0,1131.0 L1898.0,1131.0 L1900.0,1130.9 L1902.0,1130.9 L1904.0,1130.9 L1906.0,1130.9 L1908.0,1130.9 L1910.0,1130.8 L1912.0,1130.8 L1914.0,1130.8 L1916.0,1130.7 L1918.0,1130.7 L1920.0,1130.6 L1922.0,1130.6 L1924.0,1130.5 L1926.0,1130.5 L1928.0,1130.4 L1930.0,1130.4 L1932.0,1130.3 L1934.0,1130.2 L1936.0,1130.1 L1938.0,1130.1 L1940.0,1130.0 L1942.0,1129.9 L1944.0,1129.8 L1946.0,1129.7 L1948.0,1129.6 L1950.0,1129.5" class="m"/>
<path d="M302,741 L316,738 L331,735.8 L331.0,735.8 L333.0,735.8 L335.0,735.7 L337.0,735.7 L339.0,735.7 L341.0,735.6 L343.0,735.6 L345.0,735.6 L347.0,735.5 L349.0,735.5 L351.0,735.5 L353.0,735.4 L355.0,735.4 L357.0,735.4 L359.0,735.3 L361.0,735.3 L363.0,735.2 L365.0,735.2 L367.0,735.2 L369.0,735.1 L371.0,735.1 L373.0,735.0 L375.0,735.0 L377.0,734.9 L379.0,734.9 L381.0,734.8 L383.0,734.8 L385.0,734.7 L387.0,734.7 L389.0,734.6 L391.0,734.6 L393.0,734.5 L395.0,734.5 L397.0,734.4 L399.0,734.3 L401.0,734.3 L403.0,734.2 L405.0,734.2 L407.0,734.1 L409.0,734.0 L411.0,734.0 L413.0,733.9 L415.0,733.9 L417.0,733.8 L419.0,733.7 L421.0,733.7 L423.0,733.6 L425.0,733.5 L427.0,733.5 L429.0,733.4 L431.0,733.3 L433.0,733.2 L435.0,733.2 L437.0,733.1 L439.0,733.0 L441.0,732.9 L443.0,732.9 L445.0,732.8 L447.0,732.7 L449.0,732.6 L451.0,732.6 L453.0,732.5 L455.0,732.4 L457.0,732.3 L459.0,732.2 L461.0,732.1 L463.0,732.0 L465.0,732.0 L467.0,731.9 L469.0,731.8 L471.0,731.7 L473.0,731.6 L475.0,731.5 L477.0,731.4 L479.0,731.3 L481.0,731.2 L483.0,731.1 L485.0,731.0 L487.0,730.9 L489.0,730.8 L491.0,730.7 L493.0,730.5 L495.0,730.4 L497.0,730.3 L499.0,730.2 L501.0,730.1 L503.0,729.9 L505.0,729.8 L507.0,729.7 L509.0,729.5 L511.0,729.4 L513.0,729.2 L515.0,729.1 L517.0,728.9 L519.0,728.8 L521.0,728.6 L523.0,728.4 L525.0,728.3 L527.0,728.1 L529.0,727.9 L531.0,727.7 L533.0,727.5 L535.0,727.2 L537.0,727.0 L539.0,726.8 L541.0,726.5 L543.0,726.3 L545.0,726.0 L547.0,725.7 L549.0,725.4 L551.0,725.1 L553.0,724.8 L555.0,724.5 L557.0,724.1 L559.0,723.7 L561.0,723.4 L563.0,723.0 L565.0,722.5 L567.0,722.1 L569.0,721.6 L571.0,721.2 L573.0,720.7 L575.0,720.1 L577.0,719.6 L579.0,719.0 L581.0,718.4 L583.0,717.8 L585.0,717.1 L587.0,716.4 L589.0,715.7 L591.0,715.0 L593.0,714.2 L595.0,713.4 L597.0,712.5 L599.0,711.6 L601.0,710.7 L603.0,709.8 L605.0,708.8 L607.0,707.7 L609.0,706.7 L611.0,705.5 L613.0,704.4 L615.0,703.1 L617.0,701.9 L619.0,700.6 L621.0,699.2 L623.0,697.8 L625.0,696.4 L627.0,694.8 L629.0,693.3 L631.0,691.7 L633.0,690.0 L635.0,688.3 L637.0,686.5 L639.0,684.6 L641.0,682.7 L643.0,680.7 L645.0,678.7 L647.0,676.6 L649.0,674.5 L651.0,672.3 L653.0,670.0 L655.0,667.7 L657.0,665.3 L659.0,662.8 L661.0,660.3 L663.0,657.7 L665.0,655.1 L667.0,652.4 L669.0,649.6 L671.0,646.8 L673.0,643.9 L675.0,641.0 L677.0,638.0 L679.0,635.0 L681.0,631.9 L683.0,628.8 L685.0,625.6 L687.0,622.3 L689.0,619.1 L691.0,615.7 L693.0,612.4 L695.0,609.0 L697.0,605.5 L699.0,602.1 L701.0,598.6 L703.0,595.0 L705.0,591.5 L707.0,587.9 L709.0,584.3 L711.0,580.6 L713.0,577.0 L715.0,573.4 L717.0,569.7 L719.0,566.0 L721.0,562.4 L723.0,558.7 L725.0,555.0 L727.0,551.4 L729.0,547.7 L731.0,544.1 L733.0,540.5 L735.0,536.9 L737.0,533.3 L739.0,529.7 L741.0,526.2 L743.0,522.7 L745.0,519.3 L747.0,515.9 L749.0,512.5 L751.0,509.2 L753.0,505.9 L755.0,502.6 L757.0,499.5 L759.0,496.3 L761.0,493.3 L763.0,490.2 L765.0,487.3 L767.0,484.4 L769.0,481.5 L771.0,478.7 L773.0,476.0 L775.0,473.4 L777.0,470.8 L779.0,468.2 L781.0,465.7 L783.0,463.3 L785.0,461.0 L787.0,458.7 L789.0,456.4 L791.0,454.2 L793.0,452.1 L795.0,450.0 L797.0,447.9 L799.0,445.9 L801.0,444.0 L803.0,442.1 L805.0,440.2 L807.0,438.3 L809.0,436.5 L811.0,434.7 L813.0,432.9 L815.0,431.1 L817.0,429.4 L819.0,427.6 L821.0,425.8 L823.0,424.1 L825.0,422.3 L827.0,420.5 L829.0,418.7 L831.0,416.9 L833.0,415.1 L835.0,413.2 L837.0,411.3 L839.0,409.4 L841.0,407.4 L843.0,405.4 L845.0,403.3 L847.0,401.2 L849.0,399.0 L851.0,396.8 L853.0,394.5 L855.0,392.1 L857.0,389.7 L859.0,387.3 L861.0,384.7 L863.0,382.1 L865.0,379.4 L867.0,376.6 L869.0,373.7 L871.0,370.7 L873.0,367.6 L875.0,364.3 L877.0,361.0 L879.0,357.5 L881.0,353.8 L883.0,350.1 L885.0,346.2 L887.0,342.1 L889.0,338.0 L891.0,333.7 L893.0,329.3 L895.0,324.8 L897.0,320.3 L899.0,315.7 L901.0,311.2 L903.0,306.7 L905.0,302.2 L907.0,297.8 L909.0,293.5 L911.0,289.2 L913.0,284.9 L915.0,280.6 L917.0,276.3 L919.0,272.0 L921.0,267.7 L923.0,263.2 L925.0,258.7 L927.0,254.1 L929.0,249.6 L931.0,245.0 L933.0,240.5 L935.0,236.2 L937.0,232.0 L939.0,228.0 L941.0,224.3 L943.0,220.9 L945.0,217.7 L947.0,214.9 L949.0,212.3 L951.0,210.0 L953.0,208.0 L955.0,206.2 L957.0,204.7 L959.0,203.4 L961.0,202.3 L963.0,201.4 L965.0,200.7 L967.0,200.2 L969.0,199.9 L971.0,199.7 L973.0,199.6 L975.0,199.8 L977.0,200.0 L979.0,200.5 L981.0,201.3 L983.0,202.2 L985.0,203.4 L987.0,204.8 L989.0,206.5 L991.0,208.5 L993.0,210.7 L995.0,213.3 L997.0,216.1 L999.0,219.1 L1001.0,222.5 L1003.0,226.2 L1005.0,230.1 L1007.0,234.3 L1009.0,238.8 L1011.0,243.5 L1013.0,248.4 L1015.0,253.5 L1017.0,258.8 L1019.0,264.3 L1021.0,269.9 L1023.0,275.7 L1025.0,281.5 L1027.0,287.5 L1029.0,293.6 L1031.0,299.7 L1033.0,305.9 L1035.0,312.1 L1037.0,318.3 L1039.0,324.5 L1041.0,330.6 L1043.0,336.8 L1045.0,342.8 L1047.0,348.9 L1049.0,355.0 L1051.0,361.0 L1053.0,367.1 L1055.0,373.2 L1057.0,379.4 L1059.0,385.6 L1061.0,391.9 L1063.0,398.2 L1065.0,404.6 L1067.0,411.0 L1069.0,417.3 L1071.0,423.7 L1073.0,429.9 L1075.0,436.2 L1077.0,442.3 L1079.0,448.3 L1081.0,454.2 L1083.0,459.9 L1085.0,465.5 L1087.0,470.9 L1089.0,476.1 L1091.0,481.0 L1093.0,485.8 L1095.0,490.3 L1097.0,494.6 L1099.0,498.7 L1101.0,502.5 L1103.0,506.2 L1105.0,509.7 L1107.0,513.0 L1109.0,516.1 L1111.0,519.0 L1113.0,521.8 L1115.0,524.4 L1117.0,526.8 L1119.0,529.1 L1121.0,531.3 L1123.0,533.3 L1125.0,535.2 L1127.0,537.0 L1129.0,538.7 L1131.0,540.2 L1133.0,541.7 L1135.0,543.0 L1137.0,544.2 L1139.0,545.3 L1141.0,546.3 L1143.0,547.1 L1145.0,547.9 L1147.0,548.5 L1149.0,549.0 L1151.0,549.4 L1153.0,549.6 L1155.0,549.8 L1157.0,549.8 L1159.0,549.8 L1161.0,549.6 L1163.0,549.3 L1165.0,548.9 L1167.0,548.4 L1169.0,547.7 L1171.0,547.0 L1173.0,546.2 L1175.0,545.3 L1177.0,544.3 L1179.0,543.2 L1181.0,542.0 L1183.0,540.7 L1185.0,539.4 L1187.0,538.0 L1189.0,536.5 L1191.0,534.9 L1193.0,533.3 L1195.0,531.6 L1197.0,529.9 L1199.0,528.1 L1201.0,526.3 L1203.0,524.4 L1205.0,522.5 L1207.0,520.5 L1209.0,518.5 L1211.0,516.5 L1213.0,514.5 L1215.0,512.4 L1217.0,510.3 L1219.0,508.2 L1221.0,506.1 L1223.0,504.0 L1225.0,501.9 L1227.0,499.8 L1229.0,497.7 L1231.0,495.6 L1233.0,493.5 L1235.0,491.5 L1237.0,489.4 L1239.0,487.4 L1241.0,485.4 L1243.0,483.4 L1245.0,481.5 L1247.0,479.5 L1249.0,477.7 L1251.0,475.8 L1253.0,474.0 L1255.0,472.2 L1257.0,470.4 L1259.0,468.7 L1261.0,467.1 L1263.0,465.4 L1265.0,463.9 L1267.0,462.3 L1269.0,460.8 L1271.0,459.3 L1273.0,457.9 L1275.0,456.5 L1277.0,455.2 L1279.0,453.9 L1281.0,452.6 L1283.0,451.4 L1285.0,450.2 L1287.0,449.1 L1289.0,447.9 L1291.0,446.9 L1293.0,445.8 L1295.0,444.8 L1297.0,443.8 L1299.0,442.8 L1301.0,441.8 L1303.0,440.9 L1305.0,440.0 L1307.0,439.0 L1309.0,438.1 L1311.0,437.2 L1313.0,436.3 L1315.0,435.4 L1317.0,434.4 L1319.0,433.5 L1321.0,432.5 L1323.0,431.5 L1325.0,430.6 L1327.0,429.5 L1329.0,428.5 L1331.0,427.4 L1333.0,426.3 L1335.0,425.1 L1337.0,423.9 L1339.0,422.6 L1341.0,421.3 L1343.0,420.0 L1345.0,418.5 L1347.0,417.0 L1349.0,415.5 L1351.0,413.9 L1353.0,412.2 L1355.0,410.4 L1357.0,408.6 L1359.0,406.7 L1361.0,404.7 L1363.0,402.6 L1365.0,400.5 L1367.0,398.3 L1369.0,396.0 L1371.0,393.6 L1373.0,391.2 L1375.0,388.6 L1377.0,386.1 L1379.0,383.4 L1381.0,380.7 L1383.0,377.9 L1385.0,375.0 L1387.0,372.1 L1389.0,369.1 L1391.0,366.1 L1393.0,363.0 L1395.0,359.9 L1397.0,356.8 L1399.0,353.6 L1401.0,350.4 L1403.0,347.2 L1405.0,344.0 L1407.0,340.8 L1409.0,337.7 L1411.0,334.6 L1413.0,331.6 L1415.0,328.7 L1417.0,325.9 L1419.0,323.3 L1421.0,320.8 L1423.0,318.4 L1425.0,316.1 L1427.0,313.9 L1429.0,311.8 L1431.0,309.8 L1433.0,307.8 L1435.0,305.8 L1437.0,304.0 L1439.0,302.2 L1441.0,300.6 L1443.0,299.0 L1445.0,297.6 L1447.0,296.3 L1449.0,295.1 L1451.0,294.1 L1453.0,293.2 L1455.0,292.5 L1457.0,291.9 L1459.0,291.5 L1461.0,291.3 L1463.0,291.3 L1465.0,291.4 L1467.0,291.7 L1469.0,292.2 L1471.0,292.8 L1473.0,293.6 L1475.0,294.6 L1477.0,295.7 L1479.0,297.0 L1481.0,298.5 L1483.0,300.2 L1485.0,302.0 L1487.0,304.0 L1489.0,306.1 L1491.0,308.4 L1493.0,310.8 L1495.0,313.4 L1497.0,316.1 L1499.0,319.0 L1501.0,322.0 L1503.0,325.1 L1505.0,328.4 L1507.0,331.8 L1509.0,335.2 L1511.0,338.8 L1513.0,342.5 L1515.0,346.2 L1517.0,350.1 L1519.0,354.0 L1521.0,357.9 L1523.0,362.0 L1525.0,366.0 L1527.0,370.2 L1529.0,374.3 L1531.0,378.5 L1533.0,382.7 L1535.0,386.9 L1537.0,391.1 L1539.0,395.3 L1541.0,399.5 L1543.0,403.7 L1545.0,407.9 L1547.0,412.0 L1549.0,416.2 L1551.0,420.3 L1553.0,424.3 L1555.0,428.4 L1557.0,432.4 L1559.0,436.4 L1561.0,440.3 L1563.0,444.2 L1565.0,448.1 L1567.0,451.9 L1569.0,455.7 L1571.0,459.5 L1573.0,463.2 L1575.0,466.8 L1577.0,470.4 L1579.0,474.0 L1581.0,477.5 L1583.0,480.9 L1585.0,484.3 L1587.0,487.6 L1589.0,490.9 L1591.0,494.1 L1593.0,497.2 L1595.0,500.3 L1597.0,503.2 L1599.0,506.2 L1601.0,509.0 L1603.0,511.8 L1605.0,514.5 L1607.0,517.2 L1609.0,519.8 L1611.0,522.3 L1613.0,524.7 L1615.0,527.1 L1617.0,529.4 L1619.0,531.6 L1621.0,533.8 L1623.0,535.9 L1625.0,537.9 L1627.0,539.9 L1629.0,541.7 L1631.0,543.6 L1633.0,545.3 L1635.0,547.0 L1637.0,548.7 L1639.0,550.3 L1641.0,551.8 L1643.0,553.2 L1645.0,554.6 L1647.0,556.0 L1649.0,557.3 L1651.0,558.5 L1653.0,559.7 L1655.0,560.8 L1657.0,561.9 L1659.0,563.0 L1661.0,564.0 L1663.0,564.9 L1665.0,565.8 L1667.0,566.7 L1669.0,567.5 L1671.0,568.3 L1673.0,569.0 L1675.0,569.8 L1677.0,570.4 L1679.0,571.1 L1681.0,571.7 L1683.0,572.3 L1685.0,572.8 L1687.0,573.4 L1689.0,573.9 L1691.0,574.3 L1693.0,574.8 L1695.0,575.2 L1697.0,575.6 L1699.0,576.0 L1701.0,576.3 L1703.0,576.7 L1705.0,577.0 L1707.0,577.3 L1709.0,577.6 L1711.0,577.9 L1713.0,578.1 L1715.0,578.4 L1717.0,578.6 L1719.0,578.9 L1721.0,579.1 L1723.0,579.3 L1725.0,579.4 L1727.0,579.6 L1729.0,579.8 L1731.0,580.0 L1733.0,580.1 L1735.0,580.3 L1737.0,580.4 L1739.0,580.5 L1741.0,580.7 L1743.0,580.8 L1745.0,580.9 L1747.0,581.0 L1749.0,581.1 L1751.0,581.2 L1753.0,581.3 L1755.0,581.4 L1757.0,581.5 L1759.0,581.6 L1761.0,581.7 L1763.0,581.7 L1765.0,581.8 L1767.0,581.9 L1769.0,582.0 L1771.0,582.0 L1773.0,582.1 L1775.0,582.2 L1777.0,582.3 L1779.0,582.3 L1781.0,582.4 L1783.0,582.5 L1785.0,582.5 L1787.0,582.6 L1789.0,582.7 L1791.0,582.7 L1793.0,582.8 L1795.0,582.8 L1797.0,582.9 L1799.0,583.0 L1801.0,583.0 L1803.0,583.1 L1805.0,583.1 L1807.0,583.2 L1809.0,583.3 L1811.0,583.3 L1813.0,583.4 L1815.0,583.4 L1817.0,583.5 L1819.0,583.6 L1821.0,583.6 L1823.0,583.7 L1825.0,583.7 L1827.0,583.8 L1829.0,583.8 L1831.0,583.9 L1833.0,584.0 L1835.0,584.0 L1837.0,584.1 L1839.0,584.1 L1841.0,584.2 L1843.0,584.2 L1845.0,584.3 L1847.0,584.4 L1849.0,584.4 L1851.0,584.5 L1853.0,584.5 L1855.0,584.6 L1857.0,584.6 L1859.0,584.7 L1861.0,584.8 L1863.0,584.8 L1865.0,584.9 L1867.0,584.9 L1869.0,585.0 L1871.0,585.0 L1873.0,585.1 L1875.0,585.2 L1877.0,585.2 L1879.0,585.3 L1881.0,585.3 L1883.0,585.4 L1885.0,585.4 L1887.0,585.5 L1889.0,585.5 L1891.0,585.6 L1893.0,585.6 L1895.0,585.7 L1897.0,585.7 L1899.0,585.8 L1901.0,585.8 L1903.0,585.9 L1905.0,585.9 L1907.0,586.0 L1909.0,586.0 L1911.0,586.1 L1913.0,586.1 L1915.0,586.2 L1917.0,586.2 L1919.0,586.2 L1921.0,586.3 L1923.0,586.3 L1925.0,586.4 L1927.0,586.4 L1929.0,586.4 L1931.0,586.5 L1933.0,586.5 L1935.0,586.5 L1937.0,586.6 L1939.0,586.6 L1941.0,586.6 L1943.0,586.7 L1945.0,586.7 L1947.0,586.7" class="r"/>
<path d="M302.0,1333.0 L304.0,1333.0 L306.0,1332.9 L308.0,1332.8 L310.0,1332.8 L312.0,1332.7 L314.0,1332.6 L316.0,1332.6 L318.0,1332.5 L320.0,1332.4 L322.0,1332.3 L324.0,1332.3 L326.0,1332.2 L328.0,1332.1 L330.0,1332.0 L332.0,1331.9 L334.0,1331.8 L336.0,1331.7 L338.0,1331.6 L340.0,1331.6 L342.0,1331.5 L344.0,1331.4 L346.0,1331.3 L348.0,1331.2 L350.0,1331.1 L352.0,1331.0 L354.0,1330.9 L356.0,1330.8 L358.0,1330.6 L360.0,1330.5 L362.0,1330.4 L364.0,1330.3 L366.0,1330.2 L368.0,1330.1 L370.0,1330.0 L372.0,1329.9 L374.0,1329.7 L376.0,1329.6 L378.0,1329.5 L380.0,1329.4 L382.0,1329.2 L384.0,1329.1 L386.0,1329.0 L388.0,1328.9 L390.0,1328.7 L392.0,1328.6 L394.0,1328.5 L396.0,1328.3 L398.0,1328.2 L400.0,1328.1 L402.0,1327.9 L404.0,1327.8 L406.0,1327.6 L408.0,1327.5 L410.0,1327.3 L412.0,1327.2 L414.0,1327.0 L416.0,1326.9 L418.0,1326.7 L420.0,1326.6 L422.0,1326.4 L424.0,1326.2 L426.0,1326.1 L428.0,1325.9 L430.0,1325.7 L432.0,1325.6 L434.0,1325.4 L436.0,1325.2 L438.0,1325.0 L440.0,1324.8 L442.0,1324.7 L444.0,1324.5 L446.0,1324.3 L448.0,1324.1 L450.0,1323.9 L452.0,1323.7 L454.0,1323.4 L456.0,1323.2 L458.0,1323.0 L460.0,1322.8 L462.0,1322.5 L464.0,1322.3 L466.0,1322.1 L468.0,1321.8 L470.0,1321.6 L472.0,1321.3 L474.0,1321.0 L476.0,1320.8 L478.0,1320.5 L480.0,1320.2 L482.0,1319.9 L484.0,1319.6 L486.0,1319.3 L488.0,1319.0 L490.0,1318.7 L492.0,1318.4 L494.0,1318.0 L496.0,1317.7 L498.0,1317.3 L500.0,1317.0 L502.0,1316.6 L504.0,1316.2 L506.0,1315.8 L508.0,1315.4 L510.0,1315.0 L512.0,1314.6 L514.0,1314.2 L516.0,1313.7 L518.0,1313.3 L520.0,1312.8 L522.0,1312.3 L524.0,1311.9 L526.0,1311.4 L528.0,1310.8 L530.0,1310.3 L532.0,1309.7 L534.0,1309.2 L536.0,1308.6 L538.0,1308.0 L540.0,1307.4 L542.0,1306.8 L544.0,1306.1 L546.0,1305.4 L548.0,1304.7 L550.0,1304.0 L552.0,1303.3 L554.0,1302.5 L556.0,1301.7 L558.0,1300.9 L560.0,1300.1 L562.0,1299.2 L564.0,1298.3 L566.0,1297.4 L568.0,1296.4 L570.0,1295.4 L572.0,1294.4 L574.0,1293.3 L576.0,1292.3 L578.0,1291.1 L580.0,1290.0 L582.0,1288.8 L584.0,1287.5 L586.0,1286.3 L588.0,1284.9 L590.0,1283.6 L592.0,1282.2 L594.0,1280.7 L596.0,1279.2 L598.0,1277.7 L600.0,1276.1 L602.0,1274.5 L604.0,1272.8 L606.0,1271.1 L608.0,1269.3 L610.0,1267.4 L612.0,1265.6 L614.0,1263.6 L616.0,1261.6 L618.0,1259.6 L620.0,1257.5 L622.0,1255.3 L624.0,1253.1 L626.0,1250.8 L628.0,1248.5 L630.0,1246.1 L632.0,1243.6 L634.0,1241.1 L636.0,1238.6 L638.0,1235.9 L640.0,1233.2 L642.0,1230.5 L644.0,1227.7 L646.0,1224.8 L648.0,1221.9 L650.0,1218.9 L652.0,1215.9 L654.0,1212.8 L656.0,1209.6 L658.0,1206.4 L660.0,1203.1 L662.0,1199.8 L664.0,1196.4 L666.0,1193.0 L668.0,1189.4 L670.0,1185.9 L672.0,1182.3 L674.0,1178.6 L676.0,1174.9 L678.0,1171.1 L680.0,1167.2 L682.0,1163.3 L684.0,1159.4 L686.0,1155.4 L688.0,1151.3 L690.0,1147.2 L692.0,1143.1 L694.0,1138.9 L696.0,1134.6 L698.0,1130.3 L700.0,1126.0 L702.0,1121.6 L704.0,1117.2 L706.0,1112.7 L708.0,1108.2 L710.0,1103.7 L712.0,1099.1 L714.0,1094.5 L716.0,1089.8 L718.0,1085.2 L720.0,1080.5 L722.0,1075.7 L724.0,1071.0 L726.0,1066.2 L728.0,1061.4 L730.0,1056.6 L732.0,1051.8 L734.0,1046.9 L736.0,1042.1 L738.0,1037.2 L740.0,1032.3 L742.0,1027.5 L744.0,1022.6 L746.0,1017.7 L748.0,1012.8 L750.0,1008.0 L752.0,1003.1 L754.0,998.3 L756.0,993.5 L758.0,988.6 L760.0,983.8 L762.0,979.1 L764.0,974.3 L766.0,969.6 L768.0,964.9 L770.0,960.2 L772.0,955.6 L774.0,951.0 L776.0,946.5 L778.0,941.9 L780.0,937.5 L782.0,933.0 L784.0,928.6 L786.0,924.3 L788.0,919.9 L790.0,915.7 L792.0,911.5 L794.0,907.3 L796.0,903.2 L798.0,899.1 L800.0,895.1 L802.0,891.2 L804.0,887.3 L806.0,883.4 L808.0,879.7 L810.0,875.9 L812.0,872.3 L814.0,868.6 L816.0,865.1 L818.0,861.5 L820.0,858.1 L822.0,854.7 L824.0,851.3 L826.0,848.0 L828.0,844.7 L830.0,841.5 L832.0,838.3 L834.0,835.2 L836.0,832.1 L838.0,829.1 L840.0,826.2 L842.0,823.2 L844.0,820.4 L846.0,817.6 L848.0,814.8 L850.0,812.1 L852.0,809.5 L854.0,806.9 L856.0,804.3 L858.0,801.8 L860.0,799.4 L862.0,797.1 L864.0,794.8 L866.0,792.5 L868.0,790.4 L870.0,788.3 L872.0,786.3 L874.0,784.3 L876.0,782.5 L878.0,780.7 L880.0,778.9 L882.0,777.3 L884.0,775.8 L886.0,774.3 L888.0,772.9 L890.0,771.6 L892.0,770.4 L894.0,769.3 L896.0,768.3 L898.0,767.4 L900.0,766.7 L902.0,766.0 L904.0,765.4 L906.0,765.0 L908.0,764.7 L910.0,764.5 L912.0,764.4 L914.0,764.5 L916.0,764.7 L918.0,765.1 L920.0,765.6 L922.0,766.2 L924.0,767.0 L926.0,767.9 L928.0,769.0 L930.0,770.2 L932.0,771.6 L934.0,773.1 L936.0,774.8 L938.0,776.7 L940.0,778.8 L942.0,781.0 L944.0,783.3 L946.0,785.9 L948.0,788.6 L950.0,791.4 L952.0,794.5 L954.0,797.6 L956.0,801.0 L958.0,804.4 L960.0,808.0 L962.0,811.8 L964.0,815.7 L966.0,819.6 L968.0,823.7 L970.0,827.9 L972.0,832.3 L974.0,836.7 L976.0,841.2 L978.0,845.7 L980.0,850.4 L982.0,855.1 L984.0,859.9 L986.0,864.7 L988.0,869.6 L990.0,874.5 L992.0,879.5 L994.0,884.5 L996.0,889.5 L998.0,894.5 L1000.0,899.6 L1002.0,904.6 L1004.0,909.6 L1006.0,914.7 L1008.0,919.7 L1010.0,924.7 L1012.0,929.6 L1014.0,934.5 L1016.0,939.4 L1018.0,944.3 L1020.0,949.1 L1022.0,953.9 L1024.0,958.6 L1026.0,963.3 L1028.0,967.9 L1030.0,972.5 L1032.0,977.0 L1034.0,981.4 L1036.0,985.8 L1038.0,990.1 L1040.0,994.4 L1042.0,998.6 L1044.0,1002.7 L1046.0,1006.8 L1048.0,1010.7 L1050.0,1014.6 L1052.0,1018.4 L1054.0,1022.2 L1056.0,1025.8 L1058.0,1029.4 L1060.0,1032.9 L1062.0,1036.3 L1064.0,1039.6 L1066.0,1042.8 L1068.0,1045.9 L1070.0,1048.9 L1072.0,1051.9 L1074.0,1054.7 L1076.0,1057.5 L1078.0,1060.1 L1080.0,1062.6 L1082.0,1065.1 L1084.0,1067.4 L1086.0,1069.7 L1088.0,1071.8 L1090.0,1073.8 L1092.0,1075.8 L1094.0,1077.6 L1096.0,1079.3 L1098.0,1080.9 L1100.0,1082.5 L1102.0,1083.9 L1104.0,1085.2 L1106.0,1086.4 L1108.0,1087.5 L1110.0,1088.5 L1112.0,1089.4 L1114.0,1090.2 L1116.0,1090.8 L1118.0,1091.4 L1120.0,1091.9 L1122.0,1092.3 L1124.0,1092.6 L1126.0,1092.8 L1128.0,1092.9 L1130.0,1092.9 L1132.0,1092.8 L1134.0,1092.6 L1136.0,1092.3 L1138.0,1091.9 L1140.0,1091.5 L1142.0,1090.9 L1144.0,1090.3 L1146.0,1089.6 L1148.0,1088.8 L1150.0,1087.9 L1152.0,1086.9 L1154.0,1085.8 L1156.0,1084.7 L1158.0,1083.5 L1160.0,1082.2 L1162.0,1080.8 L1164.0,1079.4 L1166.0,1077.8 L1168.0,1076.3 L1170.0,1074.6 L1172.0,1072.9 L1174.0,1071.1 L1176.0,1069.2 L1178.0,1067.3 L1180.0,1065.4 L1182.0,1063.3 L1184.0,1061.3 L1186.0,1059.1 L1188.0,1056.9 L1190.0,1054.7 L1192.0,1052.4 L1194.0,1050.1 L1196.0,1047.7 L1198.0,1045.3 L1200.0,1042.8 L1202.0,1040.3 L1204.0,1037.7 L1206.0,1035.1 L1208.0,1032.5 L1210.0,1029.8 L1212.0,1027.1 L1214.0,1024.4 L1216.0,1021.6 L1218.0,1018.8 L1220.0,1016.0 L1222.0,1013.2 L1224.0,1010.3 L1226.0,1007.4 L1228.0,1004.4 L1230.0,1001.5 L1232.0,998.5 L1234.0,995.5 L1236.0,992.5 L1238.0,989.5 L1240.0,986.5 L1242.0,983.5 L1244.0,980.4 L1246.0,977.3 L1248.0,974.3 L1250.0,971.2 L1252.0,968.1 L1254.0,965.0 L1256.0,962.0 L1258.0,958.9 L1260.0,955.8 L1262.0,952.8 L1264.0,949.8 L1266.0,946.8 L1268.0,943.8 L1270.0,940.8 L1272.0,937.8 L1274.0,934.9 L1276.0,932.0 L1278.0,929.2 L1280.0,926.3 L1282.0,923.5 L1284.0,920.8 L1286.0,918.0 L1288.0,915.3 L1290.0,912.6 L1292.0,910.0 L1294.0,907.3 L1296.0,904.8 L1298.0,902.2 L1300.0,899.7 L1302.0,897.2 L1304.0,894.8 L1306.0,892.4 L1308.0,890.1 L1310.0,887.8 L1312.0,885.5 L1314.0,883.2 L1316.0,881.0 L1318.0,878.9 L1320.0,876.7 L1322.0,874.6 L1324.0,872.6 L1326.0,870.6 L1328.0,868.6 L1330.0,866.7 L1332.0,864.8 L1334.0,863.0 L1336.0,861.1 L1338.0,859.4 L1340.0,857.7 L1342.0,856.0 L1344.0,854.4 L1346.0,852.8 L1348.0,851.3 L1350.0,849.9 L1352.0,848.5 L1354.0,847.1 L1356.0,845.8 L1358.0,844.6 L1360.0,843.5 L1362.0,842.4 L1364.0,841.4 L1366.0,840.4 L1368.0,839.6 L1370.0,838.8 L1372.0,838.0 L1374.0,837.4 L1376.0,836.8 L1378.0,836.2 L1380.0,835.7 L1382.0,835.2 L1384.0,834.8 L1386.0,834.4 L1388.0,833.9 L1390.0,833.6 L1392.0,833.2 L1394.0,832.8 L1396.0,832.4 L1398.0,832.1 L1400.0,831.8 L1402.0,831.6 L1404.0,831.4 L1406.0,831.4 L1408.0,831.3 L1410.0,831.4 L1412.0,831.6 L1414.0,831.9 L1416.0,832.3 L1418.0,832.9 L1420.0,833.6 L1422.0,834.4 L1424.0,835.3 L1426.0,836.3 L1428.0,837.5 L1430.0,838.9 L1432.0,840.3 L1434.0,841.9 L1436.0,843.6 L1438.0,845.4 L1440.0,847.3 L1442.0,849.4 L1444.0,851.5 L1446.0,853.7 L1448.0,856.1 L1450.0,858.5 L1452.0,861.0 L1454.0,863.6 L1456.0,866.2 L1458.0,869.0 L1460.0,871.8 L1462.0,874.6 L1464.0,877.5 L1466.0,880.5 L1468.0,883.6 L1470.0,886.6 L1472.0,889.8 L1474.0,893.0 L1476.0,896.2 L1478.0,899.5 L1480.0,902.8 L1482.0,906.1 L1484.0,909.5 L1486.0,912.9 L1488.0,916.3 L1490.0,919.7 L1492.0,923.2 L1494.0,926.6 L1496.0,930.1 L1498.0,933.6 L1500.0,937.1 L1502.0,940.6 L1504.0,944.1 L1506.0,947.6 L1508.0,951.1 L1510.0,954.6 L1512.0,958.1 L1514.0,961.5 L1516.0,965.0 L1518.0,968.4 L1520.0,971.8 L1522.0,975.2 L1524.0,978.5 L1526.0,981.8 L1528.0,985.1 L1530.0,988.4 L1532.0,991.6 L1534.0,994.7 L1536.0,997.9 L1538.0,1001.0 L1540.0,1004.1 L1542.0,1007.1 L1544.0,1010.1 L1546.0,1013.0 L1548.0,1015.9 L1550.0,1018.8 L1552.0,1021.6 L1554.0,1024.3 L1556.0,1027.1 L1558.0,1029.7 L1560.0,1032.4 L1562.0,1034.9 L1564.0,1037.5 L1566.0,1039.9 L1568.0,1042.4 L1570.0,1044.7 L1572.0,1047.1 L1574.0,1049.4 L1576.0,1051.6 L1578.0,1053.8 L1580.0,1055.9 L1582.0,1058.0 L1584.0,1060.0 L1586.0,1062.0 L1588.0,1064.0 L1590.0,1065.9 L1592.0,1067.7 L1594.0,1069.5 L1596.0,1071.3 L1598.0,1073.0 L1600.0,1074.6 L1602.0,1076.2 L1604.0,1077.8 L1606.0,1079.3 L1608.0,1080.8 L1610.0,1082.3 L1612.0,1083.7 L1614.0,1085.0 L1616.0,1086.4 L1618.0,1087.7 L1620.0,1088.9 L1622.0,1090.1 L1624.0,1091.3 L1626.0,1092.4 L1628.0,1093.5 L1630.0,1094.6 L1632.0,1095.6 L1634.0,1096.6 L1636.0,1097.6 L1638.0,1098.6 L1640.0,1099.5 L1642.0,1100.3 L1644.0,1101.2 L1646.0,1102.0 L1648.0,1102.8 L1650.0,1103.6 L1652.0,1104.3 L1654.0,1105.1 L1656.0,1105.8 L1658.0,1106.4 L1660.0,1107.1 L1662.0,1107.7 L1664.0,1108.3 L1666.0,1108.9 L1668.0,1109.5 L1670.0,1110.0 L1672.0,1110.6 L1674.0,1111.1 L1676.0,1111.6 L1678.0,1112.0 L1680.0,1112.5 L1682.0,1112.9 L1684.0,1113.4 L1686.0,1113.8 L1688.0,1114.2 L1690.0,1114.6 L1692.0,1114.9 L1694.0,1115.3 L1696.0,1115.6 L1698.0,1116.0 L1700.0,1116.3 L1702.0,1116.6 L1704.0,1116.9 L1706.0,1117.2 L1708.0,1117.5 L1710.0,1117.8 L1712.0,1118.0 L1714.0,1118.3 L1716.0,1118.6 L1718.0,1118.8 L1720.0,1119.0 L1722.0,1119.3 L1724.0,1119.5 L1726.0,1119.7 L1728.0,1119.9 L1730.0,1120.1 L1732.0,1120.3 L1734.0,1120.5 L1736.0,1120.7 L1738.0,1120.8 L1740.0,1121.0 L1742.0,1121.2 L1744.0,1121.4 L1746.0,1121.5 L1748.0,1121.7 L1750.0,1121.8 L1752.0,1122.0 L1754.0,1122.1 L1756.0,1122.3 L1758.0,1122.4 L1760.0,1122.5 L1762.0,1122.7 L1764.0,1122.8 L1766.0,1122.9 L1768.0,1123.0 L1770.0,1123.2 L1772.0,1123.3 L1774.0,1123.4 L1776.0,1123.5 L1778.0,1123.6 L1780.0,1123.7 L1782.0,1123.8 L1784.0,1123.9 L1786.0,1124.1 L1788.0,1124.2 L1790.0,1124.3 L1792.0,1124.4 L1794.0,1124.5 L1796.0,1124.6 L1798.0,1124.6 L1800.0,1124.7 L1802.0,1124.8 L1804.0,1124.9 L1806.0,1125.0 L1808.0,1125.1 L1810.0,1125.2 L1812.0,1125.3 L1814.0,1125.4 L1816.0,1125.4 L1818.0,1125.5 L1820.0,1125.6 L1822.0,1125.7 L1824.0,1125.8 L1826.0,1125.8 L1828.0,1125.9 L1830.0,1126.0 L1832.0,1126.1 L1834.0,1126.1 L1836.0,1126.2 L1838.0,1126.3 L1840.0,1126.4 L1842.0,1126.4 L1844.0,1126.5 L1846.0,1126.6 L1848.0,1126.6 L1850.0,1126.7 L1852.0,1126.8 L1854.0,1126.8 L1856.0,1126.9 L1858.0,1126.9 L1860.0,1127.0 L1862.0,1127.1 L1864.0,1127.1 L1866.0,1127.2 L1868.0,1127.2 L1870.0,1127.3 L1872.0,1127.3 L1874.0,1127.4 L1876.0,1127.4 L1878.0,1127.5 L1880.0,1127.5 L1882.0,1127.6 L1884.0,1127.6 L1886.0,1127.7 L1888.0,1127.7 L1890.0,1127.8 L1892.0,1127.8 L1894.0,1127.8 L1896.0,1127.9 L1898.0,1127.9 L1900.0,1127.9 L1902.0,1128.0 L1904.0,1128.0 L1906.0,1128.0 L1908.0,1128.1 L1910.0,1128.1 L1912.0,1128.1 L1914.0,1128.2 L1916.0,1128.2 L1918.0,1128.2 L1920.0,1128.2 L1922.0,1128.2 L1924.0,1128.3 L1926.0,1128.3 L1928.0,1128.3 L1930.0,1128.3 L1932.0,1128.3 L1934.0,1128.3 L1936.0,1128.3 L1938.0,1128.3 L1940.0,1128.3 L1942.0,1128.4 L1944.0,1128.4 L1946.0,1128.4 L1948.0,1128.4 L1950.0,1128.4" class="r"/>
<g class="ax"><rect x="789.5" y="347" width="5" height="972"/><rect x="974" y="118" width="5" height="607"/><rect x="934.4" y="727" width="4.6" height="494"/></g>
<g class="ax"><rect x="300" y="158" width="6" height="1237"/><rect x="300" y="1379" width="1688" height="6"/><rect x="290" y="295" width="10" height="6"/><rect x="278" y="470" width="22" height="6"/><rect x="290" y="645" width="10" height="6"/><rect x="278" y="819" width="22" height="6"/><rect x="290" y="994" width="10" height="6"/><rect x="278" y="1169" width="22" height="6"/><rect x="290" y="1344" width="10" height="6"/><rect x="487" y="1385" width="6" height="22"/><rect x="674" y="1385" width="6" height="10"/><rect x="861" y="1385" width="6" height="22"/><rect x="1048" y="1385" width="6" height="10"/><rect x="1234" y="1385" width="6" height="22"/><rect x="1421" y="1385" width="6" height="10"/><rect x="1608" y="1385" width="6" height="22"/><rect x="1795" y="1385" width="6" height="10"/><rect x="1982" y="1385" width="6" height="22"/></g>
<text x="489.3" y="1480.3" class="tl" text-anchor="middle" textLength="125.0" lengthAdjust="spacingAndGlyphs">332</text>
<text x="863.1" y="1480.3" class="tl" text-anchor="middle" textLength="125.0" lengthAdjust="spacingAndGlyphs">336</text>
<text x="1236.8" y="1480.3" class="tl" text-anchor="middle" textLength="125.0" lengthAdjust="spacingAndGlyphs">340</text>
<text x="1610.6" y="1480.3" class="tl" text-anchor="middle" textLength="125.0" lengthAdjust="spacingAndGlyphs">344</text>
<text x="1984.4" y="1480.3" class="tl" text-anchor="middle" textLength="125.0" lengthAdjust="spacingAndGlyphs">348</text>
<text x="707.3" y="1656" class="at" textLength="875.0" lengthAdjust="spacingAndGlyphs">Binding energy, eV</text>
<text transform="translate(104.5,1064.0) rotate(-90)" class="at" textLength="766.0" lengthAdjust="spacingAndGlyphs">Intensity, arb.un.</text>
<text x="846.0" y="84.4" class="pk" textLength="279.0" lengthAdjust="spacingAndGlyphs">337.2 eV</text>
<text x="542.0" y="298.3" class="pk" textLength="278.5" lengthAdjust="spacingAndGlyphs">335.2 eV</text>
<text x="1002.0" y="807" class="pk" textLength="279.0" lengthAdjust="spacingAndGlyphs">336.7 eV</text>
<text y="236.1" class="cl"><tspan x="1366.5" y="236.1" textLength="442.5" lengthAdjust="spacingAndGlyphs">3%Pd/HPS(PdCl</tspan><tspan class="sub" x="1809.2" y="259.8" textLength="18.1" lengthAdjust="spacingAndGlyphs">2</tspan><tspan x="1829.0" y="236.1" textLength="103.6" lengthAdjust="spacingAndGlyphs">(CH</tspan><tspan class="sub" x="1933.4" y="259.8" textLength="18.1" lengthAdjust="spacingAndGlyphs">3</tspan><tspan x="1953.3" y="236.1" textLength="102.4" lengthAdjust="spacingAndGlyphs">CN)</tspan><tspan class="sub" x="2057.3" y="259.8" textLength="18.1" lengthAdjust="spacingAndGlyphs">2</tspan><tspan x="2078.2" y="236.1" textLength="17.5" lengthAdjust="spacingAndGlyphs">)</tspan></text>
<text y="1313.0" class="cl"><tspan x="1363.2" y="1313.0" textLength="382.8" lengthAdjust="spacingAndGlyphs">3%Pd/HPS(Pd</tspan><tspan x="1747.4" y="1313.0" textLength="103.4" lengthAdjust="spacingAndGlyphs">(CH</tspan><tspan class="sub" x="1852.5" y="1336.7" textLength="18.1" lengthAdjust="spacingAndGlyphs">3</tspan><tspan x="1871.2" y="1313.0" textLength="151.4" lengthAdjust="spacingAndGlyphs">COO)</tspan><tspan class="sub" x="2023.3" y="1336.7" textLength="18.1" lengthAdjust="spacingAndGlyphs">2</tspan><tspan x="2044.7" y="1313.0" textLength="17.5" lengthAdjust="spacingAndGlyphs">)</tspan></text>
</svg>
</body></html>
